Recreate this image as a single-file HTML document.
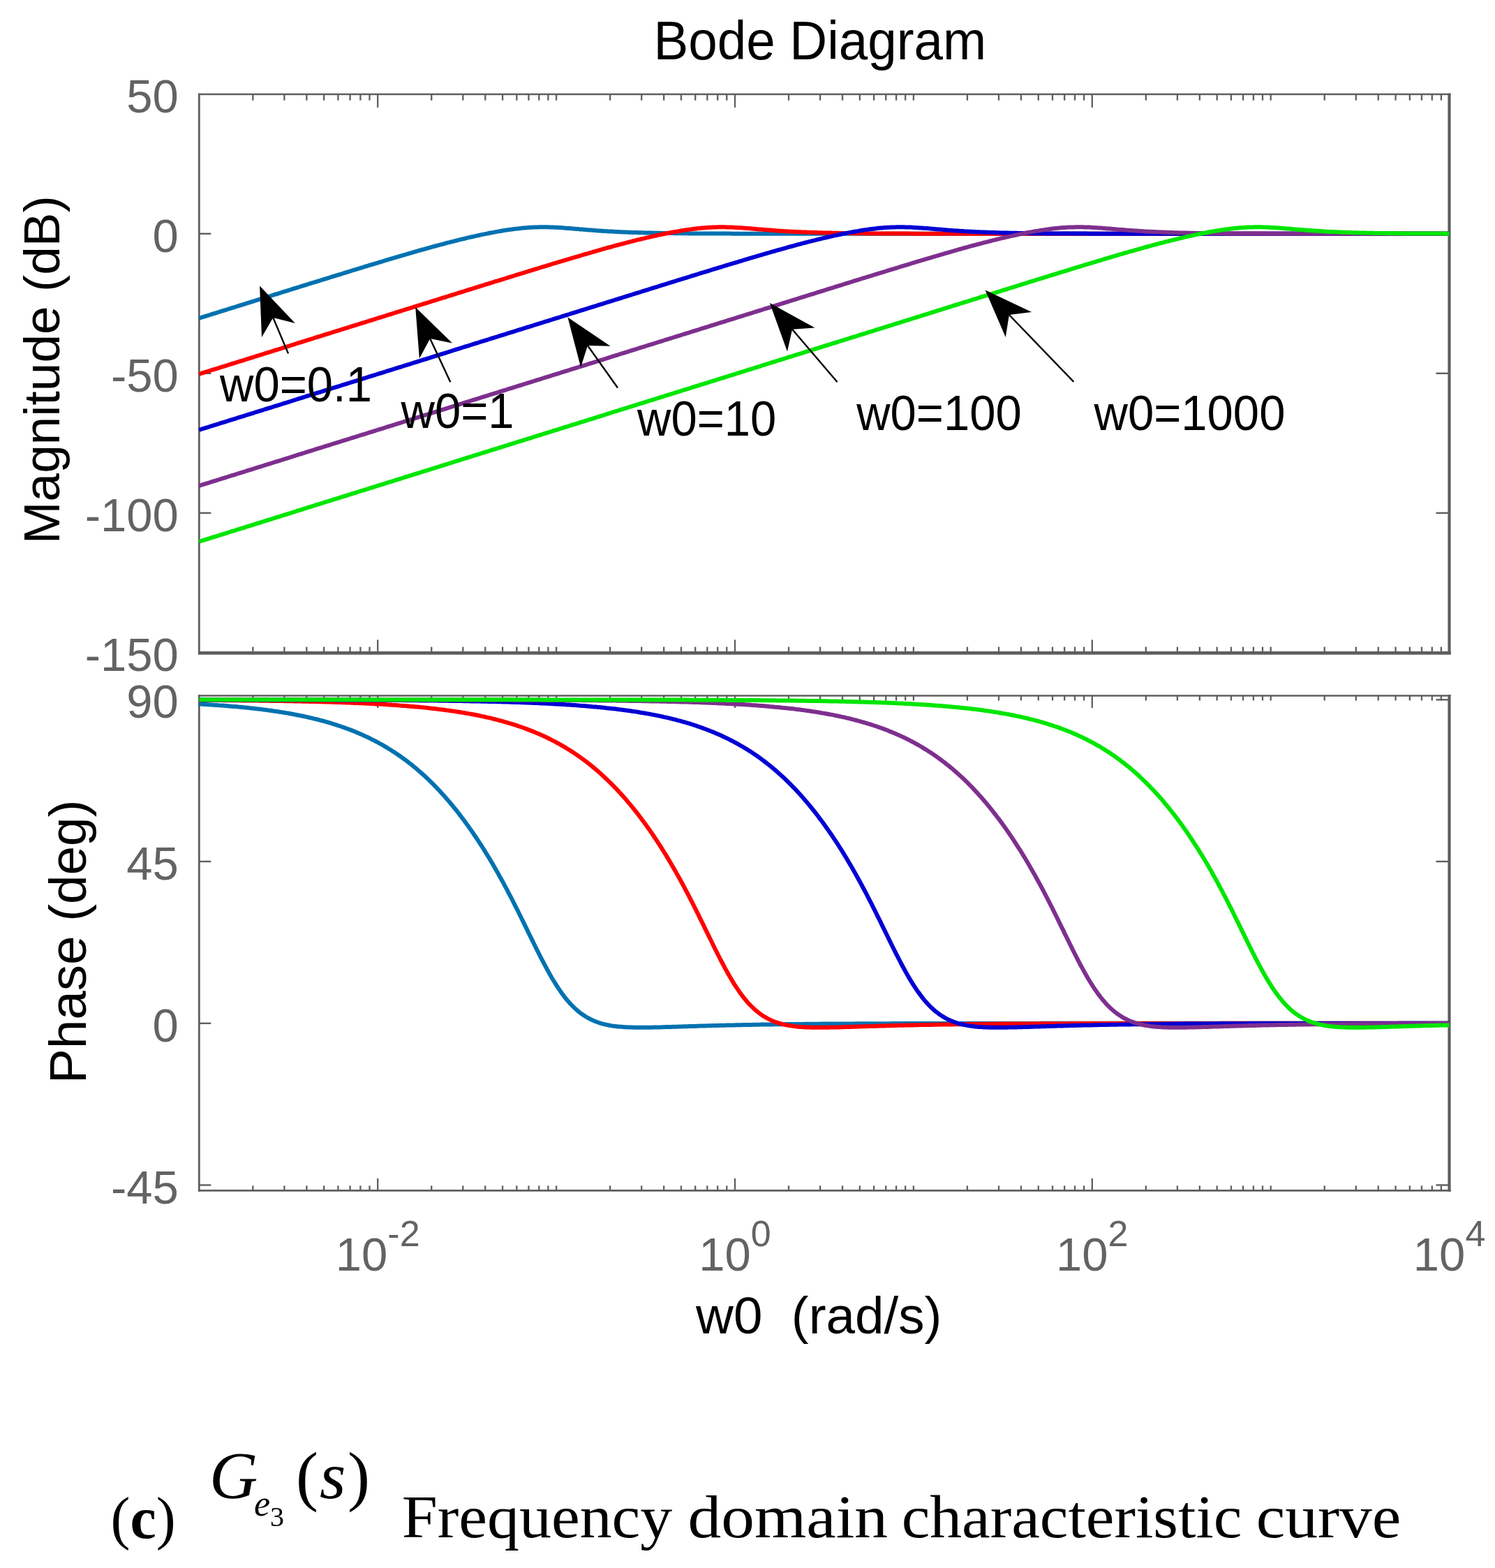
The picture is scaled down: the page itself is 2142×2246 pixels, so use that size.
<!DOCTYPE html>
<html><head><meta charset="utf-8"><title>Bode Diagram</title>
<style>html,body{margin:0;padding:0;background:#fff;} body{width:2142px;height:2246px;overflow:hidden;} svg{display:block;}</style>
</head><body>
<svg width="2142" height="2246" viewBox="0 0 2142 2246"><rect width="2142" height="2246" fill="#fff"/>
<line x1="283.9" y1="135.0" x2="2078.8" y2="135.0" stroke="#5e5e5e" stroke-width="2.4"/>
<line x1="283.9" y1="935.4" x2="2078.8" y2="935.4" stroke="#5e5e5e" stroke-width="4.6"/>
<line x1="285.3" y1="133.8" x2="285.3" y2="936.7" stroke="#5e5e5e" stroke-width="2.8"/>
<line x1="2076.5" y1="133.8" x2="2076.5" y2="936.7" stroke="#5e5e5e" stroke-width="4.2"/>
<line x1="362.33" y1="935.4" x2="362.33" y2="926.6" stroke="#5e5e5e" stroke-width="2.3"/>
<line x1="362.33" y1="135.0" x2="362.33" y2="143.8" stroke="#5e5e5e" stroke-width="2.3"/>
<line x1="407.40" y1="935.4" x2="407.40" y2="926.6" stroke="#5e5e5e" stroke-width="2.3"/>
<line x1="407.40" y1="135.0" x2="407.40" y2="143.8" stroke="#5e5e5e" stroke-width="2.3"/>
<line x1="439.37" y1="935.4" x2="439.37" y2="926.6" stroke="#5e5e5e" stroke-width="2.3"/>
<line x1="439.37" y1="135.0" x2="439.37" y2="143.8" stroke="#5e5e5e" stroke-width="2.3"/>
<line x1="464.17" y1="935.4" x2="464.17" y2="926.6" stroke="#5e5e5e" stroke-width="2.3"/>
<line x1="464.17" y1="135.0" x2="464.17" y2="143.8" stroke="#5e5e5e" stroke-width="2.3"/>
<line x1="484.43" y1="935.4" x2="484.43" y2="926.6" stroke="#5e5e5e" stroke-width="2.3"/>
<line x1="484.43" y1="135.0" x2="484.43" y2="143.8" stroke="#5e5e5e" stroke-width="2.3"/>
<line x1="501.56" y1="935.4" x2="501.56" y2="926.6" stroke="#5e5e5e" stroke-width="2.3"/>
<line x1="501.56" y1="135.0" x2="501.56" y2="143.8" stroke="#5e5e5e" stroke-width="2.3"/>
<line x1="516.40" y1="935.4" x2="516.40" y2="926.6" stroke="#5e5e5e" stroke-width="2.3"/>
<line x1="516.40" y1="135.0" x2="516.40" y2="143.8" stroke="#5e5e5e" stroke-width="2.3"/>
<line x1="529.49" y1="935.4" x2="529.49" y2="926.6" stroke="#5e5e5e" stroke-width="2.3"/>
<line x1="529.49" y1="135.0" x2="529.49" y2="143.8" stroke="#5e5e5e" stroke-width="2.3"/>
<line x1="541.20" y1="935.4" x2="541.20" y2="916.4" stroke="#5e5e5e" stroke-width="2.3"/>
<line x1="541.20" y1="135.0" x2="541.20" y2="154.0" stroke="#5e5e5e" stroke-width="2.3"/>
<line x1="618.23" y1="935.4" x2="618.23" y2="926.6" stroke="#5e5e5e" stroke-width="2.3"/>
<line x1="618.23" y1="135.0" x2="618.23" y2="143.8" stroke="#5e5e5e" stroke-width="2.3"/>
<line x1="663.30" y1="935.4" x2="663.30" y2="926.6" stroke="#5e5e5e" stroke-width="2.3"/>
<line x1="663.30" y1="135.0" x2="663.30" y2="143.8" stroke="#5e5e5e" stroke-width="2.3"/>
<line x1="695.27" y1="935.4" x2="695.27" y2="926.6" stroke="#5e5e5e" stroke-width="2.3"/>
<line x1="695.27" y1="135.0" x2="695.27" y2="143.8" stroke="#5e5e5e" stroke-width="2.3"/>
<line x1="720.07" y1="935.4" x2="720.07" y2="926.6" stroke="#5e5e5e" stroke-width="2.3"/>
<line x1="720.07" y1="135.0" x2="720.07" y2="143.8" stroke="#5e5e5e" stroke-width="2.3"/>
<line x1="740.33" y1="935.4" x2="740.33" y2="926.6" stroke="#5e5e5e" stroke-width="2.3"/>
<line x1="740.33" y1="135.0" x2="740.33" y2="143.8" stroke="#5e5e5e" stroke-width="2.3"/>
<line x1="757.46" y1="935.4" x2="757.46" y2="926.6" stroke="#5e5e5e" stroke-width="2.3"/>
<line x1="757.46" y1="135.0" x2="757.46" y2="143.8" stroke="#5e5e5e" stroke-width="2.3"/>
<line x1="772.30" y1="935.4" x2="772.30" y2="926.6" stroke="#5e5e5e" stroke-width="2.3"/>
<line x1="772.30" y1="135.0" x2="772.30" y2="143.8" stroke="#5e5e5e" stroke-width="2.3"/>
<line x1="785.39" y1="935.4" x2="785.39" y2="926.6" stroke="#5e5e5e" stroke-width="2.3"/>
<line x1="785.39" y1="135.0" x2="785.39" y2="143.8" stroke="#5e5e5e" stroke-width="2.3"/>
<line x1="797.10" y1="935.4" x2="797.10" y2="926.6" stroke="#5e5e5e" stroke-width="2.3"/>
<line x1="797.10" y1="135.0" x2="797.10" y2="143.8" stroke="#5e5e5e" stroke-width="2.3"/>
<line x1="874.13" y1="935.4" x2="874.13" y2="926.6" stroke="#5e5e5e" stroke-width="2.3"/>
<line x1="874.13" y1="135.0" x2="874.13" y2="143.8" stroke="#5e5e5e" stroke-width="2.3"/>
<line x1="919.20" y1="935.4" x2="919.20" y2="926.6" stroke="#5e5e5e" stroke-width="2.3"/>
<line x1="919.20" y1="135.0" x2="919.20" y2="143.8" stroke="#5e5e5e" stroke-width="2.3"/>
<line x1="951.17" y1="935.4" x2="951.17" y2="926.6" stroke="#5e5e5e" stroke-width="2.3"/>
<line x1="951.17" y1="135.0" x2="951.17" y2="143.8" stroke="#5e5e5e" stroke-width="2.3"/>
<line x1="975.97" y1="935.4" x2="975.97" y2="926.6" stroke="#5e5e5e" stroke-width="2.3"/>
<line x1="975.97" y1="135.0" x2="975.97" y2="143.8" stroke="#5e5e5e" stroke-width="2.3"/>
<line x1="996.23" y1="935.4" x2="996.23" y2="926.6" stroke="#5e5e5e" stroke-width="2.3"/>
<line x1="996.23" y1="135.0" x2="996.23" y2="143.8" stroke="#5e5e5e" stroke-width="2.3"/>
<line x1="1013.36" y1="935.4" x2="1013.36" y2="926.6" stroke="#5e5e5e" stroke-width="2.3"/>
<line x1="1013.36" y1="135.0" x2="1013.36" y2="143.8" stroke="#5e5e5e" stroke-width="2.3"/>
<line x1="1028.20" y1="935.4" x2="1028.20" y2="926.6" stroke="#5e5e5e" stroke-width="2.3"/>
<line x1="1028.20" y1="135.0" x2="1028.20" y2="143.8" stroke="#5e5e5e" stroke-width="2.3"/>
<line x1="1041.29" y1="935.4" x2="1041.29" y2="926.6" stroke="#5e5e5e" stroke-width="2.3"/>
<line x1="1041.29" y1="135.0" x2="1041.29" y2="143.8" stroke="#5e5e5e" stroke-width="2.3"/>
<line x1="1053.00" y1="935.4" x2="1053.00" y2="916.4" stroke="#5e5e5e" stroke-width="2.3"/>
<line x1="1053.00" y1="135.0" x2="1053.00" y2="154.0" stroke="#5e5e5e" stroke-width="2.3"/>
<line x1="1130.03" y1="935.4" x2="1130.03" y2="926.6" stroke="#5e5e5e" stroke-width="2.3"/>
<line x1="1130.03" y1="135.0" x2="1130.03" y2="143.8" stroke="#5e5e5e" stroke-width="2.3"/>
<line x1="1175.10" y1="935.4" x2="1175.10" y2="926.6" stroke="#5e5e5e" stroke-width="2.3"/>
<line x1="1175.10" y1="135.0" x2="1175.10" y2="143.8" stroke="#5e5e5e" stroke-width="2.3"/>
<line x1="1207.07" y1="935.4" x2="1207.07" y2="926.6" stroke="#5e5e5e" stroke-width="2.3"/>
<line x1="1207.07" y1="135.0" x2="1207.07" y2="143.8" stroke="#5e5e5e" stroke-width="2.3"/>
<line x1="1231.87" y1="935.4" x2="1231.87" y2="926.6" stroke="#5e5e5e" stroke-width="2.3"/>
<line x1="1231.87" y1="135.0" x2="1231.87" y2="143.8" stroke="#5e5e5e" stroke-width="2.3"/>
<line x1="1252.13" y1="935.4" x2="1252.13" y2="926.6" stroke="#5e5e5e" stroke-width="2.3"/>
<line x1="1252.13" y1="135.0" x2="1252.13" y2="143.8" stroke="#5e5e5e" stroke-width="2.3"/>
<line x1="1269.26" y1="935.4" x2="1269.26" y2="926.6" stroke="#5e5e5e" stroke-width="2.3"/>
<line x1="1269.26" y1="135.0" x2="1269.26" y2="143.8" stroke="#5e5e5e" stroke-width="2.3"/>
<line x1="1284.10" y1="935.4" x2="1284.10" y2="926.6" stroke="#5e5e5e" stroke-width="2.3"/>
<line x1="1284.10" y1="135.0" x2="1284.10" y2="143.8" stroke="#5e5e5e" stroke-width="2.3"/>
<line x1="1297.19" y1="935.4" x2="1297.19" y2="926.6" stroke="#5e5e5e" stroke-width="2.3"/>
<line x1="1297.19" y1="135.0" x2="1297.19" y2="143.8" stroke="#5e5e5e" stroke-width="2.3"/>
<line x1="1308.90" y1="935.4" x2="1308.90" y2="926.6" stroke="#5e5e5e" stroke-width="2.3"/>
<line x1="1308.90" y1="135.0" x2="1308.90" y2="143.8" stroke="#5e5e5e" stroke-width="2.3"/>
<line x1="1385.93" y1="935.4" x2="1385.93" y2="926.6" stroke="#5e5e5e" stroke-width="2.3"/>
<line x1="1385.93" y1="135.0" x2="1385.93" y2="143.8" stroke="#5e5e5e" stroke-width="2.3"/>
<line x1="1431.00" y1="935.4" x2="1431.00" y2="926.6" stroke="#5e5e5e" stroke-width="2.3"/>
<line x1="1431.00" y1="135.0" x2="1431.00" y2="143.8" stroke="#5e5e5e" stroke-width="2.3"/>
<line x1="1462.97" y1="935.4" x2="1462.97" y2="926.6" stroke="#5e5e5e" stroke-width="2.3"/>
<line x1="1462.97" y1="135.0" x2="1462.97" y2="143.8" stroke="#5e5e5e" stroke-width="2.3"/>
<line x1="1487.77" y1="935.4" x2="1487.77" y2="926.6" stroke="#5e5e5e" stroke-width="2.3"/>
<line x1="1487.77" y1="135.0" x2="1487.77" y2="143.8" stroke="#5e5e5e" stroke-width="2.3"/>
<line x1="1508.03" y1="935.4" x2="1508.03" y2="926.6" stroke="#5e5e5e" stroke-width="2.3"/>
<line x1="1508.03" y1="135.0" x2="1508.03" y2="143.8" stroke="#5e5e5e" stroke-width="2.3"/>
<line x1="1525.16" y1="935.4" x2="1525.16" y2="926.6" stroke="#5e5e5e" stroke-width="2.3"/>
<line x1="1525.16" y1="135.0" x2="1525.16" y2="143.8" stroke="#5e5e5e" stroke-width="2.3"/>
<line x1="1540.00" y1="935.4" x2="1540.00" y2="926.6" stroke="#5e5e5e" stroke-width="2.3"/>
<line x1="1540.00" y1="135.0" x2="1540.00" y2="143.8" stroke="#5e5e5e" stroke-width="2.3"/>
<line x1="1553.09" y1="935.4" x2="1553.09" y2="926.6" stroke="#5e5e5e" stroke-width="2.3"/>
<line x1="1553.09" y1="135.0" x2="1553.09" y2="143.8" stroke="#5e5e5e" stroke-width="2.3"/>
<line x1="1564.80" y1="935.4" x2="1564.80" y2="916.4" stroke="#5e5e5e" stroke-width="2.3"/>
<line x1="1564.80" y1="135.0" x2="1564.80" y2="154.0" stroke="#5e5e5e" stroke-width="2.3"/>
<line x1="1641.83" y1="935.4" x2="1641.83" y2="926.6" stroke="#5e5e5e" stroke-width="2.3"/>
<line x1="1641.83" y1="135.0" x2="1641.83" y2="143.8" stroke="#5e5e5e" stroke-width="2.3"/>
<line x1="1686.90" y1="935.4" x2="1686.90" y2="926.6" stroke="#5e5e5e" stroke-width="2.3"/>
<line x1="1686.90" y1="135.0" x2="1686.90" y2="143.8" stroke="#5e5e5e" stroke-width="2.3"/>
<line x1="1718.87" y1="935.4" x2="1718.87" y2="926.6" stroke="#5e5e5e" stroke-width="2.3"/>
<line x1="1718.87" y1="135.0" x2="1718.87" y2="143.8" stroke="#5e5e5e" stroke-width="2.3"/>
<line x1="1743.67" y1="935.4" x2="1743.67" y2="926.6" stroke="#5e5e5e" stroke-width="2.3"/>
<line x1="1743.67" y1="135.0" x2="1743.67" y2="143.8" stroke="#5e5e5e" stroke-width="2.3"/>
<line x1="1763.93" y1="935.4" x2="1763.93" y2="926.6" stroke="#5e5e5e" stroke-width="2.3"/>
<line x1="1763.93" y1="135.0" x2="1763.93" y2="143.8" stroke="#5e5e5e" stroke-width="2.3"/>
<line x1="1781.06" y1="935.4" x2="1781.06" y2="926.6" stroke="#5e5e5e" stroke-width="2.3"/>
<line x1="1781.06" y1="135.0" x2="1781.06" y2="143.8" stroke="#5e5e5e" stroke-width="2.3"/>
<line x1="1795.90" y1="935.4" x2="1795.90" y2="926.6" stroke="#5e5e5e" stroke-width="2.3"/>
<line x1="1795.90" y1="135.0" x2="1795.90" y2="143.8" stroke="#5e5e5e" stroke-width="2.3"/>
<line x1="1808.99" y1="935.4" x2="1808.99" y2="926.6" stroke="#5e5e5e" stroke-width="2.3"/>
<line x1="1808.99" y1="135.0" x2="1808.99" y2="143.8" stroke="#5e5e5e" stroke-width="2.3"/>
<line x1="1820.70" y1="935.4" x2="1820.70" y2="926.6" stroke="#5e5e5e" stroke-width="2.3"/>
<line x1="1820.70" y1="135.0" x2="1820.70" y2="143.8" stroke="#5e5e5e" stroke-width="2.3"/>
<line x1="1897.73" y1="935.4" x2="1897.73" y2="926.6" stroke="#5e5e5e" stroke-width="2.3"/>
<line x1="1897.73" y1="135.0" x2="1897.73" y2="143.8" stroke="#5e5e5e" stroke-width="2.3"/>
<line x1="1942.80" y1="935.4" x2="1942.80" y2="926.6" stroke="#5e5e5e" stroke-width="2.3"/>
<line x1="1942.80" y1="135.0" x2="1942.80" y2="143.8" stroke="#5e5e5e" stroke-width="2.3"/>
<line x1="1974.77" y1="935.4" x2="1974.77" y2="926.6" stroke="#5e5e5e" stroke-width="2.3"/>
<line x1="1974.77" y1="135.0" x2="1974.77" y2="143.8" stroke="#5e5e5e" stroke-width="2.3"/>
<line x1="1999.57" y1="935.4" x2="1999.57" y2="926.6" stroke="#5e5e5e" stroke-width="2.3"/>
<line x1="1999.57" y1="135.0" x2="1999.57" y2="143.8" stroke="#5e5e5e" stroke-width="2.3"/>
<line x1="2019.83" y1="935.4" x2="2019.83" y2="926.6" stroke="#5e5e5e" stroke-width="2.3"/>
<line x1="2019.83" y1="135.0" x2="2019.83" y2="143.8" stroke="#5e5e5e" stroke-width="2.3"/>
<line x1="2036.96" y1="935.4" x2="2036.96" y2="926.6" stroke="#5e5e5e" stroke-width="2.3"/>
<line x1="2036.96" y1="135.0" x2="2036.96" y2="143.8" stroke="#5e5e5e" stroke-width="2.3"/>
<line x1="2051.80" y1="935.4" x2="2051.80" y2="926.6" stroke="#5e5e5e" stroke-width="2.3"/>
<line x1="2051.80" y1="135.0" x2="2051.80" y2="143.8" stroke="#5e5e5e" stroke-width="2.3"/>
<line x1="2064.89" y1="935.4" x2="2064.89" y2="926.6" stroke="#5e5e5e" stroke-width="2.3"/>
<line x1="2064.89" y1="135.0" x2="2064.89" y2="143.8" stroke="#5e5e5e" stroke-width="2.3"/>
<line x1="285.3" y1="334.8" x2="302.3" y2="334.8" stroke="#5e5e5e" stroke-width="2.4"/>
<line x1="2076.5" y1="334.8" x2="2057.5" y2="334.8" stroke="#5e5e5e" stroke-width="2.4"/>
<line x1="285.3" y1="534.8" x2="302.3" y2="534.8" stroke="#5e5e5e" stroke-width="2.4"/>
<line x1="2076.5" y1="534.8" x2="2057.5" y2="534.8" stroke="#5e5e5e" stroke-width="2.4"/>
<line x1="285.3" y1="734.8" x2="302.3" y2="734.8" stroke="#5e5e5e" stroke-width="2.4"/>
<line x1="2076.5" y1="734.8" x2="2057.5" y2="734.8" stroke="#5e5e5e" stroke-width="2.4"/>
<line x1="283.9" y1="996.5" x2="2078.8" y2="996.5" stroke="#5e5e5e" stroke-width="2.4"/>
<line x1="283.9" y1="1705.4" x2="2078.8" y2="1705.4" stroke="#5e5e5e" stroke-width="2.6"/>
<line x1="285.3" y1="995.3" x2="285.3" y2="1706.7" stroke="#5e5e5e" stroke-width="2.8"/>
<line x1="2076.5" y1="995.3" x2="2076.5" y2="1706.7" stroke="#5e5e5e" stroke-width="4.2"/>
<line x1="362.33" y1="1705.4" x2="362.33" y2="1698.4" stroke="#5e5e5e" stroke-width="2.3"/>
<line x1="362.33" y1="996.5" x2="362.33" y2="1003.5" stroke="#5e5e5e" stroke-width="2.3"/>
<line x1="407.40" y1="1705.4" x2="407.40" y2="1698.4" stroke="#5e5e5e" stroke-width="2.3"/>
<line x1="407.40" y1="996.5" x2="407.40" y2="1003.5" stroke="#5e5e5e" stroke-width="2.3"/>
<line x1="439.37" y1="1705.4" x2="439.37" y2="1698.4" stroke="#5e5e5e" stroke-width="2.3"/>
<line x1="439.37" y1="996.5" x2="439.37" y2="1003.5" stroke="#5e5e5e" stroke-width="2.3"/>
<line x1="464.17" y1="1705.4" x2="464.17" y2="1698.4" stroke="#5e5e5e" stroke-width="2.3"/>
<line x1="464.17" y1="996.5" x2="464.17" y2="1003.5" stroke="#5e5e5e" stroke-width="2.3"/>
<line x1="484.43" y1="1705.4" x2="484.43" y2="1698.4" stroke="#5e5e5e" stroke-width="2.3"/>
<line x1="484.43" y1="996.5" x2="484.43" y2="1003.5" stroke="#5e5e5e" stroke-width="2.3"/>
<line x1="501.56" y1="1705.4" x2="501.56" y2="1698.4" stroke="#5e5e5e" stroke-width="2.3"/>
<line x1="501.56" y1="996.5" x2="501.56" y2="1003.5" stroke="#5e5e5e" stroke-width="2.3"/>
<line x1="516.40" y1="1705.4" x2="516.40" y2="1698.4" stroke="#5e5e5e" stroke-width="2.3"/>
<line x1="516.40" y1="996.5" x2="516.40" y2="1003.5" stroke="#5e5e5e" stroke-width="2.3"/>
<line x1="529.49" y1="1705.4" x2="529.49" y2="1698.4" stroke="#5e5e5e" stroke-width="2.3"/>
<line x1="529.49" y1="996.5" x2="529.49" y2="1003.5" stroke="#5e5e5e" stroke-width="2.3"/>
<line x1="541.20" y1="1705.4" x2="541.20" y2="1687.9" stroke="#5e5e5e" stroke-width="2.3"/>
<line x1="541.20" y1="996.5" x2="541.20" y2="1014.0" stroke="#5e5e5e" stroke-width="2.3"/>
<line x1="618.23" y1="1705.4" x2="618.23" y2="1698.4" stroke="#5e5e5e" stroke-width="2.3"/>
<line x1="618.23" y1="996.5" x2="618.23" y2="1003.5" stroke="#5e5e5e" stroke-width="2.3"/>
<line x1="663.30" y1="1705.4" x2="663.30" y2="1698.4" stroke="#5e5e5e" stroke-width="2.3"/>
<line x1="663.30" y1="996.5" x2="663.30" y2="1003.5" stroke="#5e5e5e" stroke-width="2.3"/>
<line x1="695.27" y1="1705.4" x2="695.27" y2="1698.4" stroke="#5e5e5e" stroke-width="2.3"/>
<line x1="695.27" y1="996.5" x2="695.27" y2="1003.5" stroke="#5e5e5e" stroke-width="2.3"/>
<line x1="720.07" y1="1705.4" x2="720.07" y2="1698.4" stroke="#5e5e5e" stroke-width="2.3"/>
<line x1="720.07" y1="996.5" x2="720.07" y2="1003.5" stroke="#5e5e5e" stroke-width="2.3"/>
<line x1="740.33" y1="1705.4" x2="740.33" y2="1698.4" stroke="#5e5e5e" stroke-width="2.3"/>
<line x1="740.33" y1="996.5" x2="740.33" y2="1003.5" stroke="#5e5e5e" stroke-width="2.3"/>
<line x1="757.46" y1="1705.4" x2="757.46" y2="1698.4" stroke="#5e5e5e" stroke-width="2.3"/>
<line x1="757.46" y1="996.5" x2="757.46" y2="1003.5" stroke="#5e5e5e" stroke-width="2.3"/>
<line x1="772.30" y1="1705.4" x2="772.30" y2="1698.4" stroke="#5e5e5e" stroke-width="2.3"/>
<line x1="772.30" y1="996.5" x2="772.30" y2="1003.5" stroke="#5e5e5e" stroke-width="2.3"/>
<line x1="785.39" y1="1705.4" x2="785.39" y2="1698.4" stroke="#5e5e5e" stroke-width="2.3"/>
<line x1="785.39" y1="996.5" x2="785.39" y2="1003.5" stroke="#5e5e5e" stroke-width="2.3"/>
<line x1="797.10" y1="1705.4" x2="797.10" y2="1698.4" stroke="#5e5e5e" stroke-width="2.3"/>
<line x1="797.10" y1="996.5" x2="797.10" y2="1003.5" stroke="#5e5e5e" stroke-width="2.3"/>
<line x1="874.13" y1="1705.4" x2="874.13" y2="1698.4" stroke="#5e5e5e" stroke-width="2.3"/>
<line x1="874.13" y1="996.5" x2="874.13" y2="1003.5" stroke="#5e5e5e" stroke-width="2.3"/>
<line x1="919.20" y1="1705.4" x2="919.20" y2="1698.4" stroke="#5e5e5e" stroke-width="2.3"/>
<line x1="919.20" y1="996.5" x2="919.20" y2="1003.5" stroke="#5e5e5e" stroke-width="2.3"/>
<line x1="951.17" y1="1705.4" x2="951.17" y2="1698.4" stroke="#5e5e5e" stroke-width="2.3"/>
<line x1="951.17" y1="996.5" x2="951.17" y2="1003.5" stroke="#5e5e5e" stroke-width="2.3"/>
<line x1="975.97" y1="1705.4" x2="975.97" y2="1698.4" stroke="#5e5e5e" stroke-width="2.3"/>
<line x1="975.97" y1="996.5" x2="975.97" y2="1003.5" stroke="#5e5e5e" stroke-width="2.3"/>
<line x1="996.23" y1="1705.4" x2="996.23" y2="1698.4" stroke="#5e5e5e" stroke-width="2.3"/>
<line x1="996.23" y1="996.5" x2="996.23" y2="1003.5" stroke="#5e5e5e" stroke-width="2.3"/>
<line x1="1013.36" y1="1705.4" x2="1013.36" y2="1698.4" stroke="#5e5e5e" stroke-width="2.3"/>
<line x1="1013.36" y1="996.5" x2="1013.36" y2="1003.5" stroke="#5e5e5e" stroke-width="2.3"/>
<line x1="1028.20" y1="1705.4" x2="1028.20" y2="1698.4" stroke="#5e5e5e" stroke-width="2.3"/>
<line x1="1028.20" y1="996.5" x2="1028.20" y2="1003.5" stroke="#5e5e5e" stroke-width="2.3"/>
<line x1="1041.29" y1="1705.4" x2="1041.29" y2="1698.4" stroke="#5e5e5e" stroke-width="2.3"/>
<line x1="1041.29" y1="996.5" x2="1041.29" y2="1003.5" stroke="#5e5e5e" stroke-width="2.3"/>
<line x1="1053.00" y1="1705.4" x2="1053.00" y2="1687.9" stroke="#5e5e5e" stroke-width="2.3"/>
<line x1="1053.00" y1="996.5" x2="1053.00" y2="1014.0" stroke="#5e5e5e" stroke-width="2.3"/>
<line x1="1130.03" y1="1705.4" x2="1130.03" y2="1698.4" stroke="#5e5e5e" stroke-width="2.3"/>
<line x1="1130.03" y1="996.5" x2="1130.03" y2="1003.5" stroke="#5e5e5e" stroke-width="2.3"/>
<line x1="1175.10" y1="1705.4" x2="1175.10" y2="1698.4" stroke="#5e5e5e" stroke-width="2.3"/>
<line x1="1175.10" y1="996.5" x2="1175.10" y2="1003.5" stroke="#5e5e5e" stroke-width="2.3"/>
<line x1="1207.07" y1="1705.4" x2="1207.07" y2="1698.4" stroke="#5e5e5e" stroke-width="2.3"/>
<line x1="1207.07" y1="996.5" x2="1207.07" y2="1003.5" stroke="#5e5e5e" stroke-width="2.3"/>
<line x1="1231.87" y1="1705.4" x2="1231.87" y2="1698.4" stroke="#5e5e5e" stroke-width="2.3"/>
<line x1="1231.87" y1="996.5" x2="1231.87" y2="1003.5" stroke="#5e5e5e" stroke-width="2.3"/>
<line x1="1252.13" y1="1705.4" x2="1252.13" y2="1698.4" stroke="#5e5e5e" stroke-width="2.3"/>
<line x1="1252.13" y1="996.5" x2="1252.13" y2="1003.5" stroke="#5e5e5e" stroke-width="2.3"/>
<line x1="1269.26" y1="1705.4" x2="1269.26" y2="1698.4" stroke="#5e5e5e" stroke-width="2.3"/>
<line x1="1269.26" y1="996.5" x2="1269.26" y2="1003.5" stroke="#5e5e5e" stroke-width="2.3"/>
<line x1="1284.10" y1="1705.4" x2="1284.10" y2="1698.4" stroke="#5e5e5e" stroke-width="2.3"/>
<line x1="1284.10" y1="996.5" x2="1284.10" y2="1003.5" stroke="#5e5e5e" stroke-width="2.3"/>
<line x1="1297.19" y1="1705.4" x2="1297.19" y2="1698.4" stroke="#5e5e5e" stroke-width="2.3"/>
<line x1="1297.19" y1="996.5" x2="1297.19" y2="1003.5" stroke="#5e5e5e" stroke-width="2.3"/>
<line x1="1308.90" y1="1705.4" x2="1308.90" y2="1698.4" stroke="#5e5e5e" stroke-width="2.3"/>
<line x1="1308.90" y1="996.5" x2="1308.90" y2="1003.5" stroke="#5e5e5e" stroke-width="2.3"/>
<line x1="1385.93" y1="1705.4" x2="1385.93" y2="1698.4" stroke="#5e5e5e" stroke-width="2.3"/>
<line x1="1385.93" y1="996.5" x2="1385.93" y2="1003.5" stroke="#5e5e5e" stroke-width="2.3"/>
<line x1="1431.00" y1="1705.4" x2="1431.00" y2="1698.4" stroke="#5e5e5e" stroke-width="2.3"/>
<line x1="1431.00" y1="996.5" x2="1431.00" y2="1003.5" stroke="#5e5e5e" stroke-width="2.3"/>
<line x1="1462.97" y1="1705.4" x2="1462.97" y2="1698.4" stroke="#5e5e5e" stroke-width="2.3"/>
<line x1="1462.97" y1="996.5" x2="1462.97" y2="1003.5" stroke="#5e5e5e" stroke-width="2.3"/>
<line x1="1487.77" y1="1705.4" x2="1487.77" y2="1698.4" stroke="#5e5e5e" stroke-width="2.3"/>
<line x1="1487.77" y1="996.5" x2="1487.77" y2="1003.5" stroke="#5e5e5e" stroke-width="2.3"/>
<line x1="1508.03" y1="1705.4" x2="1508.03" y2="1698.4" stroke="#5e5e5e" stroke-width="2.3"/>
<line x1="1508.03" y1="996.5" x2="1508.03" y2="1003.5" stroke="#5e5e5e" stroke-width="2.3"/>
<line x1="1525.16" y1="1705.4" x2="1525.16" y2="1698.4" stroke="#5e5e5e" stroke-width="2.3"/>
<line x1="1525.16" y1="996.5" x2="1525.16" y2="1003.5" stroke="#5e5e5e" stroke-width="2.3"/>
<line x1="1540.00" y1="1705.4" x2="1540.00" y2="1698.4" stroke="#5e5e5e" stroke-width="2.3"/>
<line x1="1540.00" y1="996.5" x2="1540.00" y2="1003.5" stroke="#5e5e5e" stroke-width="2.3"/>
<line x1="1553.09" y1="1705.4" x2="1553.09" y2="1698.4" stroke="#5e5e5e" stroke-width="2.3"/>
<line x1="1553.09" y1="996.5" x2="1553.09" y2="1003.5" stroke="#5e5e5e" stroke-width="2.3"/>
<line x1="1564.80" y1="1705.4" x2="1564.80" y2="1687.9" stroke="#5e5e5e" stroke-width="2.3"/>
<line x1="1564.80" y1="996.5" x2="1564.80" y2="1014.0" stroke="#5e5e5e" stroke-width="2.3"/>
<line x1="1641.83" y1="1705.4" x2="1641.83" y2="1698.4" stroke="#5e5e5e" stroke-width="2.3"/>
<line x1="1641.83" y1="996.5" x2="1641.83" y2="1003.5" stroke="#5e5e5e" stroke-width="2.3"/>
<line x1="1686.90" y1="1705.4" x2="1686.90" y2="1698.4" stroke="#5e5e5e" stroke-width="2.3"/>
<line x1="1686.90" y1="996.5" x2="1686.90" y2="1003.5" stroke="#5e5e5e" stroke-width="2.3"/>
<line x1="1718.87" y1="1705.4" x2="1718.87" y2="1698.4" stroke="#5e5e5e" stroke-width="2.3"/>
<line x1="1718.87" y1="996.5" x2="1718.87" y2="1003.5" stroke="#5e5e5e" stroke-width="2.3"/>
<line x1="1743.67" y1="1705.4" x2="1743.67" y2="1698.4" stroke="#5e5e5e" stroke-width="2.3"/>
<line x1="1743.67" y1="996.5" x2="1743.67" y2="1003.5" stroke="#5e5e5e" stroke-width="2.3"/>
<line x1="1763.93" y1="1705.4" x2="1763.93" y2="1698.4" stroke="#5e5e5e" stroke-width="2.3"/>
<line x1="1763.93" y1="996.5" x2="1763.93" y2="1003.5" stroke="#5e5e5e" stroke-width="2.3"/>
<line x1="1781.06" y1="1705.4" x2="1781.06" y2="1698.4" stroke="#5e5e5e" stroke-width="2.3"/>
<line x1="1781.06" y1="996.5" x2="1781.06" y2="1003.5" stroke="#5e5e5e" stroke-width="2.3"/>
<line x1="1795.90" y1="1705.4" x2="1795.90" y2="1698.4" stroke="#5e5e5e" stroke-width="2.3"/>
<line x1="1795.90" y1="996.5" x2="1795.90" y2="1003.5" stroke="#5e5e5e" stroke-width="2.3"/>
<line x1="1808.99" y1="1705.4" x2="1808.99" y2="1698.4" stroke="#5e5e5e" stroke-width="2.3"/>
<line x1="1808.99" y1="996.5" x2="1808.99" y2="1003.5" stroke="#5e5e5e" stroke-width="2.3"/>
<line x1="1820.70" y1="1705.4" x2="1820.70" y2="1698.4" stroke="#5e5e5e" stroke-width="2.3"/>
<line x1="1820.70" y1="996.5" x2="1820.70" y2="1003.5" stroke="#5e5e5e" stroke-width="2.3"/>
<line x1="1897.73" y1="1705.4" x2="1897.73" y2="1698.4" stroke="#5e5e5e" stroke-width="2.3"/>
<line x1="1897.73" y1="996.5" x2="1897.73" y2="1003.5" stroke="#5e5e5e" stroke-width="2.3"/>
<line x1="1942.80" y1="1705.4" x2="1942.80" y2="1698.4" stroke="#5e5e5e" stroke-width="2.3"/>
<line x1="1942.80" y1="996.5" x2="1942.80" y2="1003.5" stroke="#5e5e5e" stroke-width="2.3"/>
<line x1="1974.77" y1="1705.4" x2="1974.77" y2="1698.4" stroke="#5e5e5e" stroke-width="2.3"/>
<line x1="1974.77" y1="996.5" x2="1974.77" y2="1003.5" stroke="#5e5e5e" stroke-width="2.3"/>
<line x1="1999.57" y1="1705.4" x2="1999.57" y2="1698.4" stroke="#5e5e5e" stroke-width="2.3"/>
<line x1="1999.57" y1="996.5" x2="1999.57" y2="1003.5" stroke="#5e5e5e" stroke-width="2.3"/>
<line x1="2019.83" y1="1705.4" x2="2019.83" y2="1698.4" stroke="#5e5e5e" stroke-width="2.3"/>
<line x1="2019.83" y1="996.5" x2="2019.83" y2="1003.5" stroke="#5e5e5e" stroke-width="2.3"/>
<line x1="2036.96" y1="1705.4" x2="2036.96" y2="1698.4" stroke="#5e5e5e" stroke-width="2.3"/>
<line x1="2036.96" y1="996.5" x2="2036.96" y2="1003.5" stroke="#5e5e5e" stroke-width="2.3"/>
<line x1="2051.80" y1="1705.4" x2="2051.80" y2="1698.4" stroke="#5e5e5e" stroke-width="2.3"/>
<line x1="2051.80" y1="996.5" x2="2051.80" y2="1003.5" stroke="#5e5e5e" stroke-width="2.3"/>
<line x1="2064.89" y1="1705.4" x2="2064.89" y2="1698.4" stroke="#5e5e5e" stroke-width="2.3"/>
<line x1="2064.89" y1="996.5" x2="2064.89" y2="1003.5" stroke="#5e5e5e" stroke-width="2.3"/>
<line x1="285.3" y1="1002.3" x2="302.3" y2="1002.3" stroke="#5e5e5e" stroke-width="2.4"/>
<line x1="2076.5" y1="1002.3" x2="2057.5" y2="1002.3" stroke="#5e5e5e" stroke-width="2.4"/>
<line x1="285.3" y1="1234.0" x2="302.3" y2="1234.0" stroke="#5e5e5e" stroke-width="2.4"/>
<line x1="2076.5" y1="1234.0" x2="2057.5" y2="1234.0" stroke="#5e5e5e" stroke-width="2.4"/>
<line x1="285.3" y1="1465.8" x2="302.3" y2="1465.8" stroke="#5e5e5e" stroke-width="2.4"/>
<line x1="2076.5" y1="1465.8" x2="2057.5" y2="1465.8" stroke="#5e5e5e" stroke-width="2.4"/>
<line x1="285.3" y1="1697.5" x2="302.3" y2="1697.5" stroke="#5e5e5e" stroke-width="2.4"/>
<line x1="2076.5" y1="1697.5" x2="2057.5" y2="1697.5" stroke="#5e5e5e" stroke-width="2.4"/>
<g fill="none" stroke-width="6.0" stroke-linejoin="round" stroke-linecap="butt">
<polyline stroke="#0072b0" points="285.3,455.8 287.9,455.0 290.4,454.2 293.0,453.4 295.6,452.6 298.1,451.8 300.7,451.0 303.2,450.2 305.8,449.4 308.4,448.6 310.9,447.8 313.5,447.0 316.1,446.2 318.6,445.4 321.2,444.6 323.7,443.8 326.3,443.0 328.9,442.2 331.4,441.4 334.0,440.6 336.6,439.8 339.1,439.0 341.7,438.2 344.2,437.4 346.8,436.6 349.4,435.8 351.9,435.0 354.5,434.2 357.1,433.4 359.6,432.6 362.2,431.8 364.7,431.0 367.3,430.2 369.9,429.4 372.4,428.6 375.0,427.8 377.6,427.0 380.1,426.2 382.7,425.4 385.2,424.6 387.8,423.8 390.4,423.0 392.9,422.2 395.5,421.4 398.1,420.6 400.6,419.8 403.2,419.0 405.7,418.2 408.3,417.4 410.9,416.6 413.4,415.8 416.0,415.0 418.6,414.2 421.1,413.4 423.7,412.6 426.2,411.8 428.8,411.0 431.4,410.2 433.9,409.4 436.5,408.6 439.1,407.8 441.6,407.0 444.2,406.2 446.7,405.4 449.3,404.7 451.9,403.9 454.4,403.1 457.0,402.3 459.6,401.5 462.1,400.7 464.7,399.9 467.2,399.1 469.8,398.3 472.4,397.5 474.9,396.7 477.5,395.9 480.1,395.1 482.6,394.3 485.2,393.5 487.8,392.8 490.3,392.0 492.9,391.2 495.4,390.4 498.0,389.6 500.6,388.8 503.1,388.0 505.7,387.2 508.3,386.4 510.8,385.7 513.4,384.9 515.9,384.1 518.5,383.3 521.1,382.5 523.6,381.7 526.2,381.0 528.8,380.2 531.3,379.4 533.9,378.6 536.4,377.8 539.0,377.1 541.6,376.3 544.1,375.5 546.7,374.8 549.3,374.0 551.8,373.2 554.4,372.4 556.9,371.7 559.5,370.9 562.1,370.1 564.6,369.4 567.2,368.6 569.8,367.9 572.3,367.1 574.9,366.4 577.4,365.6 580.0,364.9 582.6,364.1 585.1,363.4 587.7,362.6 590.3,361.9 592.8,361.1 595.4,360.4 597.9,359.7 600.5,358.9 603.1,358.2 605.6,357.5 608.2,356.8 610.8,356.0 613.3,355.3 615.9,354.6 618.4,353.9 621.0,353.2 623.6,352.5 626.1,351.8 628.7,351.1 631.3,350.4 633.8,349.8 636.4,349.1 638.9,348.4 641.5,347.7 644.1,347.1 646.6,346.4 649.2,345.8 651.8,345.1 654.3,344.5 656.9,343.8 659.4,343.2 662.0,342.6 664.6,342.0 667.1,341.3 669.7,340.7 672.3,340.1 674.8,339.5 677.4,339.0 679.9,338.4 682.5,337.8 685.1,337.2 687.6,336.7 690.2,336.1 692.8,335.6 695.3,335.1 697.9,334.6 700.5,334.0 703.0,333.5 705.6,333.1 708.1,332.6 710.7,332.1 713.3,331.6 715.8,331.2 718.4,330.8 721.0,330.3 723.5,329.9 726.1,329.5 728.6,329.1 731.2,328.8 733.8,328.4 736.3,328.1 738.9,327.8 741.5,327.4 744.0,327.2 746.6,326.9 749.1,326.6 751.7,326.4 754.3,326.2 756.8,326.0 759.4,325.8 762.0,325.7 764.5,325.6 767.1,325.5 769.6,325.4 772.2,325.3 774.8,325.3 777.3,325.3 779.9,325.3 782.5,325.3 785.0,325.3 787.6,325.4 790.1,325.5 792.7,325.6 795.3,325.7 797.8,325.8 800.4,326.0 803.0,326.1 805.5,326.3 808.1,326.5 810.6,326.7 813.2,326.9 815.8,327.1 818.3,327.3 820.9,327.5 823.5,327.7 826.0,327.9 828.6,328.1 831.1,328.4 833.7,328.6 836.3,328.8 838.8,329.0 841.4,329.2 844.0,329.4 846.5,329.6 849.1,329.8 851.6,330.0 854.2,330.2 856.8,330.4 859.3,330.5 861.9,330.7 864.5,330.9 867.0,331.1 869.6,331.2 872.1,331.4 874.7,331.5 877.3,331.6 879.8,331.8 882.4,331.9 885.0,332.0 887.5,332.2 890.1,332.3 892.7,332.4 895.2,332.5 897.8,332.6 900.3,332.7 902.9,332.8 905.5,332.9 908.0,333.0 910.6,333.0 913.2,333.1 915.7,333.2 918.3,333.3 920.8,333.3 923.4,333.4 926.0,333.5 928.5,333.5 931.1,333.6 933.7,333.6 936.2,333.7 938.8,333.7 941.3,333.8 943.9,333.8 946.5,333.9 949.0,333.9 951.6,334.0 954.2,334.0 956.7,334.0 959.3,334.1 961.8,334.1 964.4,334.1 967.0,334.2 969.5,334.2 972.1,334.2 974.7,334.2 977.2,334.3 979.8,334.3 982.3,334.3 984.9,334.3 987.5,334.4 990.0,334.4 992.6,334.4 995.2,334.4 997.7,334.4 1000.3,334.5 1002.8,334.5 1005.4,334.5 1008.0,334.5 1010.5,334.5 1013.1,334.5 1015.7,334.5 1018.2,334.5 1020.8,334.6 1023.3,334.6 1025.9,334.6 1028.5,334.6 1031.0,334.6 1033.6,334.6 1036.2,334.6 1038.7,334.6 1041.3,334.6 1043.8,334.6 1046.4,334.6 1049.0,334.7 1051.5,334.7 1054.1,334.7 1056.7,334.7 1059.2,334.7 1061.8,334.7 1064.3,334.7 1066.9,334.7 1069.5,334.7 1072.0,334.7 1074.6,334.7 1077.2,334.7 1079.7,334.7 1082.3,334.7 1084.9,334.7 1087.4,334.7 1090.0,334.7 1092.5,334.7 1095.1,334.7 1097.7,334.7 1100.2,334.7 1102.8,334.7 1105.4,334.7 1107.9,334.8 1110.5,334.8 1113.0,334.8 1115.6,334.8 1118.2,334.8 1120.7,334.8 1123.3,334.8 1125.9,334.8 1128.4,334.8 1131.0,334.8 1133.5,334.8 1136.1,334.8 1138.7,334.8 1141.2,334.8 1143.8,334.8 1146.4,334.8 1148.9,334.8 1151.5,334.8 1154.0,334.8 1156.6,334.8 1159.2,334.8 1161.7,334.8 1164.3,334.8 1166.9,334.8 1169.4,334.8 1172.0,334.8 1174.5,334.8 1177.1,334.8 1179.7,334.8 1182.2,334.8 1184.8,334.8 1187.4,334.8 1189.9,334.8 1192.5,334.8 1195.0,334.8 1197.6,334.8 1200.2,334.8 1202.7,334.8 1205.3,334.8 1207.9,334.8 1210.4,334.8 1213.0,334.8 1215.5,334.8 1218.1,334.8 1220.7,334.8 1223.2,334.8 1225.8,334.8 1228.4,334.8 1230.9,334.8 1233.5,334.8 1236.0,334.8 1238.6,334.8 1241.2,334.8 1243.7,334.8 1246.3,334.8 1248.9,334.8 1251.4,334.8 1254.0,334.8 1256.5,334.8 1259.1,334.8 1261.7,334.8 1264.2,334.8 1266.8,334.8 1269.4,334.8 1271.9,334.8 1274.5,334.8 1277.0,334.8 1279.6,334.8 1282.2,334.8 1284.7,334.8 1287.3,334.8 1289.9,334.8 1292.4,334.8 1295.0,334.8 1297.6,334.8 1300.1,334.8 1302.7,334.8 1305.2,334.8 1307.8,334.8 1310.4,334.8 1312.9,334.8 1315.5,334.8 1318.1,334.8 1320.6,334.8 1323.2,334.8 1325.7,334.8 1328.3,334.8 1330.9,334.8 1333.4,334.8 1336.0,334.8 1338.6,334.8 1341.1,334.8 1343.7,334.8 1346.2,334.8 1348.8,334.8 1351.4,334.8 1353.9,334.8 1356.5,334.8 1359.1,334.8 1361.6,334.8 1364.2,334.8 1366.7,334.8 1369.3,334.8 1371.9,334.8 1374.4,334.8 1377.0,334.8 1379.6,334.8 1382.1,334.8 1384.7,334.8 1387.2,334.8 1389.8,334.8 1392.4,334.8 1394.9,334.8 1397.5,334.8 1400.1,334.8 1402.6,334.8 1405.2,334.8 1407.7,334.8 1410.3,334.8 1412.9,334.8 1415.4,334.8 1418.0,334.8 1420.6,334.8 1423.1,334.8 1425.7,334.8 1428.2,334.8 1430.8,334.8 1433.4,334.8 1435.9,334.8 1438.5,334.8 1441.1,334.8 1443.6,334.8 1446.2,334.8 1448.7,334.8 1451.3,334.8 1453.9,334.8 1456.4,334.8 1459.0,334.8 1461.6,334.8 1464.1,334.8 1466.7,334.8 1469.2,334.8 1471.8,334.8 1474.4,334.8 1476.9,334.8 1479.5,334.8 1482.1,334.8 1484.6,334.8 1487.2,334.8 1489.8,334.8 1492.3,334.8 1494.9,334.8 1497.4,334.8 1500.0,334.8 1502.6,334.8 1505.1,334.8 1507.7,334.8 1510.3,334.8 1512.8,334.8 1515.4,334.8 1517.9,334.8 1520.5,334.8 1523.1,334.8 1525.6,334.8 1528.2,334.8 1530.8,334.8 1533.3,334.8 1535.9,334.8 1538.4,334.8 1541.0,334.8 1543.6,334.8 1546.1,334.8 1548.7,334.8 1551.3,334.8 1553.8,334.8 1556.4,334.8 1558.9,334.8 1561.5,334.8 1564.1,334.8 1566.6,334.8 1569.2,334.8 1571.8,334.8 1574.3,334.8 1576.9,334.8 1579.4,334.8 1582.0,334.8 1584.6,334.8 1587.1,334.8 1589.7,334.8 1592.3,334.8 1594.8,334.8 1597.4,334.8 1599.9,334.8 1602.5,334.8 1605.1,334.8 1607.6,334.8 1610.2,334.8 1612.8,334.8 1615.3,334.8 1617.9,334.8 1620.4,334.8 1623.0,334.8 1625.6,334.8 1628.1,334.8 1630.7,334.8 1633.3,334.8 1635.8,334.8 1638.4,334.8 1640.9,334.8 1643.5,334.8 1646.1,334.8 1648.6,334.8 1651.2,334.8 1653.8,334.8 1656.3,334.8 1658.9,334.8 1661.4,334.8 1664.0,334.8 1666.6,334.8 1669.1,334.8 1671.7,334.8 1674.3,334.8 1676.8,334.8 1679.4,334.8 1682.0,334.8 1684.5,334.8 1687.1,334.8 1689.6,334.8 1692.2,334.8 1694.8,334.8 1697.3,334.8 1699.9,334.8 1702.5,334.8 1705.0,334.8 1707.6,334.8 1710.1,334.8 1712.7,334.8 1715.3,334.8 1717.8,334.8 1720.4,334.8 1723.0,334.8 1725.5,334.8 1728.1,334.8 1730.6,334.8 1733.2,334.8 1735.8,334.8 1738.3,334.8 1740.9,334.8 1743.5,334.8 1746.0,334.8 1748.6,334.8 1751.1,334.8 1753.7,334.8 1756.3,334.8 1758.8,334.8 1761.4,334.8 1764.0,334.8 1766.5,334.8 1769.1,334.8 1771.6,334.8 1774.2,334.8 1776.8,334.8 1779.3,334.8 1781.9,334.8 1784.5,334.8 1787.0,334.8 1789.6,334.8 1792.1,334.8 1794.7,334.8 1797.3,334.8 1799.8,334.8 1802.4,334.8 1805.0,334.8 1807.5,334.8 1810.1,334.8 1812.6,334.8 1815.2,334.8 1817.8,334.8 1820.3,334.8 1822.9,334.8 1825.5,334.8 1828.0,334.8 1830.6,334.8 1833.1,334.8 1835.7,334.8 1838.3,334.8 1840.8,334.8 1843.4,334.8 1846.0,334.8 1848.5,334.8 1851.1,334.8 1853.6,334.8 1856.2,334.8 1858.8,334.8 1861.3,334.8 1863.9,334.8 1866.5,334.8 1869.0,334.8 1871.6,334.8 1874.1,334.8 1876.7,334.8 1879.3,334.8 1881.8,334.8 1884.4,334.8 1887.0,334.8 1889.5,334.8 1892.1,334.8 1894.7,334.8 1897.2,334.8 1899.8,334.8 1902.3,334.8 1904.9,334.8 1907.5,334.8 1910.0,334.8 1912.6,334.8 1915.2,334.8 1917.7,334.8 1920.3,334.8 1922.8,334.8 1925.4,334.8 1928.0,334.8 1930.5,334.8 1933.1,334.8 1935.7,334.8 1938.2,334.8 1940.8,334.8 1943.3,334.8 1945.9,334.8 1948.5,334.8 1951.0,334.8 1953.6,334.8 1956.2,334.8 1958.7,334.8 1961.3,334.8 1963.8,334.8 1966.4,334.8 1969.0,334.8 1971.5,334.8 1974.1,334.8 1976.7,334.8 1979.2,334.8 1981.8,334.8 1984.3,334.8 1986.9,334.8 1989.5,334.8 1992.0,334.8 1994.6,334.8 1997.2,334.8 1999.7,334.8 2002.3,334.8 2004.8,334.8 2007.4,334.8 2010.0,334.8 2012.5,334.8 2015.1,334.8 2017.7,334.8 2020.2,334.8 2022.8,334.8 2025.3,334.8 2027.9,334.8 2030.5,334.8 2033.0,334.8 2035.6,334.8 2038.2,334.8 2040.7,334.8 2043.3,334.8 2045.8,334.8 2048.4,334.8 2051.0,334.8 2053.5,334.8 2056.1,334.8 2058.7,334.8 2061.2,334.8 2063.8,334.8 2066.3,334.8 2068.9,334.8 2071.5,334.8 2074.0,334.8 2076.6,334.8"/>
<polyline stroke="#ff0000" points="285.3,535.8 287.9,535.0 290.4,534.2 293.0,533.4 295.6,532.6 298.1,531.8 300.7,531.0 303.2,530.2 305.8,529.4 308.4,528.6 310.9,527.8 313.5,527.0 316.1,526.2 318.6,525.4 321.2,524.6 323.7,523.8 326.3,523.0 328.9,522.2 331.4,521.4 334.0,520.6 336.6,519.8 339.1,519.0 341.7,518.2 344.2,517.4 346.8,516.6 349.4,515.8 351.9,515.0 354.5,514.2 357.1,513.4 359.6,512.6 362.2,511.8 364.7,511.0 367.3,510.2 369.9,509.4 372.4,508.6 375.0,507.8 377.6,507.0 380.1,506.2 382.7,505.4 385.2,504.6 387.8,503.8 390.4,503.0 392.9,502.2 395.5,501.4 398.1,500.6 400.6,499.8 403.2,499.0 405.7,498.2 408.3,497.4 410.9,496.6 413.4,495.8 416.0,495.0 418.6,494.2 421.1,493.4 423.7,492.5 426.2,491.7 428.8,490.9 431.4,490.1 433.9,489.3 436.5,488.5 439.1,487.7 441.6,486.9 444.2,486.1 446.7,485.3 449.3,484.5 451.9,483.7 454.4,482.9 457.0,482.1 459.6,481.3 462.1,480.5 464.7,479.7 467.2,478.9 469.8,478.1 472.4,477.3 474.9,476.5 477.5,475.7 480.1,474.9 482.6,474.1 485.2,473.3 487.8,472.5 490.3,471.7 492.9,470.9 495.4,470.1 498.0,469.3 500.6,468.5 503.1,467.7 505.7,466.9 508.3,466.1 510.8,465.3 513.4,464.5 515.9,463.7 518.5,462.9 521.1,462.1 523.6,461.3 526.2,460.5 528.8,459.7 531.3,458.9 533.9,458.1 536.4,457.3 539.0,456.5 541.6,455.7 544.1,454.9 546.7,454.1 549.3,453.3 551.8,452.5 554.4,451.7 556.9,450.9 559.5,450.1 562.1,449.3 564.6,448.5 567.2,447.7 569.8,446.9 572.3,446.1 574.9,445.3 577.4,444.5 580.0,443.7 582.6,442.9 585.1,442.1 587.7,441.3 590.3,440.5 592.8,439.7 595.4,438.9 597.9,438.1 600.5,437.3 603.1,436.5 605.6,435.7 608.2,434.9 610.8,434.1 613.3,433.3 615.9,432.5 618.4,431.7 621.0,430.9 623.6,430.1 626.1,429.3 628.7,428.5 631.3,427.7 633.8,426.9 636.4,426.1 638.9,425.3 641.5,424.5 644.1,423.7 646.6,422.9 649.2,422.1 651.8,421.3 654.3,420.5 656.9,419.7 659.4,418.9 662.0,418.1 664.6,417.3 667.1,416.5 669.7,415.7 672.3,414.9 674.8,414.1 677.4,413.3 679.9,412.5 682.5,411.7 685.1,410.9 687.6,410.1 690.2,409.3 692.8,408.5 695.3,407.7 697.9,406.9 700.5,406.1 703.0,405.3 705.6,404.5 708.1,403.7 710.7,402.9 713.3,402.2 715.8,401.4 718.4,400.6 721.0,399.8 723.5,399.0 726.1,398.2 728.6,397.4 731.2,396.6 733.8,395.8 736.3,395.0 738.9,394.2 741.5,393.4 744.0,392.6 746.6,391.8 749.1,391.1 751.7,390.3 754.3,389.5 756.8,388.7 759.4,387.9 762.0,387.1 764.5,386.3 767.1,385.5 769.6,384.8 772.2,384.0 774.8,383.2 777.3,382.4 779.9,381.6 782.5,380.9 785.0,380.1 787.6,379.3 790.1,378.5 792.7,377.7 795.3,377.0 797.8,376.2 800.4,375.4 803.0,374.6 805.5,373.9 808.1,373.1 810.6,372.3 813.2,371.6 815.8,370.8 818.3,370.0 820.9,369.3 823.5,368.5 826.0,367.8 828.6,367.0 831.1,366.3 833.7,365.5 836.3,364.7 838.8,364.0 841.4,363.3 844.0,362.5 846.5,361.8 849.1,361.0 851.6,360.3 854.2,359.6 856.8,358.8 859.3,358.1 861.9,357.4 864.5,356.7 867.0,355.9 869.6,355.2 872.1,354.5 874.7,353.8 877.3,353.1 879.8,352.4 882.4,351.7 885.0,351.0 887.5,350.3 890.1,349.7 892.7,349.0 895.2,348.3 897.8,347.6 900.3,347.0 902.9,346.3 905.5,345.7 908.0,345.0 910.6,344.4 913.2,343.7 915.7,343.1 918.3,342.5 920.8,341.9 923.4,341.3 926.0,340.7 928.5,340.1 931.1,339.5 933.7,338.9 936.2,338.3 938.8,337.7 941.3,337.2 943.9,336.6 946.5,336.1 949.0,335.5 951.6,335.0 954.2,334.5 956.7,334.0 959.3,333.5 961.8,333.0 964.4,332.5 967.0,332.0 969.5,331.6 972.1,331.1 974.7,330.7 977.2,330.3 979.8,329.9 982.3,329.5 984.9,329.1 987.5,328.7 990.0,328.4 992.6,328.0 995.2,327.7 997.7,327.4 1000.3,327.1 1002.8,326.9 1005.4,326.6 1008.0,326.4 1010.5,326.2 1013.1,326.0 1015.7,325.8 1018.2,325.7 1020.8,325.6 1023.3,325.5 1025.9,325.4 1028.5,325.3 1031.0,325.3 1033.6,325.3 1036.2,325.3 1038.7,325.3 1041.3,325.4 1043.8,325.4 1046.4,325.5 1049.0,325.6 1051.5,325.7 1054.1,325.9 1056.7,326.0 1059.2,326.2 1061.8,326.3 1064.3,326.5 1066.9,326.7 1069.5,326.9 1072.0,327.1 1074.6,327.3 1077.2,327.5 1079.7,327.7 1082.3,327.9 1084.9,328.2 1087.4,328.4 1090.0,328.6 1092.5,328.8 1095.1,329.0 1097.7,329.2 1100.2,329.4 1102.8,329.6 1105.4,329.8 1107.9,330.0 1110.5,330.2 1113.0,330.4 1115.6,330.6 1118.2,330.7 1120.7,330.9 1123.3,331.1 1125.9,331.2 1128.4,331.4 1131.0,331.5 1133.5,331.7 1136.1,331.8 1138.7,331.9 1141.2,332.1 1143.8,332.2 1146.4,332.3 1148.9,332.4 1151.5,332.5 1154.0,332.6 1156.6,332.7 1159.2,332.8 1161.7,332.9 1164.3,333.0 1166.9,333.1 1169.4,333.1 1172.0,333.2 1174.5,333.3 1177.1,333.3 1179.7,333.4 1182.2,333.5 1184.8,333.5 1187.4,333.6 1189.9,333.6 1192.5,333.7 1195.0,333.7 1197.6,333.8 1200.2,333.8 1202.7,333.9 1205.3,333.9 1207.9,334.0 1210.4,334.0 1213.0,334.0 1215.5,334.1 1218.1,334.1 1220.7,334.1 1223.2,334.2 1225.8,334.2 1228.4,334.2 1230.9,334.3 1233.5,334.3 1236.0,334.3 1238.6,334.3 1241.2,334.3 1243.7,334.4 1246.3,334.4 1248.9,334.4 1251.4,334.4 1254.0,334.4 1256.5,334.5 1259.1,334.5 1261.7,334.5 1264.2,334.5 1266.8,334.5 1269.4,334.5 1271.9,334.5 1274.5,334.6 1277.0,334.6 1279.6,334.6 1282.2,334.6 1284.7,334.6 1287.3,334.6 1289.9,334.6 1292.4,334.6 1295.0,334.6 1297.6,334.6 1300.1,334.6 1302.7,334.6 1305.2,334.7 1307.8,334.7 1310.4,334.7 1312.9,334.7 1315.5,334.7 1318.1,334.7 1320.6,334.7 1323.2,334.7 1325.7,334.7 1328.3,334.7 1330.9,334.7 1333.4,334.7 1336.0,334.7 1338.6,334.7 1341.1,334.7 1343.7,334.7 1346.2,334.7 1348.8,334.7 1351.4,334.7 1353.9,334.7 1356.5,334.7 1359.1,334.7 1361.6,334.7 1364.2,334.8 1366.7,334.8 1369.3,334.8 1371.9,334.8 1374.4,334.8 1377.0,334.8 1379.6,334.8 1382.1,334.8 1384.7,334.8 1387.2,334.8 1389.8,334.8 1392.4,334.8 1394.9,334.8 1397.5,334.8 1400.1,334.8 1402.6,334.8 1405.2,334.8 1407.7,334.8 1410.3,334.8 1412.9,334.8 1415.4,334.8 1418.0,334.8 1420.6,334.8 1423.1,334.8 1425.7,334.8 1428.2,334.8 1430.8,334.8 1433.4,334.8 1435.9,334.8 1438.5,334.8 1441.1,334.8 1443.6,334.8 1446.2,334.8 1448.7,334.8 1451.3,334.8 1453.9,334.8 1456.4,334.8 1459.0,334.8 1461.6,334.8 1464.1,334.8 1466.7,334.8 1469.2,334.8 1471.8,334.8 1474.4,334.8 1476.9,334.8 1479.5,334.8 1482.1,334.8 1484.6,334.8 1487.2,334.8 1489.8,334.8 1492.3,334.8 1494.9,334.8 1497.4,334.8 1500.0,334.8 1502.6,334.8 1505.1,334.8 1507.7,334.8 1510.3,334.8 1512.8,334.8 1515.4,334.8 1517.9,334.8 1520.5,334.8 1523.1,334.8 1525.6,334.8 1528.2,334.8 1530.8,334.8 1533.3,334.8 1535.9,334.8 1538.4,334.8 1541.0,334.8 1543.6,334.8 1546.1,334.8 1548.7,334.8 1551.3,334.8 1553.8,334.8 1556.4,334.8 1558.9,334.8 1561.5,334.8 1564.1,334.8 1566.6,334.8 1569.2,334.8 1571.8,334.8 1574.3,334.8 1576.9,334.8 1579.4,334.8 1582.0,334.8 1584.6,334.8 1587.1,334.8 1589.7,334.8 1592.3,334.8 1594.8,334.8 1597.4,334.8 1599.9,334.8 1602.5,334.8 1605.1,334.8 1607.6,334.8 1610.2,334.8 1612.8,334.8 1615.3,334.8 1617.9,334.8 1620.4,334.8 1623.0,334.8 1625.6,334.8 1628.1,334.8 1630.7,334.8 1633.3,334.8 1635.8,334.8 1638.4,334.8 1640.9,334.8 1643.5,334.8 1646.1,334.8 1648.6,334.8 1651.2,334.8 1653.8,334.8 1656.3,334.8 1658.9,334.8 1661.4,334.8 1664.0,334.8 1666.6,334.8 1669.1,334.8 1671.7,334.8 1674.3,334.8 1676.8,334.8 1679.4,334.8 1682.0,334.8 1684.5,334.8 1687.1,334.8 1689.6,334.8 1692.2,334.8 1694.8,334.8 1697.3,334.8 1699.9,334.8 1702.5,334.8 1705.0,334.8 1707.6,334.8 1710.1,334.8 1712.7,334.8 1715.3,334.8 1717.8,334.8 1720.4,334.8 1723.0,334.8 1725.5,334.8 1728.1,334.8 1730.6,334.8 1733.2,334.8 1735.8,334.8 1738.3,334.8 1740.9,334.8 1743.5,334.8 1746.0,334.8 1748.6,334.8 1751.1,334.8 1753.7,334.8 1756.3,334.8 1758.8,334.8 1761.4,334.8 1764.0,334.8 1766.5,334.8 1769.1,334.8 1771.6,334.8 1774.2,334.8 1776.8,334.8 1779.3,334.8 1781.9,334.8 1784.5,334.8 1787.0,334.8 1789.6,334.8 1792.1,334.8 1794.7,334.8 1797.3,334.8 1799.8,334.8 1802.4,334.8 1805.0,334.8 1807.5,334.8 1810.1,334.8 1812.6,334.8 1815.2,334.8 1817.8,334.8 1820.3,334.8 1822.9,334.8 1825.5,334.8 1828.0,334.8 1830.6,334.8 1833.1,334.8 1835.7,334.8 1838.3,334.8 1840.8,334.8 1843.4,334.8 1846.0,334.8 1848.5,334.8 1851.1,334.8 1853.6,334.8 1856.2,334.8 1858.8,334.8 1861.3,334.8 1863.9,334.8 1866.5,334.8 1869.0,334.8 1871.6,334.8 1874.1,334.8 1876.7,334.8 1879.3,334.8 1881.8,334.8 1884.4,334.8 1887.0,334.8 1889.5,334.8 1892.1,334.8 1894.7,334.8 1897.2,334.8 1899.8,334.8 1902.3,334.8 1904.9,334.8 1907.5,334.8 1910.0,334.8 1912.6,334.8 1915.2,334.8 1917.7,334.8 1920.3,334.8 1922.8,334.8 1925.4,334.8 1928.0,334.8 1930.5,334.8 1933.1,334.8 1935.7,334.8 1938.2,334.8 1940.8,334.8 1943.3,334.8 1945.9,334.8 1948.5,334.8 1951.0,334.8 1953.6,334.8 1956.2,334.8 1958.7,334.8 1961.3,334.8 1963.8,334.8 1966.4,334.8 1969.0,334.8 1971.5,334.8 1974.1,334.8 1976.7,334.8 1979.2,334.8 1981.8,334.8 1984.3,334.8 1986.9,334.8 1989.5,334.8 1992.0,334.8 1994.6,334.8 1997.2,334.8 1999.7,334.8 2002.3,334.8 2004.8,334.8 2007.4,334.8 2010.0,334.8 2012.5,334.8 2015.1,334.8 2017.7,334.8 2020.2,334.8 2022.8,334.8 2025.3,334.8 2027.9,334.8 2030.5,334.8 2033.0,334.8 2035.6,334.8 2038.2,334.8 2040.7,334.8 2043.3,334.8 2045.8,334.8 2048.4,334.8 2051.0,334.8 2053.5,334.8 2056.1,334.8 2058.7,334.8 2061.2,334.8 2063.8,334.8 2066.3,334.8 2068.9,334.8 2071.5,334.8 2074.0,334.8 2076.6,334.8"/>
<polyline stroke="#0000d4" points="285.3,615.8 287.9,615.0 290.4,614.2 293.0,613.4 295.6,612.6 298.1,611.8 300.7,611.0 303.2,610.2 305.8,609.4 308.4,608.6 310.9,607.8 313.5,607.0 316.1,606.2 318.6,605.4 321.2,604.6 323.7,603.8 326.3,603.0 328.9,602.2 331.4,601.4 334.0,600.6 336.6,599.8 339.1,599.0 341.7,598.2 344.2,597.4 346.8,596.6 349.4,595.8 351.9,595.0 354.5,594.2 357.1,593.4 359.6,592.6 362.2,591.8 364.7,591.0 367.3,590.2 369.9,589.4 372.4,588.6 375.0,587.8 377.6,587.0 380.1,586.2 382.7,585.4 385.2,584.6 387.8,583.8 390.4,583.0 392.9,582.2 395.5,581.4 398.1,580.6 400.6,579.8 403.2,579.0 405.7,578.2 408.3,577.4 410.9,576.6 413.4,575.8 416.0,575.0 418.6,574.2 421.1,573.3 423.7,572.5 426.2,571.7 428.8,570.9 431.4,570.1 433.9,569.3 436.5,568.5 439.1,567.7 441.6,566.9 444.2,566.1 446.7,565.3 449.3,564.5 451.9,563.7 454.4,562.9 457.0,562.1 459.6,561.3 462.1,560.5 464.7,559.7 467.2,558.9 469.8,558.1 472.4,557.3 474.9,556.5 477.5,555.7 480.1,554.9 482.6,554.1 485.2,553.3 487.8,552.5 490.3,551.7 492.9,550.9 495.4,550.1 498.0,549.3 500.6,548.5 503.1,547.7 505.7,546.9 508.3,546.1 510.8,545.3 513.4,544.5 515.9,543.7 518.5,542.9 521.1,542.1 523.6,541.3 526.2,540.5 528.8,539.7 531.3,538.9 533.9,538.1 536.4,537.3 539.0,536.5 541.6,535.7 544.1,534.9 546.7,534.1 549.3,533.3 551.8,532.5 554.4,531.7 556.9,530.9 559.5,530.1 562.1,529.3 564.6,528.5 567.2,527.7 569.8,526.9 572.3,526.1 574.9,525.3 577.4,524.5 580.0,523.7 582.6,522.9 585.1,522.1 587.7,521.3 590.3,520.5 592.8,519.7 595.4,518.9 597.9,518.1 600.5,517.3 603.1,516.5 605.6,515.7 608.2,514.9 610.8,514.1 613.3,513.3 615.9,512.5 618.4,511.7 621.0,510.9 623.6,510.1 626.1,509.3 628.7,508.5 631.3,507.7 633.8,506.9 636.4,506.1 638.9,505.3 641.5,504.5 644.1,503.7 646.6,502.8 649.2,502.0 651.8,501.2 654.3,500.4 656.9,499.6 659.4,498.8 662.0,498.0 664.6,497.2 667.1,496.4 669.7,495.6 672.3,494.8 674.8,494.0 677.4,493.2 679.9,492.4 682.5,491.6 685.1,490.8 687.6,490.0 690.2,489.2 692.8,488.4 695.3,487.6 697.9,486.8 700.5,486.0 703.0,485.2 705.6,484.4 708.1,483.6 710.7,482.8 713.3,482.0 715.8,481.2 718.4,480.4 721.0,479.6 723.5,478.8 726.1,478.0 728.6,477.2 731.2,476.4 733.8,475.6 736.3,474.8 738.9,474.0 741.5,473.2 744.0,472.4 746.6,471.6 749.1,470.8 751.7,470.0 754.3,469.2 756.8,468.4 759.4,467.6 762.0,466.8 764.5,466.0 767.1,465.2 769.6,464.4 772.2,463.6 774.8,462.8 777.3,462.0 779.9,461.2 782.5,460.4 785.0,459.6 787.6,458.8 790.1,458.0 792.7,457.2 795.3,456.4 797.8,455.6 800.4,454.8 803.0,454.0 805.5,453.2 808.1,452.4 810.6,451.6 813.2,450.8 815.8,450.0 818.3,449.2 820.9,448.4 823.5,447.6 826.0,446.8 828.6,446.0 831.1,445.2 833.7,444.4 836.3,443.6 838.8,442.8 841.4,442.0 844.0,441.2 846.5,440.4 849.1,439.6 851.6,438.8 854.2,438.0 856.8,437.2 859.3,436.4 861.9,435.6 864.5,434.8 867.0,434.0 869.6,433.2 872.1,432.4 874.7,431.6 877.3,430.8 879.8,430.0 882.4,429.2 885.0,428.4 887.5,427.6 890.1,426.8 892.7,426.0 895.2,425.2 897.8,424.4 900.3,423.6 902.9,422.8 905.5,422.0 908.0,421.2 910.6,420.4 913.2,419.6 915.7,418.8 918.3,418.0 920.8,417.2 923.4,416.4 926.0,415.6 928.5,414.8 931.1,414.0 933.7,413.2 936.2,412.4 938.8,411.6 941.3,410.8 943.9,410.0 946.5,409.2 949.0,408.4 951.6,407.6 954.2,406.8 956.7,406.0 959.3,405.2 961.8,404.4 964.4,403.6 967.0,402.8 969.5,402.0 972.1,401.2 974.7,400.5 977.2,399.7 979.8,398.9 982.3,398.1 984.9,397.3 987.5,396.5 990.0,395.7 992.6,394.9 995.2,394.1 997.7,393.3 1000.3,392.5 1002.8,391.7 1005.4,390.9 1008.0,390.2 1010.5,389.4 1013.1,388.6 1015.7,387.8 1018.2,387.0 1020.8,386.2 1023.3,385.4 1025.9,384.7 1028.5,383.9 1031.0,383.1 1033.6,382.3 1036.2,381.5 1038.7,380.7 1041.3,380.0 1043.8,379.2 1046.4,378.4 1049.0,377.6 1051.5,376.9 1054.1,376.1 1056.7,375.3 1059.2,374.5 1061.8,373.8 1064.3,373.0 1066.9,372.2 1069.5,371.5 1072.0,370.7 1074.6,369.9 1077.2,369.2 1079.7,368.4 1082.3,367.7 1084.9,366.9 1087.4,366.1 1090.0,365.4 1092.5,364.6 1095.1,363.9 1097.7,363.1 1100.2,362.4 1102.8,361.7 1105.4,360.9 1107.9,360.2 1110.5,359.5 1113.0,358.7 1115.6,358.0 1118.2,357.3 1120.7,356.6 1123.3,355.8 1125.9,355.1 1128.4,354.4 1131.0,353.7 1133.5,353.0 1136.1,352.3 1138.7,351.6 1141.2,350.9 1143.8,350.2 1146.4,349.6 1148.9,348.9 1151.5,348.2 1154.0,347.5 1156.6,346.9 1159.2,346.2 1161.7,345.6 1164.3,344.9 1166.9,344.3 1169.4,343.6 1172.0,343.0 1174.5,342.4 1177.1,341.8 1179.7,341.2 1182.2,340.6 1184.8,340.0 1187.4,339.4 1189.9,338.8 1192.5,338.2 1195.0,337.6 1197.6,337.1 1200.2,336.5 1202.7,336.0 1205.3,335.5 1207.9,334.9 1210.4,334.4 1213.0,333.9 1215.5,333.4 1218.1,332.9 1220.7,332.4 1223.2,332.0 1225.8,331.5 1228.4,331.1 1230.9,330.6 1233.5,330.2 1236.0,329.8 1238.6,329.4 1241.2,329.0 1243.7,328.7 1246.3,328.3 1248.9,328.0 1251.4,327.7 1254.0,327.4 1256.5,327.1 1259.1,326.8 1261.7,326.6 1264.2,326.4 1266.8,326.1 1269.4,326.0 1271.9,325.8 1274.5,325.7 1277.0,325.5 1279.6,325.4 1282.2,325.4 1284.7,325.3 1287.3,325.3 1289.9,325.3 1292.4,325.3 1295.0,325.3 1297.6,325.4 1300.1,325.4 1302.7,325.5 1305.2,325.6 1307.8,325.7 1310.4,325.9 1312.9,326.0 1315.5,326.2 1318.1,326.4 1320.6,326.5 1323.2,326.7 1325.7,326.9 1328.3,327.1 1330.9,327.3 1333.4,327.6 1336.0,327.8 1338.6,328.0 1341.1,328.2 1343.7,328.4 1346.2,328.6 1348.8,328.8 1351.4,329.1 1353.9,329.3 1356.5,329.5 1359.1,329.7 1361.6,329.9 1364.2,330.1 1366.7,330.2 1369.3,330.4 1371.9,330.6 1374.4,330.8 1377.0,330.9 1379.6,331.1 1382.1,331.3 1384.7,331.4 1387.2,331.5 1389.8,331.7 1392.4,331.8 1394.9,331.9 1397.5,332.1 1400.1,332.2 1402.6,332.3 1405.2,332.4 1407.7,332.5 1410.3,332.6 1412.9,332.7 1415.4,332.8 1418.0,332.9 1420.6,333.0 1423.1,333.1 1425.7,333.1 1428.2,333.2 1430.8,333.3 1433.4,333.4 1435.9,333.4 1438.5,333.5 1441.1,333.5 1443.6,333.6 1446.2,333.7 1448.7,333.7 1451.3,333.8 1453.9,333.8 1456.4,333.8 1459.0,333.9 1461.6,333.9 1464.1,334.0 1466.7,334.0 1469.2,334.0 1471.8,334.1 1474.4,334.1 1476.9,334.1 1479.5,334.2 1482.1,334.2 1484.6,334.2 1487.2,334.3 1489.8,334.3 1492.3,334.3 1494.9,334.3 1497.4,334.3 1500.0,334.4 1502.6,334.4 1505.1,334.4 1507.7,334.4 1510.3,334.4 1512.8,334.5 1515.4,334.5 1517.9,334.5 1520.5,334.5 1523.1,334.5 1525.6,334.5 1528.2,334.5 1530.8,334.6 1533.3,334.6 1535.9,334.6 1538.4,334.6 1541.0,334.6 1543.6,334.6 1546.1,334.6 1548.7,334.6 1551.3,334.6 1553.8,334.6 1556.4,334.6 1558.9,334.7 1561.5,334.7 1564.1,334.7 1566.6,334.7 1569.2,334.7 1571.8,334.7 1574.3,334.7 1576.9,334.7 1579.4,334.7 1582.0,334.7 1584.6,334.7 1587.1,334.7 1589.7,334.7 1592.3,334.7 1594.8,334.7 1597.4,334.7 1599.9,334.7 1602.5,334.7 1605.1,334.7 1607.6,334.7 1610.2,334.7 1612.8,334.7 1615.3,334.7 1617.9,334.7 1620.4,334.8 1623.0,334.8 1625.6,334.8 1628.1,334.8 1630.7,334.8 1633.3,334.8 1635.8,334.8 1638.4,334.8 1640.9,334.8 1643.5,334.8 1646.1,334.8 1648.6,334.8 1651.2,334.8 1653.8,334.8 1656.3,334.8 1658.9,334.8 1661.4,334.8 1664.0,334.8 1666.6,334.8 1669.1,334.8 1671.7,334.8 1674.3,334.8 1676.8,334.8 1679.4,334.8 1682.0,334.8 1684.5,334.8 1687.1,334.8 1689.6,334.8 1692.2,334.8 1694.8,334.8 1697.3,334.8 1699.9,334.8 1702.5,334.8 1705.0,334.8 1707.6,334.8 1710.1,334.8 1712.7,334.8 1715.3,334.8 1717.8,334.8 1720.4,334.8 1723.0,334.8 1725.5,334.8 1728.1,334.8 1730.6,334.8 1733.2,334.8 1735.8,334.8 1738.3,334.8 1740.9,334.8 1743.5,334.8 1746.0,334.8 1748.6,334.8 1751.1,334.8 1753.7,334.8 1756.3,334.8 1758.8,334.8 1761.4,334.8 1764.0,334.8 1766.5,334.8 1769.1,334.8 1771.6,334.8 1774.2,334.8 1776.8,334.8 1779.3,334.8 1781.9,334.8 1784.5,334.8 1787.0,334.8 1789.6,334.8 1792.1,334.8 1794.7,334.8 1797.3,334.8 1799.8,334.8 1802.4,334.8 1805.0,334.8 1807.5,334.8 1810.1,334.8 1812.6,334.8 1815.2,334.8 1817.8,334.8 1820.3,334.8 1822.9,334.8 1825.5,334.8 1828.0,334.8 1830.6,334.8 1833.1,334.8 1835.7,334.8 1838.3,334.8 1840.8,334.8 1843.4,334.8 1846.0,334.8 1848.5,334.8 1851.1,334.8 1853.6,334.8 1856.2,334.8 1858.8,334.8 1861.3,334.8 1863.9,334.8 1866.5,334.8 1869.0,334.8 1871.6,334.8 1874.1,334.8 1876.7,334.8 1879.3,334.8 1881.8,334.8 1884.4,334.8 1887.0,334.8 1889.5,334.8 1892.1,334.8 1894.7,334.8 1897.2,334.8 1899.8,334.8 1902.3,334.8 1904.9,334.8 1907.5,334.8 1910.0,334.8 1912.6,334.8 1915.2,334.8 1917.7,334.8 1920.3,334.8 1922.8,334.8 1925.4,334.8 1928.0,334.8 1930.5,334.8 1933.1,334.8 1935.7,334.8 1938.2,334.8 1940.8,334.8 1943.3,334.8 1945.9,334.8 1948.5,334.8 1951.0,334.8 1953.6,334.8 1956.2,334.8 1958.7,334.8 1961.3,334.8 1963.8,334.8 1966.4,334.8 1969.0,334.8 1971.5,334.8 1974.1,334.8 1976.7,334.8 1979.2,334.8 1981.8,334.8 1984.3,334.8 1986.9,334.8 1989.5,334.8 1992.0,334.8 1994.6,334.8 1997.2,334.8 1999.7,334.8 2002.3,334.8 2004.8,334.8 2007.4,334.8 2010.0,334.8 2012.5,334.8 2015.1,334.8 2017.7,334.8 2020.2,334.8 2022.8,334.8 2025.3,334.8 2027.9,334.8 2030.5,334.8 2033.0,334.8 2035.6,334.8 2038.2,334.8 2040.7,334.8 2043.3,334.8 2045.8,334.8 2048.4,334.8 2051.0,334.8 2053.5,334.8 2056.1,334.8 2058.7,334.8 2061.2,334.8 2063.8,334.8 2066.3,334.8 2068.9,334.8 2071.5,334.8 2074.0,334.8 2076.6,334.8"/>
<polyline stroke="#7e2f8e" points="285.3,695.8 287.9,695.0 290.4,694.2 293.0,693.4 295.6,692.6 298.1,691.8 300.7,691.0 303.2,690.2 305.8,689.4 308.4,688.6 310.9,687.8 313.5,687.0 316.1,686.2 318.6,685.4 321.2,684.6 323.7,683.8 326.3,683.0 328.9,682.2 331.4,681.4 334.0,680.6 336.6,679.8 339.1,679.0 341.7,678.2 344.2,677.4 346.8,676.6 349.4,675.8 351.9,675.0 354.5,674.2 357.1,673.4 359.6,672.6 362.2,671.8 364.7,671.0 367.3,670.2 369.9,669.4 372.4,668.6 375.0,667.8 377.6,667.0 380.1,666.2 382.7,665.4 385.2,664.6 387.8,663.8 390.4,663.0 392.9,662.2 395.5,661.4 398.1,660.6 400.6,659.8 403.2,659.0 405.7,658.2 408.3,657.4 410.9,656.6 413.4,655.8 416.0,655.0 418.6,654.2 421.1,653.3 423.7,652.5 426.2,651.7 428.8,650.9 431.4,650.1 433.9,649.3 436.5,648.5 439.1,647.7 441.6,646.9 444.2,646.1 446.7,645.3 449.3,644.5 451.9,643.7 454.4,642.9 457.0,642.1 459.6,641.3 462.1,640.5 464.7,639.7 467.2,638.9 469.8,638.1 472.4,637.3 474.9,636.5 477.5,635.7 480.1,634.9 482.6,634.1 485.2,633.3 487.8,632.5 490.3,631.7 492.9,630.9 495.4,630.1 498.0,629.3 500.6,628.5 503.1,627.7 505.7,626.9 508.3,626.1 510.8,625.3 513.4,624.5 515.9,623.7 518.5,622.9 521.1,622.1 523.6,621.3 526.2,620.5 528.8,619.7 531.3,618.9 533.9,618.1 536.4,617.3 539.0,616.5 541.6,615.7 544.1,614.9 546.7,614.1 549.3,613.3 551.8,612.5 554.4,611.7 556.9,610.9 559.5,610.1 562.1,609.3 564.6,608.5 567.2,607.7 569.8,606.9 572.3,606.1 574.9,605.3 577.4,604.5 580.0,603.7 582.6,602.9 585.1,602.1 587.7,601.3 590.3,600.5 592.8,599.7 595.4,598.9 597.9,598.1 600.5,597.3 603.1,596.5 605.6,595.7 608.2,594.9 610.8,594.1 613.3,593.3 615.9,592.5 618.4,591.7 621.0,590.9 623.6,590.1 626.1,589.3 628.7,588.5 631.3,587.7 633.8,586.9 636.4,586.1 638.9,585.3 641.5,584.5 644.1,583.7 646.6,582.8 649.2,582.0 651.8,581.2 654.3,580.4 656.9,579.6 659.4,578.8 662.0,578.0 664.6,577.2 667.1,576.4 669.7,575.6 672.3,574.8 674.8,574.0 677.4,573.2 679.9,572.4 682.5,571.6 685.1,570.8 687.6,570.0 690.2,569.2 692.8,568.4 695.3,567.6 697.9,566.8 700.5,566.0 703.0,565.2 705.6,564.4 708.1,563.6 710.7,562.8 713.3,562.0 715.8,561.2 718.4,560.4 721.0,559.6 723.5,558.8 726.1,558.0 728.6,557.2 731.2,556.4 733.8,555.6 736.3,554.8 738.9,554.0 741.5,553.2 744.0,552.4 746.6,551.6 749.1,550.8 751.7,550.0 754.3,549.2 756.8,548.4 759.4,547.6 762.0,546.8 764.5,546.0 767.1,545.2 769.6,544.4 772.2,543.6 774.8,542.8 777.3,542.0 779.9,541.2 782.5,540.4 785.0,539.6 787.6,538.8 790.1,538.0 792.7,537.2 795.3,536.4 797.8,535.6 800.4,534.8 803.0,534.0 805.5,533.2 808.1,532.4 810.6,531.6 813.2,530.8 815.8,530.0 818.3,529.2 820.9,528.4 823.5,527.6 826.0,526.8 828.6,526.0 831.1,525.2 833.7,524.4 836.3,523.6 838.8,522.8 841.4,522.0 844.0,521.2 846.5,520.4 849.1,519.6 851.6,518.8 854.2,518.0 856.8,517.2 859.3,516.4 861.9,515.6 864.5,514.8 867.0,514.0 869.6,513.1 872.1,512.3 874.7,511.5 877.3,510.7 879.8,509.9 882.4,509.1 885.0,508.3 887.5,507.5 890.1,506.7 892.7,505.9 895.2,505.1 897.8,504.3 900.3,503.5 902.9,502.7 905.5,501.9 908.0,501.1 910.6,500.3 913.2,499.5 915.7,498.7 918.3,497.9 920.8,497.1 923.4,496.3 926.0,495.5 928.5,494.7 931.1,493.9 933.7,493.1 936.2,492.3 938.8,491.5 941.3,490.7 943.9,489.9 946.5,489.1 949.0,488.3 951.6,487.5 954.2,486.7 956.7,485.9 959.3,485.1 961.8,484.3 964.4,483.5 967.0,482.7 969.5,481.9 972.1,481.1 974.7,480.3 977.2,479.5 979.8,478.7 982.3,477.9 984.9,477.1 987.5,476.3 990.0,475.5 992.6,474.7 995.2,473.9 997.7,473.1 1000.3,472.3 1002.8,471.5 1005.4,470.7 1008.0,469.9 1010.5,469.1 1013.1,468.3 1015.7,467.5 1018.2,466.7 1020.8,465.9 1023.3,465.1 1025.9,464.3 1028.5,463.5 1031.0,462.7 1033.6,461.9 1036.2,461.1 1038.7,460.3 1041.3,459.5 1043.8,458.7 1046.4,457.9 1049.0,457.1 1051.5,456.3 1054.1,455.5 1056.7,454.7 1059.2,453.9 1061.8,453.1 1064.3,452.3 1066.9,451.5 1069.5,450.7 1072.0,449.9 1074.6,449.1 1077.2,448.3 1079.7,447.5 1082.3,446.7 1084.9,445.9 1087.4,445.1 1090.0,444.3 1092.5,443.5 1095.1,442.7 1097.7,441.9 1100.2,441.1 1102.8,440.3 1105.4,439.5 1107.9,438.7 1110.5,437.9 1113.0,437.1 1115.6,436.3 1118.2,435.5 1120.7,434.7 1123.3,433.9 1125.9,433.1 1128.4,432.3 1131.0,431.5 1133.5,430.7 1136.1,429.9 1138.7,429.1 1141.2,428.3 1143.8,427.5 1146.4,426.7 1148.9,425.9 1151.5,425.1 1154.0,424.3 1156.6,423.5 1159.2,422.7 1161.7,421.9 1164.3,421.1 1166.9,420.3 1169.4,419.5 1172.0,418.7 1174.5,417.9 1177.1,417.1 1179.7,416.3 1182.2,415.5 1184.8,414.7 1187.4,413.9 1189.9,413.1 1192.5,412.3 1195.0,411.5 1197.6,410.7 1200.2,409.9 1202.7,409.1 1205.3,408.3 1207.9,407.5 1210.4,406.7 1213.0,405.9 1215.5,405.1 1218.1,404.3 1220.7,403.5 1223.2,402.7 1225.8,401.9 1228.4,401.1 1230.9,400.3 1233.5,399.5 1236.0,398.7 1238.6,398.0 1241.2,397.2 1243.7,396.4 1246.3,395.6 1248.9,394.8 1251.4,394.0 1254.0,393.2 1256.5,392.4 1259.1,391.6 1261.7,390.8 1264.2,390.0 1266.8,389.3 1269.4,388.5 1271.9,387.7 1274.5,386.9 1277.0,386.1 1279.6,385.3 1282.2,384.5 1284.7,383.8 1287.3,383.0 1289.9,382.2 1292.4,381.4 1295.0,380.6 1297.6,379.8 1300.1,379.1 1302.7,378.3 1305.2,377.5 1307.8,376.7 1310.4,376.0 1312.9,375.2 1315.5,374.4 1318.1,373.7 1320.6,372.9 1323.2,372.1 1325.7,371.4 1328.3,370.6 1330.9,369.8 1333.4,369.1 1336.0,368.3 1338.6,367.5 1341.1,366.8 1343.7,366.0 1346.2,365.3 1348.8,364.5 1351.4,363.8 1353.9,363.0 1356.5,362.3 1359.1,361.6 1361.6,360.8 1364.2,360.1 1366.7,359.4 1369.3,358.6 1371.9,357.9 1374.4,357.2 1377.0,356.5 1379.6,355.7 1382.1,355.0 1384.7,354.3 1387.2,353.6 1389.8,352.9 1392.4,352.2 1394.9,351.5 1397.5,350.8 1400.1,350.1 1402.6,349.5 1405.2,348.8 1407.7,348.1 1410.3,347.4 1412.9,346.8 1415.4,346.1 1418.0,345.5 1420.6,344.8 1423.1,344.2 1425.7,343.6 1428.2,342.9 1430.8,342.3 1433.4,341.7 1435.9,341.1 1438.5,340.5 1441.1,339.9 1443.6,339.3 1446.2,338.7 1448.7,338.1 1451.3,337.6 1453.9,337.0 1456.4,336.5 1459.0,335.9 1461.6,335.4 1464.1,334.9 1466.7,334.3 1469.2,333.8 1471.8,333.3 1474.4,332.8 1476.9,332.4 1479.5,331.9 1482.1,331.4 1484.6,331.0 1487.2,330.6 1489.8,330.1 1492.3,329.7 1494.9,329.4 1497.4,329.0 1500.0,328.6 1502.6,328.3 1505.1,327.9 1507.7,327.6 1510.3,327.3 1512.8,327.0 1515.4,326.8 1517.9,326.5 1520.5,326.3 1523.1,326.1 1525.6,325.9 1528.2,325.8 1530.8,325.6 1533.3,325.5 1535.9,325.4 1538.4,325.4 1541.0,325.3 1543.6,325.3 1546.1,325.3 1548.7,325.3 1551.3,325.3 1553.8,325.4 1556.4,325.4 1558.9,325.5 1561.5,325.6 1564.1,325.8 1566.6,325.9 1569.2,326.1 1571.8,326.2 1574.3,326.4 1576.9,326.6 1579.4,326.8 1582.0,327.0 1584.6,327.2 1587.1,327.4 1589.7,327.6 1592.3,327.8 1594.8,328.0 1597.4,328.2 1599.9,328.4 1602.5,328.7 1605.1,328.9 1607.6,329.1 1610.2,329.3 1612.8,329.5 1615.3,329.7 1617.9,329.9 1620.4,330.1 1623.0,330.3 1625.6,330.4 1628.1,330.6 1630.7,330.8 1633.3,331.0 1635.8,331.1 1638.4,331.3 1640.9,331.4 1643.5,331.6 1646.1,331.7 1648.6,331.8 1651.2,332.0 1653.8,332.1 1656.3,332.2 1658.9,332.3 1661.4,332.4 1664.0,332.5 1666.6,332.6 1669.1,332.7 1671.7,332.8 1674.3,332.9 1676.8,333.0 1679.4,333.1 1682.0,333.2 1684.5,333.2 1687.1,333.3 1689.6,333.4 1692.2,333.4 1694.8,333.5 1697.3,333.6 1699.9,333.6 1702.5,333.7 1705.0,333.7 1707.6,333.8 1710.1,333.8 1712.7,333.9 1715.3,333.9 1717.8,333.9 1720.4,334.0 1723.0,334.0 1725.5,334.1 1728.1,334.1 1730.6,334.1 1733.2,334.1 1735.8,334.2 1738.3,334.2 1740.9,334.2 1743.5,334.3 1746.0,334.3 1748.6,334.3 1751.1,334.3 1753.7,334.3 1756.3,334.4 1758.8,334.4 1761.4,334.4 1764.0,334.4 1766.5,334.4 1769.1,334.5 1771.6,334.5 1774.2,334.5 1776.8,334.5 1779.3,334.5 1781.9,334.5 1784.5,334.5 1787.0,334.6 1789.6,334.6 1792.1,334.6 1794.7,334.6 1797.3,334.6 1799.8,334.6 1802.4,334.6 1805.0,334.6 1807.5,334.6 1810.1,334.6 1812.6,334.6 1815.2,334.7 1817.8,334.7 1820.3,334.7 1822.9,334.7 1825.5,334.7 1828.0,334.7 1830.6,334.7 1833.1,334.7 1835.7,334.7 1838.3,334.7 1840.8,334.7 1843.4,334.7 1846.0,334.7 1848.5,334.7 1851.1,334.7 1853.6,334.7 1856.2,334.7 1858.8,334.7 1861.3,334.7 1863.9,334.7 1866.5,334.7 1869.0,334.7 1871.6,334.7 1874.1,334.7 1876.7,334.8 1879.3,334.8 1881.8,334.8 1884.4,334.8 1887.0,334.8 1889.5,334.8 1892.1,334.8 1894.7,334.8 1897.2,334.8 1899.8,334.8 1902.3,334.8 1904.9,334.8 1907.5,334.8 1910.0,334.8 1912.6,334.8 1915.2,334.8 1917.7,334.8 1920.3,334.8 1922.8,334.8 1925.4,334.8 1928.0,334.8 1930.5,334.8 1933.1,334.8 1935.7,334.8 1938.2,334.8 1940.8,334.8 1943.3,334.8 1945.9,334.8 1948.5,334.8 1951.0,334.8 1953.6,334.8 1956.2,334.8 1958.7,334.8 1961.3,334.8 1963.8,334.8 1966.4,334.8 1969.0,334.8 1971.5,334.8 1974.1,334.8 1976.7,334.8 1979.2,334.8 1981.8,334.8 1984.3,334.8 1986.9,334.8 1989.5,334.8 1992.0,334.8 1994.6,334.8 1997.2,334.8 1999.7,334.8 2002.3,334.8 2004.8,334.8 2007.4,334.8 2010.0,334.8 2012.5,334.8 2015.1,334.8 2017.7,334.8 2020.2,334.8 2022.8,334.8 2025.3,334.8 2027.9,334.8 2030.5,334.8 2033.0,334.8 2035.6,334.8 2038.2,334.8 2040.7,334.8 2043.3,334.8 2045.8,334.8 2048.4,334.8 2051.0,334.8 2053.5,334.8 2056.1,334.8 2058.7,334.8 2061.2,334.8 2063.8,334.8 2066.3,334.8 2068.9,334.8 2071.5,334.8 2074.0,334.8 2076.6,334.8"/>
<polyline stroke="#00e600" points="285.3,775.8 287.9,775.0 290.4,774.2 293.0,773.4 295.6,772.6 298.1,771.8 300.7,771.0 303.2,770.2 305.8,769.4 308.4,768.6 310.9,767.8 313.5,767.0 316.1,766.2 318.6,765.4 321.2,764.6 323.7,763.8 326.3,763.0 328.9,762.2 331.4,761.4 334.0,760.6 336.6,759.8 339.1,759.0 341.7,758.2 344.2,757.4 346.8,756.6 349.4,755.8 351.9,755.0 354.5,754.2 357.1,753.4 359.6,752.6 362.2,751.8 364.7,751.0 367.3,750.2 369.9,749.4 372.4,748.6 375.0,747.8 377.6,747.0 380.1,746.2 382.7,745.4 385.2,744.6 387.8,743.8 390.4,743.0 392.9,742.2 395.5,741.4 398.1,740.6 400.6,739.8 403.2,739.0 405.7,738.2 408.3,737.4 410.9,736.6 413.4,735.8 416.0,735.0 418.6,734.2 421.1,733.3 423.7,732.5 426.2,731.7 428.8,730.9 431.4,730.1 433.9,729.3 436.5,728.5 439.1,727.7 441.6,726.9 444.2,726.1 446.7,725.3 449.3,724.5 451.9,723.7 454.4,722.9 457.0,722.1 459.6,721.3 462.1,720.5 464.7,719.7 467.2,718.9 469.8,718.1 472.4,717.3 474.9,716.5 477.5,715.7 480.1,714.9 482.6,714.1 485.2,713.3 487.8,712.5 490.3,711.7 492.9,710.9 495.4,710.1 498.0,709.3 500.6,708.5 503.1,707.7 505.7,706.9 508.3,706.1 510.8,705.3 513.4,704.5 515.9,703.7 518.5,702.9 521.1,702.1 523.6,701.3 526.2,700.5 528.8,699.7 531.3,698.9 533.9,698.1 536.4,697.3 539.0,696.5 541.6,695.7 544.1,694.9 546.7,694.1 549.3,693.3 551.8,692.5 554.4,691.7 556.9,690.9 559.5,690.1 562.1,689.3 564.6,688.5 567.2,687.7 569.8,686.9 572.3,686.1 574.9,685.3 577.4,684.5 580.0,683.7 582.6,682.9 585.1,682.1 587.7,681.3 590.3,680.5 592.8,679.7 595.4,678.9 597.9,678.1 600.5,677.3 603.1,676.5 605.6,675.7 608.2,674.9 610.8,674.1 613.3,673.3 615.9,672.5 618.4,671.7 621.0,670.9 623.6,670.1 626.1,669.3 628.7,668.5 631.3,667.7 633.8,666.9 636.4,666.1 638.9,665.3 641.5,664.5 644.1,663.7 646.6,662.8 649.2,662.0 651.8,661.2 654.3,660.4 656.9,659.6 659.4,658.8 662.0,658.0 664.6,657.2 667.1,656.4 669.7,655.6 672.3,654.8 674.8,654.0 677.4,653.2 679.9,652.4 682.5,651.6 685.1,650.8 687.6,650.0 690.2,649.2 692.8,648.4 695.3,647.6 697.9,646.8 700.5,646.0 703.0,645.2 705.6,644.4 708.1,643.6 710.7,642.8 713.3,642.0 715.8,641.2 718.4,640.4 721.0,639.6 723.5,638.8 726.1,638.0 728.6,637.2 731.2,636.4 733.8,635.6 736.3,634.8 738.9,634.0 741.5,633.2 744.0,632.4 746.6,631.6 749.1,630.8 751.7,630.0 754.3,629.2 756.8,628.4 759.4,627.6 762.0,626.8 764.5,626.0 767.1,625.2 769.6,624.4 772.2,623.6 774.8,622.8 777.3,622.0 779.9,621.2 782.5,620.4 785.0,619.6 787.6,618.8 790.1,618.0 792.7,617.2 795.3,616.4 797.8,615.6 800.4,614.8 803.0,614.0 805.5,613.2 808.1,612.4 810.6,611.6 813.2,610.8 815.8,610.0 818.3,609.2 820.9,608.4 823.5,607.6 826.0,606.8 828.6,606.0 831.1,605.2 833.7,604.4 836.3,603.6 838.8,602.8 841.4,602.0 844.0,601.2 846.5,600.4 849.1,599.6 851.6,598.8 854.2,598.0 856.8,597.2 859.3,596.4 861.9,595.6 864.5,594.8 867.0,594.0 869.6,593.1 872.1,592.3 874.7,591.5 877.3,590.7 879.8,589.9 882.4,589.1 885.0,588.3 887.5,587.5 890.1,586.7 892.7,585.9 895.2,585.1 897.8,584.3 900.3,583.5 902.9,582.7 905.5,581.9 908.0,581.1 910.6,580.3 913.2,579.5 915.7,578.7 918.3,577.9 920.8,577.1 923.4,576.3 926.0,575.5 928.5,574.7 931.1,573.9 933.7,573.1 936.2,572.3 938.8,571.5 941.3,570.7 943.9,569.9 946.5,569.1 949.0,568.3 951.6,567.5 954.2,566.7 956.7,565.9 959.3,565.1 961.8,564.3 964.4,563.5 967.0,562.7 969.5,561.9 972.1,561.1 974.7,560.3 977.2,559.5 979.8,558.7 982.3,557.9 984.9,557.1 987.5,556.3 990.0,555.5 992.6,554.7 995.2,553.9 997.7,553.1 1000.3,552.3 1002.8,551.5 1005.4,550.7 1008.0,549.9 1010.5,549.1 1013.1,548.3 1015.7,547.5 1018.2,546.7 1020.8,545.9 1023.3,545.1 1025.9,544.3 1028.5,543.5 1031.0,542.7 1033.6,541.9 1036.2,541.1 1038.7,540.3 1041.3,539.5 1043.8,538.7 1046.4,537.9 1049.0,537.1 1051.5,536.3 1054.1,535.5 1056.7,534.7 1059.2,533.9 1061.8,533.1 1064.3,532.3 1066.9,531.5 1069.5,530.7 1072.0,529.9 1074.6,529.1 1077.2,528.3 1079.7,527.5 1082.3,526.7 1084.9,525.9 1087.4,525.1 1090.0,524.3 1092.5,523.4 1095.1,522.6 1097.7,521.8 1100.2,521.0 1102.8,520.2 1105.4,519.4 1107.9,518.6 1110.5,517.8 1113.0,517.0 1115.6,516.2 1118.2,515.4 1120.7,514.6 1123.3,513.8 1125.9,513.0 1128.4,512.2 1131.0,511.4 1133.5,510.6 1136.1,509.8 1138.7,509.0 1141.2,508.2 1143.8,507.4 1146.4,506.6 1148.9,505.8 1151.5,505.0 1154.0,504.2 1156.6,503.4 1159.2,502.6 1161.7,501.8 1164.3,501.0 1166.9,500.2 1169.4,499.4 1172.0,498.6 1174.5,497.8 1177.1,497.0 1179.7,496.2 1182.2,495.4 1184.8,494.6 1187.4,493.8 1189.9,493.0 1192.5,492.2 1195.0,491.4 1197.6,490.6 1200.2,489.8 1202.7,489.0 1205.3,488.2 1207.9,487.4 1210.4,486.6 1213.0,485.8 1215.5,485.0 1218.1,484.2 1220.7,483.4 1223.2,482.6 1225.8,481.8 1228.4,481.0 1230.9,480.2 1233.5,479.4 1236.0,478.6 1238.6,477.8 1241.2,477.0 1243.7,476.2 1246.3,475.4 1248.9,474.6 1251.4,473.8 1254.0,473.0 1256.5,472.2 1259.1,471.4 1261.7,470.6 1264.2,469.8 1266.8,469.0 1269.4,468.2 1271.9,467.4 1274.5,466.6 1277.0,465.8 1279.6,465.0 1282.2,464.2 1284.7,463.4 1287.3,462.6 1289.9,461.8 1292.4,461.0 1295.0,460.2 1297.6,459.4 1300.1,458.6 1302.7,457.8 1305.2,457.0 1307.8,456.2 1310.4,455.4 1312.9,454.6 1315.5,453.8 1318.1,453.0 1320.6,452.2 1323.2,451.4 1325.7,450.6 1328.3,449.8 1330.9,449.0 1333.4,448.2 1336.0,447.4 1338.6,446.6 1341.1,445.7 1343.7,444.9 1346.2,444.1 1348.8,443.3 1351.4,442.5 1353.9,441.7 1356.5,440.9 1359.1,440.1 1361.6,439.3 1364.2,438.5 1366.7,437.7 1369.3,436.9 1371.9,436.1 1374.4,435.3 1377.0,434.5 1379.6,433.7 1382.1,432.9 1384.7,432.1 1387.2,431.3 1389.8,430.5 1392.4,429.7 1394.9,428.9 1397.5,428.1 1400.1,427.3 1402.6,426.5 1405.2,425.7 1407.7,424.9 1410.3,424.1 1412.9,423.3 1415.4,422.5 1418.0,421.7 1420.6,420.9 1423.1,420.1 1425.7,419.4 1428.2,418.6 1430.8,417.8 1433.4,417.0 1435.9,416.2 1438.5,415.4 1441.1,414.6 1443.6,413.8 1446.2,413.0 1448.7,412.2 1451.3,411.4 1453.9,410.6 1456.4,409.8 1459.0,409.0 1461.6,408.2 1464.1,407.4 1466.7,406.6 1469.2,405.8 1471.8,405.0 1474.4,404.2 1476.9,403.4 1479.5,402.6 1482.1,401.8 1484.6,401.0 1487.2,400.2 1489.8,399.4 1492.3,398.6 1494.9,397.8 1497.4,397.1 1500.0,396.3 1502.6,395.5 1505.1,394.7 1507.7,393.9 1510.3,393.1 1512.8,392.3 1515.4,391.5 1517.9,390.7 1520.5,389.9 1523.1,389.1 1525.6,388.4 1528.2,387.6 1530.8,386.8 1533.3,386.0 1535.9,385.2 1538.4,384.4 1541.0,383.6 1543.6,382.9 1546.1,382.1 1548.7,381.3 1551.3,380.5 1553.8,379.7 1556.4,379.0 1558.9,378.2 1561.5,377.4 1564.1,376.6 1566.6,375.9 1569.2,375.1 1571.8,374.3 1574.3,373.5 1576.9,372.8 1579.4,372.0 1582.0,371.2 1584.6,370.5 1587.1,369.7 1589.7,369.0 1592.3,368.2 1594.8,367.4 1597.4,366.7 1599.9,365.9 1602.5,365.2 1605.1,364.4 1607.6,363.7 1610.2,362.9 1612.8,362.2 1615.3,361.5 1617.9,360.7 1620.4,360.0 1623.0,359.3 1625.6,358.5 1628.1,357.8 1630.7,357.1 1633.3,356.4 1635.8,355.6 1638.4,354.9 1640.9,354.2 1643.5,353.5 1646.1,352.8 1648.6,352.1 1651.2,351.4 1653.8,350.7 1656.3,350.0 1658.9,349.4 1661.4,348.7 1664.0,348.0 1666.6,347.4 1669.1,346.7 1671.7,346.0 1674.3,345.4 1676.8,344.7 1679.4,344.1 1682.0,343.5 1684.5,342.8 1687.1,342.2 1689.6,341.6 1692.2,341.0 1694.8,340.4 1697.3,339.8 1699.9,339.2 1702.5,338.6 1705.0,338.1 1707.6,337.5 1710.1,336.9 1712.7,336.4 1715.3,335.8 1717.8,335.3 1720.4,334.8 1723.0,334.3 1725.5,333.8 1728.1,333.3 1730.6,332.8 1733.2,332.3 1735.8,331.8 1738.3,331.4 1740.9,330.9 1743.5,330.5 1746.0,330.1 1748.6,329.7 1751.1,329.3 1753.7,328.9 1756.3,328.6 1758.8,328.2 1761.4,327.9 1764.0,327.6 1766.5,327.3 1769.1,327.0 1771.6,326.7 1774.2,326.5 1776.8,326.3 1779.3,326.1 1781.9,325.9 1784.5,325.8 1787.0,325.6 1789.6,325.5 1792.1,325.4 1794.7,325.4 1797.3,325.3 1799.8,325.3 1802.4,325.3 1805.0,325.3 1807.5,325.3 1810.1,325.4 1812.6,325.5 1815.2,325.5 1817.8,325.7 1820.3,325.8 1822.9,325.9 1825.5,326.1 1828.0,326.2 1830.6,326.4 1833.1,326.6 1835.7,326.8 1838.3,327.0 1840.8,327.2 1843.4,327.4 1846.0,327.6 1848.5,327.8 1851.1,328.0 1853.6,328.3 1856.2,328.5 1858.8,328.7 1861.3,328.9 1863.9,329.1 1866.5,329.3 1869.0,329.5 1871.6,329.7 1874.1,329.9 1876.7,330.1 1879.3,330.3 1881.8,330.5 1884.4,330.6 1887.0,330.8 1889.5,331.0 1892.1,331.1 1894.7,331.3 1897.2,331.4 1899.8,331.6 1902.3,331.7 1904.9,331.9 1907.5,332.0 1910.0,332.1 1912.6,332.2 1915.2,332.3 1917.7,332.4 1920.3,332.6 1922.8,332.7 1925.4,332.7 1928.0,332.8 1930.5,332.9 1933.1,333.0 1935.7,333.1 1938.2,333.2 1940.8,333.2 1943.3,333.3 1945.9,333.4 1948.5,333.4 1951.0,333.5 1953.6,333.6 1956.2,333.6 1958.7,333.7 1961.3,333.7 1963.8,333.8 1966.4,333.8 1969.0,333.9 1971.5,333.9 1974.1,333.9 1976.7,334.0 1979.2,334.0 1981.8,334.1 1984.3,334.1 1986.9,334.1 1989.5,334.2 1992.0,334.2 1994.6,334.2 1997.2,334.2 1999.7,334.3 2002.3,334.3 2004.8,334.3 2007.4,334.3 2010.0,334.4 2012.5,334.4 2015.1,334.4 2017.7,334.4 2020.2,334.4 2022.8,334.4 2025.3,334.5 2027.9,334.5 2030.5,334.5 2033.0,334.5 2035.6,334.5 2038.2,334.5 2040.7,334.5 2043.3,334.6 2045.8,334.6 2048.4,334.6 2051.0,334.6 2053.5,334.6 2056.1,334.6 2058.7,334.6 2061.2,334.6 2063.8,334.6 2066.3,334.6 2068.9,334.6 2071.5,334.7 2074.0,334.7 2076.6,334.7"/>
<polyline stroke="#0072b0" points="285.3,1008.5 287.9,1008.6 290.4,1008.8 293.0,1008.9 295.6,1009.1 298.1,1009.2 300.7,1009.4 303.2,1009.6 305.8,1009.7 308.4,1009.9 310.9,1010.1 313.5,1010.3 316.1,1010.4 318.6,1010.6 321.2,1010.8 323.7,1011.0 326.3,1011.2 328.9,1011.4 331.4,1011.7 334.0,1011.9 336.6,1012.1 339.1,1012.3 341.7,1012.6 344.2,1012.8 346.8,1013.0 349.4,1013.3 351.9,1013.5 354.5,1013.8 357.1,1014.1 359.6,1014.4 362.2,1014.6 364.7,1014.9 367.3,1015.2 369.9,1015.5 372.4,1015.8 375.0,1016.1 377.6,1016.5 380.1,1016.8 382.7,1017.1 385.2,1017.5 387.8,1017.8 390.4,1018.2 392.9,1018.6 395.5,1018.9 398.1,1019.3 400.6,1019.7 403.2,1020.1 405.7,1020.5 408.3,1021.0 410.9,1021.4 413.4,1021.8 416.0,1022.3 418.6,1022.8 421.1,1023.2 423.7,1023.7 426.2,1024.2 428.8,1024.7 431.4,1025.3 433.9,1025.8 436.5,1026.3 439.1,1026.9 441.6,1027.5 444.2,1028.1 446.7,1028.7 449.3,1029.3 451.9,1029.9 454.4,1030.5 457.0,1031.2 459.6,1031.9 462.1,1032.5 464.7,1033.2 467.2,1034.0 469.8,1034.7 472.4,1035.4 474.9,1036.2 477.5,1037.0 480.1,1037.8 482.6,1038.6 485.2,1039.5 487.8,1040.3 490.3,1041.2 492.9,1042.1 495.4,1043.0 498.0,1044.0 500.6,1044.9 503.1,1045.9 505.7,1046.9 508.3,1047.9 510.8,1049.0 513.4,1050.1 515.9,1051.2 518.5,1052.3 521.1,1053.4 523.6,1054.6 526.2,1055.8 528.8,1057.0 531.3,1058.3 533.9,1059.6 536.4,1060.9 539.0,1062.2 541.6,1063.6 544.1,1065.0 546.7,1066.4 549.3,1067.9 551.8,1069.4 554.4,1070.9 556.9,1072.5 559.5,1074.0 562.1,1075.7 564.6,1077.3 567.2,1079.0 569.8,1080.7 572.3,1082.5 574.9,1084.3 577.4,1086.2 580.0,1088.0 582.6,1089.9 585.1,1091.9 587.7,1093.9 590.3,1095.9 592.8,1098.0 595.4,1100.1 597.9,1102.3 600.5,1104.5 603.1,1106.7 605.6,1109.0 608.2,1111.3 610.8,1113.7 613.3,1116.1 615.9,1118.6 618.4,1121.1 621.0,1123.7 623.6,1126.3 626.1,1129.0 628.7,1131.7 631.3,1134.4 633.8,1137.2 636.4,1140.1 638.9,1143.0 641.5,1145.9 644.1,1148.9 646.6,1152.0 649.2,1155.1 651.8,1158.2 654.3,1161.4 656.9,1164.7 659.4,1168.0 662.0,1171.4 664.6,1174.8 667.1,1178.3 669.7,1181.8 672.3,1185.4 674.8,1189.0 677.4,1192.7 679.9,1196.5 682.5,1200.3 685.1,1204.1 687.6,1208.1 690.2,1212.0 692.8,1216.1 695.3,1220.2 697.9,1224.3 700.5,1228.5 703.0,1232.8 705.6,1237.1 708.1,1241.5 710.7,1246.0 713.3,1250.5 715.8,1255.1 718.4,1259.7 721.0,1264.4 723.5,1269.1 726.1,1273.9 728.6,1278.8 731.2,1283.7 733.8,1288.7 736.3,1293.7 738.9,1298.8 741.5,1303.9 744.0,1309.0 746.6,1314.2 749.1,1319.4 751.7,1324.6 754.3,1329.9 756.8,1335.1 759.4,1340.4 762.0,1345.6 764.5,1350.8 767.1,1356.0 769.6,1361.1 772.2,1366.2 774.8,1371.3 777.3,1376.2 779.9,1381.1 782.5,1385.9 785.0,1390.6 787.6,1395.2 790.1,1399.7 792.7,1404.0 795.3,1408.2 797.8,1412.2 800.4,1416.1 803.0,1419.9 805.5,1423.5 808.1,1426.9 810.6,1430.2 813.2,1433.3 815.8,1436.2 818.3,1439.0 820.9,1441.6 823.5,1444.1 826.0,1446.4 828.6,1448.6 831.1,1450.7 833.7,1452.6 836.3,1454.3 838.8,1456.0 841.4,1457.5 844.0,1458.9 846.5,1460.2 849.1,1461.4 851.6,1462.5 854.2,1463.5 856.8,1464.5 859.3,1465.3 861.9,1466.1 864.5,1466.8 867.0,1467.4 869.6,1468.0 872.1,1468.5 874.7,1469.0 877.3,1469.4 879.8,1469.7 882.4,1470.1 885.0,1470.4 887.5,1470.6 890.1,1470.8 892.7,1471.0 895.2,1471.2 897.8,1471.3 900.3,1471.5 902.9,1471.6 905.5,1471.6 908.0,1471.7 910.6,1471.8 913.2,1471.8 915.7,1471.8 918.3,1471.8 920.8,1471.8 923.4,1471.8 926.0,1471.8 928.5,1471.7 931.1,1471.7 933.7,1471.7 936.2,1471.6 938.8,1471.6 941.3,1471.5 943.9,1471.4 946.5,1471.4 949.0,1471.3 951.6,1471.2 954.2,1471.1 956.7,1471.1 959.3,1471.0 961.8,1470.9 964.4,1470.8 967.0,1470.8 969.5,1470.7 972.1,1470.6 974.7,1470.5 977.2,1470.4 979.8,1470.3 982.3,1470.3 984.9,1470.2 987.5,1470.1 990.0,1470.0 992.6,1469.9 995.2,1469.9 997.7,1469.8 1000.3,1469.7 1002.8,1469.6 1005.4,1469.6 1008.0,1469.5 1010.5,1469.4 1013.1,1469.3 1015.7,1469.3 1018.2,1469.2 1020.8,1469.1 1023.3,1469.0 1025.9,1469.0 1028.5,1468.9 1031.0,1468.8 1033.6,1468.8 1036.2,1468.7 1038.7,1468.7 1041.3,1468.6 1043.8,1468.5 1046.4,1468.5 1049.0,1468.4 1051.5,1468.4 1054.1,1468.3 1056.7,1468.3 1059.2,1468.2 1061.8,1468.2 1064.3,1468.1 1066.9,1468.0 1069.5,1468.0 1072.0,1468.0 1074.6,1467.9 1077.2,1467.9 1079.7,1467.8 1082.3,1467.8 1084.9,1467.7 1087.4,1467.7 1090.0,1467.6 1092.5,1467.6 1095.1,1467.6 1097.7,1467.5 1100.2,1467.5 1102.8,1467.4 1105.4,1467.4 1107.9,1467.4 1110.5,1467.3 1113.0,1467.3 1115.6,1467.3 1118.2,1467.2 1120.7,1467.2 1123.3,1467.2 1125.9,1467.1 1128.4,1467.1 1131.0,1467.1 1133.5,1467.1 1136.1,1467.0 1138.7,1467.0 1141.2,1467.0 1143.8,1466.9 1146.4,1466.9 1148.9,1466.9 1151.5,1466.9 1154.0,1466.8 1156.6,1466.8 1159.2,1466.8 1161.7,1466.8 1164.3,1466.8 1166.9,1466.7 1169.4,1466.7 1172.0,1466.7 1174.5,1466.7 1177.1,1466.6 1179.7,1466.6 1182.2,1466.6 1184.8,1466.6 1187.4,1466.6 1189.9,1466.6 1192.5,1466.5 1195.0,1466.5 1197.6,1466.5 1200.2,1466.5 1202.7,1466.5 1205.3,1466.5 1207.9,1466.4 1210.4,1466.4 1213.0,1466.4 1215.5,1466.4 1218.1,1466.4 1220.7,1466.4 1223.2,1466.4 1225.8,1466.3 1228.4,1466.3 1230.9,1466.3 1233.5,1466.3 1236.0,1466.3 1238.6,1466.3 1241.2,1466.3 1243.7,1466.3 1246.3,1466.3 1248.9,1466.2 1251.4,1466.2 1254.0,1466.2 1256.5,1466.2 1259.1,1466.2 1261.7,1466.2 1264.2,1466.2 1266.8,1466.2 1269.4,1466.2 1271.9,1466.2 1274.5,1466.2 1277.0,1466.1 1279.6,1466.1 1282.2,1466.1 1284.7,1466.1 1287.3,1466.1 1289.9,1466.1 1292.4,1466.1 1295.0,1466.1 1297.6,1466.1 1300.1,1466.1 1302.7,1466.1 1305.2,1466.1 1307.8,1466.1 1310.4,1466.1 1312.9,1466.1 1315.5,1466.0 1318.1,1466.0 1320.6,1466.0 1323.2,1466.0 1325.7,1466.0 1328.3,1466.0 1330.9,1466.0 1333.4,1466.0 1336.0,1466.0 1338.6,1466.0 1341.1,1466.0 1343.7,1466.0 1346.2,1466.0 1348.8,1466.0 1351.4,1466.0 1353.9,1466.0 1356.5,1466.0 1359.1,1466.0 1361.6,1466.0 1364.2,1466.0 1366.7,1466.0 1369.3,1466.0 1371.9,1465.9 1374.4,1465.9 1377.0,1465.9 1379.6,1465.9 1382.1,1465.9 1384.7,1465.9 1387.2,1465.9 1389.8,1465.9 1392.4,1465.9 1394.9,1465.9 1397.5,1465.9 1400.1,1465.9 1402.6,1465.9 1405.2,1465.9 1407.7,1465.9 1410.3,1465.9 1412.9,1465.9 1415.4,1465.9 1418.0,1465.9 1420.6,1465.9 1423.1,1465.9 1425.7,1465.9 1428.2,1465.9 1430.8,1465.9 1433.4,1465.9 1435.9,1465.9 1438.5,1465.9 1441.1,1465.9 1443.6,1465.9 1446.2,1465.9 1448.7,1465.9 1451.3,1465.9 1453.9,1465.9 1456.4,1465.9 1459.0,1465.9 1461.6,1465.9 1464.1,1465.9 1466.7,1465.9 1469.2,1465.9 1471.8,1465.9 1474.4,1465.9 1476.9,1465.9 1479.5,1465.9 1482.1,1465.9 1484.6,1465.9 1487.2,1465.9 1489.8,1465.9 1492.3,1465.8 1494.9,1465.8 1497.4,1465.8 1500.0,1465.8 1502.6,1465.8 1505.1,1465.8 1507.7,1465.8 1510.3,1465.8 1512.8,1465.8 1515.4,1465.8 1517.9,1465.8 1520.5,1465.8 1523.1,1465.8 1525.6,1465.8 1528.2,1465.8 1530.8,1465.8 1533.3,1465.8 1535.9,1465.8 1538.4,1465.8 1541.0,1465.8 1543.6,1465.8 1546.1,1465.8 1548.7,1465.8 1551.3,1465.8 1553.8,1465.8 1556.4,1465.8 1558.9,1465.8 1561.5,1465.8 1564.1,1465.8 1566.6,1465.8 1569.2,1465.8 1571.8,1465.8 1574.3,1465.8 1576.9,1465.8 1579.4,1465.8 1582.0,1465.8 1584.6,1465.8 1587.1,1465.8 1589.7,1465.8 1592.3,1465.8 1594.8,1465.8 1597.4,1465.8 1599.9,1465.8 1602.5,1465.8 1605.1,1465.8 1607.6,1465.8 1610.2,1465.8 1612.8,1465.8 1615.3,1465.8 1617.9,1465.8 1620.4,1465.8 1623.0,1465.8 1625.6,1465.8 1628.1,1465.8 1630.7,1465.8 1633.3,1465.8 1635.8,1465.8 1638.4,1465.8 1640.9,1465.8 1643.5,1465.8 1646.1,1465.8 1648.6,1465.8 1651.2,1465.8 1653.8,1465.8 1656.3,1465.8 1658.9,1465.8 1661.4,1465.8 1664.0,1465.8 1666.6,1465.8 1669.1,1465.8 1671.7,1465.8 1674.3,1465.8 1676.8,1465.8 1679.4,1465.8 1682.0,1465.8 1684.5,1465.8 1687.1,1465.8 1689.6,1465.8 1692.2,1465.8 1694.8,1465.8 1697.3,1465.8 1699.9,1465.8 1702.5,1465.8 1705.0,1465.8 1707.6,1465.8 1710.1,1465.8 1712.7,1465.8 1715.3,1465.8 1717.8,1465.8 1720.4,1465.8 1723.0,1465.8 1725.5,1465.8 1728.1,1465.8 1730.6,1465.8 1733.2,1465.8 1735.8,1465.8 1738.3,1465.8 1740.9,1465.8 1743.5,1465.8 1746.0,1465.8 1748.6,1465.8 1751.1,1465.8 1753.7,1465.8 1756.3,1465.8 1758.8,1465.8 1761.4,1465.8 1764.0,1465.8 1766.5,1465.8 1769.1,1465.8 1771.6,1465.8 1774.2,1465.8 1776.8,1465.8 1779.3,1465.8 1781.9,1465.8 1784.5,1465.8 1787.0,1465.8 1789.6,1465.8 1792.1,1465.8 1794.7,1465.8 1797.3,1465.8 1799.8,1465.8 1802.4,1465.8 1805.0,1465.8 1807.5,1465.8 1810.1,1465.8 1812.6,1465.8 1815.2,1465.8 1817.8,1465.8 1820.3,1465.8 1822.9,1465.8 1825.5,1465.8 1828.0,1465.8 1830.6,1465.8 1833.1,1465.8 1835.7,1465.8 1838.3,1465.8 1840.8,1465.8 1843.4,1465.8 1846.0,1465.8 1848.5,1465.8 1851.1,1465.8 1853.6,1465.8 1856.2,1465.8 1858.8,1465.8 1861.3,1465.8 1863.9,1465.8 1866.5,1465.8 1869.0,1465.8 1871.6,1465.8 1874.1,1465.8 1876.7,1465.8 1879.3,1465.8 1881.8,1465.8 1884.4,1465.8 1887.0,1465.8 1889.5,1465.8 1892.1,1465.8 1894.7,1465.8 1897.2,1465.8 1899.8,1465.8 1902.3,1465.8 1904.9,1465.8 1907.5,1465.8 1910.0,1465.8 1912.6,1465.8 1915.2,1465.8 1917.7,1465.8 1920.3,1465.8 1922.8,1465.8 1925.4,1465.8 1928.0,1465.8 1930.5,1465.8 1933.1,1465.8 1935.7,1465.8 1938.2,1465.8 1940.8,1465.8 1943.3,1465.8 1945.9,1465.8 1948.5,1465.8 1951.0,1465.8 1953.6,1465.8 1956.2,1465.8 1958.7,1465.8 1961.3,1465.8 1963.8,1465.8 1966.4,1465.8 1969.0,1465.8 1971.5,1465.8 1974.1,1465.8 1976.7,1465.8 1979.2,1465.8 1981.8,1465.8 1984.3,1465.8 1986.9,1465.8 1989.5,1465.8 1992.0,1465.8 1994.6,1465.8 1997.2,1465.8 1999.7,1465.8 2002.3,1465.8 2004.8,1465.8 2007.4,1465.8 2010.0,1465.8 2012.5,1465.8 2015.1,1465.8 2017.7,1465.8 2020.2,1465.8 2022.8,1465.8 2025.3,1465.8 2027.9,1465.8 2030.5,1465.8 2033.0,1465.8 2035.6,1465.8 2038.2,1465.8 2040.7,1465.8 2043.3,1465.8 2045.8,1465.8 2048.4,1465.8 2051.0,1465.8 2053.5,1465.8 2056.1,1465.8 2058.7,1465.8 2061.2,1465.8 2063.8,1465.8 2066.3,1465.8 2068.9,1465.8 2071.5,1465.8 2074.0,1465.8 2076.6,1465.8"/>
<polyline stroke="#ff0000" points="285.3,1002.9 287.9,1002.9 290.4,1002.9 293.0,1003.0 295.6,1003.0 298.1,1003.0 300.7,1003.0 303.2,1003.0 305.8,1003.0 308.4,1003.1 310.9,1003.1 313.5,1003.1 316.1,1003.1 318.6,1003.1 321.2,1003.2 323.7,1003.2 326.3,1003.2 328.9,1003.2 331.4,1003.2 334.0,1003.3 336.6,1003.3 339.1,1003.3 341.7,1003.3 344.2,1003.3 346.8,1003.4 349.4,1003.4 351.9,1003.4 354.5,1003.5 357.1,1003.5 359.6,1003.5 362.2,1003.5 364.7,1003.6 367.3,1003.6 369.9,1003.6 372.4,1003.7 375.0,1003.7 377.6,1003.7 380.1,1003.8 382.7,1003.8 385.2,1003.8 387.8,1003.9 390.4,1003.9 392.9,1003.9 395.5,1004.0 398.1,1004.0 400.6,1004.0 403.2,1004.1 405.7,1004.1 408.3,1004.2 410.9,1004.2 413.4,1004.3 416.0,1004.3 418.6,1004.3 421.1,1004.4 423.7,1004.4 426.2,1004.5 428.8,1004.5 431.4,1004.6 433.9,1004.7 436.5,1004.7 439.1,1004.8 441.6,1004.8 444.2,1004.9 446.7,1004.9 449.3,1005.0 451.9,1005.1 454.4,1005.1 457.0,1005.2 459.6,1005.3 462.1,1005.3 464.7,1005.4 467.2,1005.5 469.8,1005.5 472.4,1005.6 474.9,1005.7 477.5,1005.8 480.1,1005.9 482.6,1005.9 485.2,1006.0 487.8,1006.1 490.3,1006.2 492.9,1006.3 495.4,1006.4 498.0,1006.5 500.6,1006.6 503.1,1006.7 505.7,1006.8 508.3,1006.9 510.8,1007.0 513.4,1007.1 515.9,1007.2 518.5,1007.3 521.1,1007.5 523.6,1007.6 526.2,1007.7 528.8,1007.8 531.3,1008.0 533.9,1008.1 536.4,1008.2 539.0,1008.4 541.6,1008.5 544.1,1008.6 546.7,1008.8 549.3,1008.9 551.8,1009.1 554.4,1009.3 556.9,1009.4 559.5,1009.6 562.1,1009.8 564.6,1009.9 567.2,1010.1 569.8,1010.3 572.3,1010.5 574.9,1010.7 577.4,1010.9 580.0,1011.1 582.6,1011.3 585.1,1011.5 587.7,1011.7 590.3,1011.9 592.8,1012.1 595.4,1012.4 597.9,1012.6 600.5,1012.8 603.1,1013.1 605.6,1013.3 608.2,1013.6 610.8,1013.8 613.3,1014.1 615.9,1014.4 618.4,1014.7 621.0,1015.0 623.6,1015.3 626.1,1015.6 628.7,1015.9 631.3,1016.2 633.8,1016.5 636.4,1016.8 638.9,1017.2 641.5,1017.5 644.1,1017.9 646.6,1018.2 649.2,1018.6 651.8,1019.0 654.3,1019.4 656.9,1019.8 659.4,1020.2 662.0,1020.6 664.6,1021.0 667.1,1021.5 669.7,1021.9 672.3,1022.4 674.8,1022.8 677.4,1023.3 679.9,1023.8 682.5,1024.3 685.1,1024.8 687.6,1025.3 690.2,1025.9 692.8,1026.4 695.3,1027.0 697.9,1027.6 700.5,1028.1 703.0,1028.7 705.6,1029.4 708.1,1030.0 710.7,1030.6 713.3,1031.3 715.8,1032.0 718.4,1032.6 721.0,1033.3 723.5,1034.1 726.1,1034.8 728.6,1035.6 731.2,1036.3 733.8,1037.1 736.3,1037.9 738.9,1038.7 741.5,1039.6 744.0,1040.5 746.6,1041.3 749.1,1042.2 751.7,1043.2 754.3,1044.1 756.8,1045.1 759.4,1046.1 762.0,1047.1 764.5,1048.1 767.1,1049.2 769.6,1050.2 772.2,1051.3 774.8,1052.5 777.3,1053.6 779.9,1054.8 782.5,1056.0 785.0,1057.2 787.6,1058.5 790.1,1059.8 792.7,1061.1 795.3,1062.4 797.8,1063.8 800.4,1065.2 803.0,1066.6 805.5,1068.1 808.1,1069.6 810.6,1071.1 813.2,1072.7 815.8,1074.3 818.3,1075.9 820.9,1077.6 823.5,1079.3 826.0,1081.0 828.6,1082.8 831.1,1084.6 833.7,1086.4 836.3,1088.3 838.8,1090.2 841.4,1092.2 844.0,1094.2 846.5,1096.2 849.1,1098.3 851.6,1100.4 854.2,1102.6 856.8,1104.8 859.3,1107.0 861.9,1109.3 864.5,1111.7 867.0,1114.1 869.6,1116.5 872.1,1119.0 874.7,1121.5 877.3,1124.1 879.8,1126.7 882.4,1129.3 885.0,1132.1 887.5,1134.8 890.1,1137.6 892.7,1140.5 895.2,1143.4 897.8,1146.3 900.3,1149.4 902.9,1152.4 905.5,1155.5 908.0,1158.7 910.6,1161.9 913.2,1165.2 915.7,1168.5 918.3,1171.9 920.8,1175.3 923.4,1178.8 926.0,1182.3 928.5,1185.9 931.1,1189.5 933.7,1193.2 936.2,1197.0 938.8,1200.8 941.3,1204.7 943.9,1208.6 946.5,1212.6 949.0,1216.6 951.6,1220.8 954.2,1224.9 956.7,1229.1 959.3,1233.4 961.8,1237.8 964.4,1242.2 967.0,1246.6 969.5,1251.1 972.1,1255.7 974.7,1260.4 977.2,1265.0 979.8,1269.8 982.3,1274.6 984.9,1279.5 987.5,1284.4 990.0,1289.4 992.6,1294.4 995.2,1299.5 997.7,1304.6 1000.3,1309.7 1002.8,1314.9 1005.4,1320.1 1008.0,1325.4 1010.5,1330.6 1013.1,1335.9 1015.7,1341.1 1018.2,1346.3 1020.8,1351.5 1023.3,1356.7 1025.9,1361.9 1028.5,1367.0 1031.0,1372.0 1033.6,1377.0 1036.2,1381.8 1038.7,1386.6 1041.3,1391.3 1043.8,1395.8 1046.4,1400.3 1049.0,1404.6 1051.5,1408.8 1054.1,1412.8 1056.7,1416.7 1059.2,1420.4 1061.8,1424.0 1064.3,1427.4 1066.9,1430.6 1069.5,1433.7 1072.0,1436.6 1074.6,1439.4 1077.2,1442.0 1079.7,1444.4 1082.3,1446.8 1084.9,1448.9 1087.4,1450.9 1090.0,1452.8 1092.5,1454.6 1095.1,1456.2 1097.7,1457.7 1100.2,1459.1 1102.8,1460.4 1105.4,1461.6 1107.9,1462.7 1110.5,1463.7 1113.0,1464.6 1115.6,1465.4 1118.2,1466.2 1120.7,1466.9 1123.3,1467.5 1125.9,1468.1 1128.4,1468.6 1131.0,1469.0 1133.5,1469.4 1136.1,1469.8 1138.7,1470.1 1141.2,1470.4 1143.8,1470.7 1146.4,1470.9 1148.9,1471.1 1151.5,1471.2 1154.0,1471.4 1156.6,1471.5 1159.2,1471.6 1161.7,1471.7 1164.3,1471.7 1166.9,1471.8 1169.4,1471.8 1172.0,1471.8 1174.5,1471.8 1177.1,1471.8 1179.7,1471.8 1182.2,1471.8 1184.8,1471.7 1187.4,1471.7 1189.9,1471.6 1192.5,1471.6 1195.0,1471.5 1197.6,1471.5 1200.2,1471.4 1202.7,1471.4 1205.3,1471.3 1207.9,1471.2 1210.4,1471.1 1213.0,1471.1 1215.5,1471.0 1218.1,1470.9 1220.7,1470.8 1223.2,1470.7 1225.8,1470.7 1228.4,1470.6 1230.9,1470.5 1233.5,1470.4 1236.0,1470.3 1238.6,1470.3 1241.2,1470.2 1243.7,1470.1 1246.3,1470.0 1248.9,1469.9 1251.4,1469.9 1254.0,1469.8 1256.5,1469.7 1259.1,1469.6 1261.7,1469.5 1264.2,1469.5 1266.8,1469.4 1269.4,1469.3 1271.9,1469.2 1274.5,1469.2 1277.0,1469.1 1279.6,1469.0 1282.2,1469.0 1284.7,1468.9 1287.3,1468.8 1289.9,1468.8 1292.4,1468.7 1295.0,1468.7 1297.6,1468.6 1300.1,1468.5 1302.7,1468.5 1305.2,1468.4 1307.8,1468.4 1310.4,1468.3 1312.9,1468.2 1315.5,1468.2 1318.1,1468.1 1320.6,1468.1 1323.2,1468.0 1325.7,1468.0 1328.3,1467.9 1330.9,1467.9 1333.4,1467.9 1336.0,1467.8 1338.6,1467.8 1341.1,1467.7 1343.7,1467.7 1346.2,1467.6 1348.8,1467.6 1351.4,1467.6 1353.9,1467.5 1356.5,1467.5 1359.1,1467.4 1361.6,1467.4 1364.2,1467.4 1366.7,1467.3 1369.3,1467.3 1371.9,1467.3 1374.4,1467.2 1377.0,1467.2 1379.6,1467.2 1382.1,1467.1 1384.7,1467.1 1387.2,1467.1 1389.8,1467.0 1392.4,1467.0 1394.9,1467.0 1397.5,1467.0 1400.1,1466.9 1402.6,1466.9 1405.2,1466.9 1407.7,1466.9 1410.3,1466.8 1412.9,1466.8 1415.4,1466.8 1418.0,1466.8 1420.6,1466.7 1423.1,1466.7 1425.7,1466.7 1428.2,1466.7 1430.8,1466.7 1433.4,1466.6 1435.9,1466.6 1438.5,1466.6 1441.1,1466.6 1443.6,1466.6 1446.2,1466.6 1448.7,1466.5 1451.3,1466.5 1453.9,1466.5 1456.4,1466.5 1459.0,1466.5 1461.6,1466.5 1464.1,1466.4 1466.7,1466.4 1469.2,1466.4 1471.8,1466.4 1474.4,1466.4 1476.9,1466.4 1479.5,1466.4 1482.1,1466.3 1484.6,1466.3 1487.2,1466.3 1489.8,1466.3 1492.3,1466.3 1494.9,1466.3 1497.4,1466.3 1500.0,1466.3 1502.6,1466.3 1505.1,1466.2 1507.7,1466.2 1510.3,1466.2 1512.8,1466.2 1515.4,1466.2 1517.9,1466.2 1520.5,1466.2 1523.1,1466.2 1525.6,1466.2 1528.2,1466.2 1530.8,1466.2 1533.3,1466.1 1535.9,1466.1 1538.4,1466.1 1541.0,1466.1 1543.6,1466.1 1546.1,1466.1 1548.7,1466.1 1551.3,1466.1 1553.8,1466.1 1556.4,1466.1 1558.9,1466.1 1561.5,1466.1 1564.1,1466.1 1566.6,1466.1 1569.2,1466.0 1571.8,1466.0 1574.3,1466.0 1576.9,1466.0 1579.4,1466.0 1582.0,1466.0 1584.6,1466.0 1587.1,1466.0 1589.7,1466.0 1592.3,1466.0 1594.8,1466.0 1597.4,1466.0 1599.9,1466.0 1602.5,1466.0 1605.1,1466.0 1607.6,1466.0 1610.2,1466.0 1612.8,1466.0 1615.3,1466.0 1617.9,1466.0 1620.4,1466.0 1623.0,1466.0 1625.6,1466.0 1628.1,1465.9 1630.7,1465.9 1633.3,1465.9 1635.8,1465.9 1638.4,1465.9 1640.9,1465.9 1643.5,1465.9 1646.1,1465.9 1648.6,1465.9 1651.2,1465.9 1653.8,1465.9 1656.3,1465.9 1658.9,1465.9 1661.4,1465.9 1664.0,1465.9 1666.6,1465.9 1669.1,1465.9 1671.7,1465.9 1674.3,1465.9 1676.8,1465.9 1679.4,1465.9 1682.0,1465.9 1684.5,1465.9 1687.1,1465.9 1689.6,1465.9 1692.2,1465.9 1694.8,1465.9 1697.3,1465.9 1699.9,1465.9 1702.5,1465.9 1705.0,1465.9 1707.6,1465.9 1710.1,1465.9 1712.7,1465.9 1715.3,1465.9 1717.8,1465.9 1720.4,1465.9 1723.0,1465.9 1725.5,1465.9 1728.1,1465.9 1730.6,1465.9 1733.2,1465.9 1735.8,1465.9 1738.3,1465.9 1740.9,1465.9 1743.5,1465.9 1746.0,1465.9 1748.6,1465.8 1751.1,1465.8 1753.7,1465.8 1756.3,1465.8 1758.8,1465.8 1761.4,1465.8 1764.0,1465.8 1766.5,1465.8 1769.1,1465.8 1771.6,1465.8 1774.2,1465.8 1776.8,1465.8 1779.3,1465.8 1781.9,1465.8 1784.5,1465.8 1787.0,1465.8 1789.6,1465.8 1792.1,1465.8 1794.7,1465.8 1797.3,1465.8 1799.8,1465.8 1802.4,1465.8 1805.0,1465.8 1807.5,1465.8 1810.1,1465.8 1812.6,1465.8 1815.2,1465.8 1817.8,1465.8 1820.3,1465.8 1822.9,1465.8 1825.5,1465.8 1828.0,1465.8 1830.6,1465.8 1833.1,1465.8 1835.7,1465.8 1838.3,1465.8 1840.8,1465.8 1843.4,1465.8 1846.0,1465.8 1848.5,1465.8 1851.1,1465.8 1853.6,1465.8 1856.2,1465.8 1858.8,1465.8 1861.3,1465.8 1863.9,1465.8 1866.5,1465.8 1869.0,1465.8 1871.6,1465.8 1874.1,1465.8 1876.7,1465.8 1879.3,1465.8 1881.8,1465.8 1884.4,1465.8 1887.0,1465.8 1889.5,1465.8 1892.1,1465.8 1894.7,1465.8 1897.2,1465.8 1899.8,1465.8 1902.3,1465.8 1904.9,1465.8 1907.5,1465.8 1910.0,1465.8 1912.6,1465.8 1915.2,1465.8 1917.7,1465.8 1920.3,1465.8 1922.8,1465.8 1925.4,1465.8 1928.0,1465.8 1930.5,1465.8 1933.1,1465.8 1935.7,1465.8 1938.2,1465.8 1940.8,1465.8 1943.3,1465.8 1945.9,1465.8 1948.5,1465.8 1951.0,1465.8 1953.6,1465.8 1956.2,1465.8 1958.7,1465.8 1961.3,1465.8 1963.8,1465.8 1966.4,1465.8 1969.0,1465.8 1971.5,1465.8 1974.1,1465.8 1976.7,1465.8 1979.2,1465.8 1981.8,1465.8 1984.3,1465.8 1986.9,1465.8 1989.5,1465.8 1992.0,1465.8 1994.6,1465.8 1997.2,1465.8 1999.7,1465.8 2002.3,1465.8 2004.8,1465.8 2007.4,1465.8 2010.0,1465.8 2012.5,1465.8 2015.1,1465.8 2017.7,1465.8 2020.2,1465.8 2022.8,1465.8 2025.3,1465.8 2027.9,1465.8 2030.5,1465.8 2033.0,1465.8 2035.6,1465.8 2038.2,1465.8 2040.7,1465.8 2043.3,1465.8 2045.8,1465.8 2048.4,1465.8 2051.0,1465.8 2053.5,1465.8 2056.1,1465.8 2058.7,1465.8 2061.2,1465.8 2063.8,1465.8 2066.3,1465.8 2068.9,1465.8 2071.5,1465.8 2074.0,1465.8 2076.6,1465.8"/>
<polyline stroke="#0000d4" points="285.3,1002.4 287.9,1002.4 290.4,1002.4 293.0,1002.4 295.6,1002.4 298.1,1002.4 300.7,1002.4 303.2,1002.4 305.8,1002.4 308.4,1002.4 310.9,1002.4 313.5,1002.4 316.1,1002.4 318.6,1002.4 321.2,1002.4 323.7,1002.4 326.3,1002.4 328.9,1002.4 331.4,1002.4 334.0,1002.4 336.6,1002.4 339.1,1002.4 341.7,1002.4 344.2,1002.4 346.8,1002.4 349.4,1002.4 351.9,1002.4 354.5,1002.4 357.1,1002.4 359.6,1002.4 362.2,1002.4 364.7,1002.4 367.3,1002.4 369.9,1002.4 372.4,1002.4 375.0,1002.4 377.6,1002.4 380.1,1002.4 382.7,1002.4 385.2,1002.5 387.8,1002.5 390.4,1002.5 392.9,1002.5 395.5,1002.5 398.1,1002.5 400.6,1002.5 403.2,1002.5 405.7,1002.5 408.3,1002.5 410.9,1002.5 413.4,1002.5 416.0,1002.5 418.6,1002.5 421.1,1002.5 423.7,1002.5 426.2,1002.5 428.8,1002.5 431.4,1002.5 433.9,1002.5 436.5,1002.5 439.1,1002.5 441.6,1002.6 444.2,1002.6 446.7,1002.6 449.3,1002.6 451.9,1002.6 454.4,1002.6 457.0,1002.6 459.6,1002.6 462.1,1002.6 464.7,1002.6 467.2,1002.6 469.8,1002.6 472.4,1002.6 474.9,1002.6 477.5,1002.6 480.1,1002.7 482.6,1002.7 485.2,1002.7 487.8,1002.7 490.3,1002.7 492.9,1002.7 495.4,1002.7 498.0,1002.7 500.6,1002.7 503.1,1002.7 505.7,1002.7 508.3,1002.8 510.8,1002.8 513.4,1002.8 515.9,1002.8 518.5,1002.8 521.1,1002.8 523.6,1002.8 526.2,1002.8 528.8,1002.9 531.3,1002.9 533.9,1002.9 536.4,1002.9 539.0,1002.9 541.6,1002.9 544.1,1002.9 546.7,1002.9 549.3,1003.0 551.8,1003.0 554.4,1003.0 556.9,1003.0 559.5,1003.0 562.1,1003.0 564.6,1003.1 567.2,1003.1 569.8,1003.1 572.3,1003.1 574.9,1003.1 577.4,1003.2 580.0,1003.2 582.6,1003.2 585.1,1003.2 587.7,1003.2 590.3,1003.3 592.8,1003.3 595.4,1003.3 597.9,1003.3 600.5,1003.4 603.1,1003.4 605.6,1003.4 608.2,1003.4 610.8,1003.5 613.3,1003.5 615.9,1003.5 618.4,1003.5 621.0,1003.6 623.6,1003.6 626.1,1003.6 628.7,1003.7 631.3,1003.7 633.8,1003.7 636.4,1003.8 638.9,1003.8 641.5,1003.8 644.1,1003.9 646.6,1003.9 649.2,1003.9 651.8,1004.0 654.3,1004.0 656.9,1004.0 659.4,1004.1 662.0,1004.1 664.6,1004.2 667.1,1004.2 669.7,1004.3 672.3,1004.3 674.8,1004.4 677.4,1004.4 679.9,1004.5 682.5,1004.5 685.1,1004.6 687.6,1004.6 690.2,1004.7 692.8,1004.7 695.3,1004.8 697.9,1004.8 700.5,1004.9 703.0,1004.9 705.6,1005.0 708.1,1005.1 710.7,1005.1 713.3,1005.2 715.8,1005.3 718.4,1005.3 721.0,1005.4 723.5,1005.5 726.1,1005.6 728.6,1005.6 731.2,1005.7 733.8,1005.8 736.3,1005.9 738.9,1006.0 741.5,1006.0 744.0,1006.1 746.6,1006.2 749.1,1006.3 751.7,1006.4 754.3,1006.5 756.8,1006.6 759.4,1006.7 762.0,1006.8 764.5,1006.9 767.1,1007.0 769.6,1007.1 772.2,1007.2 774.8,1007.4 777.3,1007.5 779.9,1007.6 782.5,1007.7 785.0,1007.8 787.6,1008.0 790.1,1008.1 792.7,1008.2 795.3,1008.4 797.8,1008.5 800.4,1008.7 803.0,1008.8 805.5,1009.0 808.1,1009.1 810.6,1009.3 813.2,1009.4 815.8,1009.6 818.3,1009.8 820.9,1010.0 823.5,1010.1 826.0,1010.3 828.6,1010.5 831.1,1010.7 833.7,1010.9 836.3,1011.1 838.8,1011.3 841.4,1011.5 844.0,1011.7 846.5,1011.9 849.1,1012.2 851.6,1012.4 854.2,1012.6 856.8,1012.9 859.3,1013.1 861.9,1013.4 864.5,1013.6 867.0,1013.9 869.6,1014.2 872.1,1014.4 874.7,1014.7 877.3,1015.0 879.8,1015.3 882.4,1015.6 885.0,1015.9 887.5,1016.2 890.1,1016.6 892.7,1016.9 895.2,1017.2 897.8,1017.6 900.3,1017.9 902.9,1018.3 905.5,1018.7 908.0,1019.0 910.6,1019.4 913.2,1019.8 915.7,1020.2 918.3,1020.7 920.8,1021.1 923.4,1021.5 926.0,1022.0 928.5,1022.4 931.1,1022.9 933.7,1023.4 936.2,1023.9 938.8,1024.4 941.3,1024.9 943.9,1025.4 946.5,1025.9 949.0,1026.5 951.6,1027.1 954.2,1027.6 956.7,1028.2 959.3,1028.8 961.8,1029.4 964.4,1030.1 967.0,1030.7 969.5,1031.4 972.1,1032.1 974.7,1032.7 977.2,1033.5 979.8,1034.2 982.3,1034.9 984.9,1035.7 987.5,1036.4 990.0,1037.2 992.6,1038.0 995.2,1038.9 997.7,1039.7 1000.3,1040.6 1002.8,1041.5 1005.4,1042.4 1008.0,1043.3 1010.5,1044.2 1013.1,1045.2 1015.7,1046.2 1018.2,1047.2 1020.8,1048.2 1023.3,1049.3 1025.9,1050.4 1028.5,1051.5 1031.0,1052.6 1033.6,1053.8 1036.2,1055.0 1038.7,1056.2 1041.3,1057.4 1043.8,1058.7 1046.4,1060.0 1049.0,1061.3 1051.5,1062.6 1054.1,1064.0 1056.7,1065.4 1059.2,1066.8 1061.8,1068.3 1064.3,1069.8 1066.9,1071.3 1069.5,1072.9 1072.0,1074.5 1074.6,1076.1 1077.2,1077.8 1079.7,1079.5 1082.3,1081.2 1084.9,1083.0 1087.4,1084.8 1090.0,1086.7 1092.5,1088.6 1095.1,1090.5 1097.7,1092.5 1100.2,1094.5 1102.8,1096.5 1105.4,1098.6 1107.9,1100.7 1110.5,1102.9 1113.0,1105.1 1115.6,1107.4 1118.2,1109.7 1120.7,1112.0 1123.3,1114.4 1125.9,1116.8 1128.4,1119.3 1131.0,1121.9 1133.5,1124.4 1136.1,1127.1 1138.7,1129.7 1141.2,1132.4 1143.8,1135.2 1146.4,1138.0 1148.9,1140.9 1151.5,1143.8 1154.0,1146.8 1156.6,1149.8 1159.2,1152.9 1161.7,1156.0 1164.3,1159.1 1166.9,1162.4 1169.4,1165.6 1172.0,1169.0 1174.5,1172.4 1177.1,1175.8 1179.7,1179.3 1182.2,1182.8 1184.8,1186.4 1187.4,1190.1 1189.9,1193.8 1192.5,1197.5 1195.0,1201.4 1197.6,1205.2 1200.2,1209.2 1202.7,1213.2 1205.3,1217.2 1207.9,1221.3 1210.4,1225.5 1213.0,1229.7 1215.5,1234.0 1218.1,1238.4 1220.7,1242.8 1223.2,1247.3 1225.8,1251.8 1228.4,1256.4 1230.9,1261.0 1233.5,1265.7 1236.0,1270.5 1238.6,1275.3 1241.2,1280.2 1243.7,1285.1 1246.3,1290.1 1248.9,1295.1 1251.4,1300.2 1254.0,1305.3 1256.5,1310.5 1259.1,1315.7 1261.7,1320.9 1264.2,1326.1 1266.8,1331.4 1269.4,1336.6 1271.9,1341.8 1274.5,1347.1 1277.0,1352.3 1279.6,1357.5 1282.2,1362.6 1284.7,1367.7 1287.3,1372.7 1289.9,1377.7 1292.4,1382.5 1295.0,1387.3 1297.6,1391.9 1300.1,1396.5 1302.7,1400.9 1305.2,1405.2 1307.8,1409.3 1310.4,1413.3 1312.9,1417.2 1315.5,1420.9 1318.1,1424.4 1320.6,1427.8 1323.2,1431.1 1325.7,1434.1 1328.3,1437.0 1330.9,1439.8 1333.4,1442.4 1336.0,1444.8 1338.6,1447.1 1341.1,1449.2 1343.7,1451.2 1346.2,1453.1 1348.8,1454.8 1351.4,1456.4 1353.9,1457.9 1356.5,1459.3 1359.1,1460.6 1361.6,1461.7 1364.2,1462.8 1366.7,1463.8 1369.3,1464.7 1371.9,1465.5 1374.4,1466.3 1377.0,1467.0 1379.6,1467.6 1382.1,1468.1 1384.7,1468.6 1387.2,1469.1 1389.8,1469.5 1392.4,1469.8 1394.9,1470.2 1397.5,1470.4 1400.1,1470.7 1402.6,1470.9 1405.2,1471.1 1407.7,1471.2 1410.3,1471.4 1412.9,1471.5 1415.4,1471.6 1418.0,1471.7 1420.6,1471.7 1423.1,1471.8 1425.7,1471.8 1428.2,1471.8 1430.8,1471.8 1433.4,1471.8 1435.9,1471.8 1438.5,1471.8 1441.1,1471.7 1443.6,1471.7 1446.2,1471.6 1448.7,1471.6 1451.3,1471.5 1453.9,1471.5 1456.4,1471.4 1459.0,1471.3 1461.6,1471.3 1464.1,1471.2 1466.7,1471.1 1469.2,1471.0 1471.8,1471.0 1474.4,1470.9 1476.9,1470.8 1479.5,1470.7 1482.1,1470.6 1484.6,1470.6 1487.2,1470.5 1489.8,1470.4 1492.3,1470.3 1494.9,1470.2 1497.4,1470.2 1500.0,1470.1 1502.6,1470.0 1505.1,1469.9 1507.7,1469.8 1510.3,1469.8 1512.8,1469.7 1515.4,1469.6 1517.9,1469.5 1520.5,1469.5 1523.1,1469.4 1525.6,1469.3 1528.2,1469.2 1530.8,1469.2 1533.3,1469.1 1535.9,1469.0 1538.4,1469.0 1541.0,1468.9 1543.6,1468.8 1546.1,1468.8 1548.7,1468.7 1551.3,1468.6 1553.8,1468.6 1556.4,1468.5 1558.9,1468.5 1561.5,1468.4 1564.1,1468.4 1566.6,1468.3 1569.2,1468.2 1571.8,1468.2 1574.3,1468.1 1576.9,1468.1 1579.4,1468.0 1582.0,1468.0 1584.6,1467.9 1587.1,1467.9 1589.7,1467.8 1592.3,1467.8 1594.8,1467.8 1597.4,1467.7 1599.9,1467.7 1602.5,1467.6 1605.1,1467.6 1607.6,1467.5 1610.2,1467.5 1612.8,1467.5 1615.3,1467.4 1617.9,1467.4 1620.4,1467.4 1623.0,1467.3 1625.6,1467.3 1628.1,1467.3 1630.7,1467.2 1633.3,1467.2 1635.8,1467.2 1638.4,1467.1 1640.9,1467.1 1643.5,1467.1 1646.1,1467.0 1648.6,1467.0 1651.2,1467.0 1653.8,1467.0 1656.3,1466.9 1658.9,1466.9 1661.4,1466.9 1664.0,1466.9 1666.6,1466.8 1669.1,1466.8 1671.7,1466.8 1674.3,1466.8 1676.8,1466.7 1679.4,1466.7 1682.0,1466.7 1684.5,1466.7 1687.1,1466.7 1689.6,1466.6 1692.2,1466.6 1694.8,1466.6 1697.3,1466.6 1699.9,1466.6 1702.5,1466.6 1705.0,1466.5 1707.6,1466.5 1710.1,1466.5 1712.7,1466.5 1715.3,1466.5 1717.8,1466.5 1720.4,1466.4 1723.0,1466.4 1725.5,1466.4 1728.1,1466.4 1730.6,1466.4 1733.2,1466.4 1735.8,1466.4 1738.3,1466.3 1740.9,1466.3 1743.5,1466.3 1746.0,1466.3 1748.6,1466.3 1751.1,1466.3 1753.7,1466.3 1756.3,1466.3 1758.8,1466.3 1761.4,1466.2 1764.0,1466.2 1766.5,1466.2 1769.1,1466.2 1771.6,1466.2 1774.2,1466.2 1776.8,1466.2 1779.3,1466.2 1781.9,1466.2 1784.5,1466.2 1787.0,1466.2 1789.6,1466.1 1792.1,1466.1 1794.7,1466.1 1797.3,1466.1 1799.8,1466.1 1802.4,1466.1 1805.0,1466.1 1807.5,1466.1 1810.1,1466.1 1812.6,1466.1 1815.2,1466.1 1817.8,1466.1 1820.3,1466.1 1822.9,1466.1 1825.5,1466.0 1828.0,1466.0 1830.6,1466.0 1833.1,1466.0 1835.7,1466.0 1838.3,1466.0 1840.8,1466.0 1843.4,1466.0 1846.0,1466.0 1848.5,1466.0 1851.1,1466.0 1853.6,1466.0 1856.2,1466.0 1858.8,1466.0 1861.3,1466.0 1863.9,1466.0 1866.5,1466.0 1869.0,1466.0 1871.6,1466.0 1874.1,1466.0 1876.7,1466.0 1879.3,1466.0 1881.8,1465.9 1884.4,1465.9 1887.0,1465.9 1889.5,1465.9 1892.1,1465.9 1894.7,1465.9 1897.2,1465.9 1899.8,1465.9 1902.3,1465.9 1904.9,1465.9 1907.5,1465.9 1910.0,1465.9 1912.6,1465.9 1915.2,1465.9 1917.7,1465.9 1920.3,1465.9 1922.8,1465.9 1925.4,1465.9 1928.0,1465.9 1930.5,1465.9 1933.1,1465.9 1935.7,1465.9 1938.2,1465.9 1940.8,1465.9 1943.3,1465.9 1945.9,1465.9 1948.5,1465.9 1951.0,1465.9 1953.6,1465.9 1956.2,1465.9 1958.7,1465.9 1961.3,1465.9 1963.8,1465.9 1966.4,1465.9 1969.0,1465.9 1971.5,1465.9 1974.1,1465.9 1976.7,1465.9 1979.2,1465.9 1981.8,1465.9 1984.3,1465.9 1986.9,1465.9 1989.5,1465.9 1992.0,1465.9 1994.6,1465.9 1997.2,1465.9 1999.7,1465.9 2002.3,1465.9 2004.8,1465.8 2007.4,1465.8 2010.0,1465.8 2012.5,1465.8 2015.1,1465.8 2017.7,1465.8 2020.2,1465.8 2022.8,1465.8 2025.3,1465.8 2027.9,1465.8 2030.5,1465.8 2033.0,1465.8 2035.6,1465.8 2038.2,1465.8 2040.7,1465.8 2043.3,1465.8 2045.8,1465.8 2048.4,1465.8 2051.0,1465.8 2053.5,1465.8 2056.1,1465.8 2058.7,1465.8 2061.2,1465.8 2063.8,1465.8 2066.3,1465.8 2068.9,1465.8 2071.5,1465.8 2074.0,1465.8 2076.6,1465.8"/>
<polyline stroke="#7e2f8e" points="285.3,1002.3 287.9,1002.3 290.4,1002.3 293.0,1002.3 295.6,1002.3 298.1,1002.3 300.7,1002.3 303.2,1002.3 305.8,1002.3 308.4,1002.3 310.9,1002.3 313.5,1002.3 316.1,1002.3 318.6,1002.3 321.2,1002.3 323.7,1002.3 326.3,1002.3 328.9,1002.3 331.4,1002.3 334.0,1002.3 336.6,1002.3 339.1,1002.3 341.7,1002.3 344.2,1002.3 346.8,1002.3 349.4,1002.3 351.9,1002.3 354.5,1002.3 357.1,1002.3 359.6,1002.3 362.2,1002.3 364.7,1002.3 367.3,1002.3 369.9,1002.3 372.4,1002.3 375.0,1002.3 377.6,1002.3 380.1,1002.3 382.7,1002.3 385.2,1002.3 387.8,1002.3 390.4,1002.3 392.9,1002.3 395.5,1002.3 398.1,1002.3 400.6,1002.3 403.2,1002.3 405.7,1002.3 408.3,1002.3 410.9,1002.3 413.4,1002.3 416.0,1002.3 418.6,1002.3 421.1,1002.3 423.7,1002.3 426.2,1002.3 428.8,1002.3 431.4,1002.3 433.9,1002.3 436.5,1002.3 439.1,1002.3 441.6,1002.3 444.2,1002.3 446.7,1002.3 449.3,1002.3 451.9,1002.3 454.4,1002.3 457.0,1002.3 459.6,1002.3 462.1,1002.3 464.7,1002.3 467.2,1002.3 469.8,1002.3 472.4,1002.3 474.9,1002.3 477.5,1002.3 480.1,1002.3 482.6,1002.3 485.2,1002.3 487.8,1002.3 490.3,1002.3 492.9,1002.3 495.4,1002.3 498.0,1002.3 500.6,1002.3 503.1,1002.3 505.7,1002.3 508.3,1002.3 510.8,1002.3 513.4,1002.3 515.9,1002.3 518.5,1002.4 521.1,1002.4 523.6,1002.4 526.2,1002.4 528.8,1002.4 531.3,1002.4 533.9,1002.4 536.4,1002.4 539.0,1002.4 541.6,1002.4 544.1,1002.4 546.7,1002.4 549.3,1002.4 551.8,1002.4 554.4,1002.4 556.9,1002.4 559.5,1002.4 562.1,1002.4 564.6,1002.4 567.2,1002.4 569.8,1002.4 572.3,1002.4 574.9,1002.4 577.4,1002.4 580.0,1002.4 582.6,1002.4 585.1,1002.4 587.7,1002.4 590.3,1002.4 592.8,1002.4 595.4,1002.4 597.9,1002.4 600.5,1002.4 603.1,1002.4 605.6,1002.4 608.2,1002.4 610.8,1002.4 613.3,1002.4 615.9,1002.4 618.4,1002.4 621.0,1002.4 623.6,1002.4 626.1,1002.4 628.7,1002.4 631.3,1002.4 633.8,1002.4 636.4,1002.4 638.9,1002.4 641.5,1002.5 644.1,1002.5 646.6,1002.5 649.2,1002.5 651.8,1002.5 654.3,1002.5 656.9,1002.5 659.4,1002.5 662.0,1002.5 664.6,1002.5 667.1,1002.5 669.7,1002.5 672.3,1002.5 674.8,1002.5 677.4,1002.5 679.9,1002.5 682.5,1002.5 685.1,1002.5 687.6,1002.5 690.2,1002.5 692.8,1002.5 695.3,1002.5 697.9,1002.6 700.5,1002.6 703.0,1002.6 705.6,1002.6 708.1,1002.6 710.7,1002.6 713.3,1002.6 715.8,1002.6 718.4,1002.6 721.0,1002.6 723.5,1002.6 726.1,1002.6 728.6,1002.6 731.2,1002.6 733.8,1002.6 736.3,1002.7 738.9,1002.7 741.5,1002.7 744.0,1002.7 746.6,1002.7 749.1,1002.7 751.7,1002.7 754.3,1002.7 756.8,1002.7 759.4,1002.7 762.0,1002.8 764.5,1002.8 767.1,1002.8 769.6,1002.8 772.2,1002.8 774.8,1002.8 777.3,1002.8 779.9,1002.8 782.5,1002.8 785.0,1002.9 787.6,1002.9 790.1,1002.9 792.7,1002.9 795.3,1002.9 797.8,1002.9 800.4,1002.9 803.0,1003.0 805.5,1003.0 808.1,1003.0 810.6,1003.0 813.2,1003.0 815.8,1003.0 818.3,1003.0 820.9,1003.1 823.5,1003.1 826.0,1003.1 828.6,1003.1 831.1,1003.1 833.7,1003.2 836.3,1003.2 838.8,1003.2 841.4,1003.2 844.0,1003.2 846.5,1003.3 849.1,1003.3 851.6,1003.3 854.2,1003.3 856.8,1003.4 859.3,1003.4 861.9,1003.4 864.5,1003.4 867.0,1003.5 869.6,1003.5 872.1,1003.5 874.7,1003.5 877.3,1003.6 879.8,1003.6 882.4,1003.6 885.0,1003.7 887.5,1003.7 890.1,1003.7 892.7,1003.8 895.2,1003.8 897.8,1003.8 900.3,1003.9 902.9,1003.9 905.5,1003.9 908.0,1004.0 910.6,1004.0 913.2,1004.1 915.7,1004.1 918.3,1004.1 920.8,1004.2 923.4,1004.2 926.0,1004.3 928.5,1004.3 931.1,1004.4 933.7,1004.4 936.2,1004.5 938.8,1004.5 941.3,1004.6 943.9,1004.6 946.5,1004.7 949.0,1004.7 951.6,1004.8 954.2,1004.8 956.7,1004.9 959.3,1005.0 961.8,1005.0 964.4,1005.1 967.0,1005.1 969.5,1005.2 972.1,1005.3 974.7,1005.4 977.2,1005.4 979.8,1005.5 982.3,1005.6 984.9,1005.6 987.5,1005.7 990.0,1005.8 992.6,1005.9 995.2,1006.0 997.7,1006.1 1000.3,1006.1 1002.8,1006.2 1005.4,1006.3 1008.0,1006.4 1010.5,1006.5 1013.1,1006.6 1015.7,1006.7 1018.2,1006.8 1020.8,1006.9 1023.3,1007.0 1025.9,1007.1 1028.5,1007.3 1031.0,1007.4 1033.6,1007.5 1036.2,1007.6 1038.7,1007.7 1041.3,1007.9 1043.8,1008.0 1046.4,1008.1 1049.0,1008.3 1051.5,1008.4 1054.1,1008.5 1056.7,1008.7 1059.2,1008.8 1061.8,1009.0 1064.3,1009.1 1066.9,1009.3 1069.5,1009.5 1072.0,1009.6 1074.6,1009.8 1077.2,1010.0 1079.7,1010.2 1082.3,1010.3 1084.9,1010.5 1087.4,1010.7 1090.0,1010.9 1092.5,1011.1 1095.1,1011.3 1097.7,1011.5 1100.2,1011.7 1102.8,1012.0 1105.4,1012.2 1107.9,1012.4 1110.5,1012.7 1113.0,1012.9 1115.6,1013.1 1118.2,1013.4 1120.7,1013.7 1123.3,1013.9 1125.9,1014.2 1128.4,1014.5 1131.0,1014.8 1133.5,1015.0 1136.1,1015.3 1138.7,1015.6 1141.2,1016.0 1143.8,1016.3 1146.4,1016.6 1148.9,1016.9 1151.5,1017.3 1154.0,1017.6 1156.6,1018.0 1159.2,1018.3 1161.7,1018.7 1164.3,1019.1 1166.9,1019.5 1169.4,1019.9 1172.0,1020.3 1174.5,1020.7 1177.1,1021.2 1179.7,1021.6 1182.2,1022.0 1184.8,1022.5 1187.4,1023.0 1189.9,1023.5 1192.5,1023.9 1195.0,1024.4 1197.6,1025.0 1200.2,1025.5 1202.7,1026.0 1205.3,1026.6 1207.9,1027.1 1210.4,1027.7 1213.0,1028.3 1215.5,1028.9 1218.1,1029.5 1220.7,1030.2 1223.2,1030.8 1225.8,1031.5 1228.4,1032.2 1230.9,1032.8 1233.5,1033.6 1236.0,1034.3 1238.6,1035.0 1241.2,1035.8 1243.7,1036.6 1246.3,1037.3 1248.9,1038.2 1251.4,1039.0 1254.0,1039.8 1256.5,1040.7 1259.1,1041.6 1261.7,1042.5 1264.2,1043.4 1266.8,1044.4 1269.4,1045.3 1271.9,1046.3 1274.5,1047.4 1277.0,1048.4 1279.6,1049.5 1282.2,1050.5 1284.7,1051.7 1287.3,1052.8 1289.9,1053.9 1292.4,1055.1 1295.0,1056.3 1297.6,1057.6 1300.1,1058.8 1302.7,1060.1 1305.2,1061.5 1307.8,1062.8 1310.4,1064.2 1312.9,1065.6 1315.5,1067.0 1318.1,1068.5 1320.6,1070.0 1323.2,1071.6 1325.7,1073.1 1328.3,1074.7 1330.9,1076.4 1333.4,1078.0 1336.0,1079.8 1338.6,1081.5 1341.1,1083.3 1343.7,1085.1 1346.2,1087.0 1348.8,1088.8 1351.4,1090.8 1353.9,1092.7 1356.5,1094.8 1359.1,1096.8 1361.6,1098.9 1364.2,1101.0 1366.7,1103.2 1369.3,1105.4 1371.9,1107.7 1374.4,1110.0 1377.0,1112.4 1379.6,1114.8 1382.1,1117.2 1384.7,1119.7 1387.2,1122.2 1389.8,1124.8 1392.4,1127.4 1394.9,1130.1 1397.5,1132.8 1400.1,1135.6 1402.6,1138.4 1405.2,1141.3 1407.7,1144.2 1410.3,1147.2 1412.9,1150.2 1415.4,1153.3 1418.0,1156.4 1420.6,1159.6 1423.1,1162.8 1425.7,1166.1 1428.2,1169.5 1430.8,1172.8 1433.4,1176.3 1435.9,1179.8 1438.5,1183.3 1441.1,1186.9 1443.6,1190.6 1446.2,1194.3 1448.7,1198.1 1451.3,1201.9 1453.9,1205.8 1456.4,1209.8 1459.0,1213.8 1461.6,1217.8 1464.1,1221.9 1466.7,1226.1 1469.2,1230.3 1471.8,1234.6 1474.4,1239.0 1476.9,1243.4 1479.5,1247.9 1482.1,1252.4 1484.6,1257.0 1487.2,1261.7 1489.8,1266.4 1492.3,1271.2 1494.9,1276.0 1497.4,1280.9 1500.0,1285.8 1502.6,1290.8 1505.1,1295.9 1507.7,1300.9 1510.3,1306.1 1512.8,1311.2 1515.4,1316.4 1517.9,1321.6 1520.5,1326.9 1523.1,1332.1 1525.6,1337.4 1528.2,1342.6 1530.8,1347.8 1533.3,1353.0 1535.9,1358.2 1538.4,1363.3 1541.0,1368.4 1543.6,1373.4 1546.1,1378.4 1548.7,1383.2 1551.3,1387.9 1553.8,1392.6 1556.4,1397.1 1558.9,1401.5 1561.5,1405.8 1564.1,1409.9 1566.6,1413.9 1569.2,1417.7 1571.8,1421.4 1574.3,1424.9 1576.9,1428.3 1579.4,1431.5 1582.0,1434.5 1584.6,1437.4 1587.1,1440.1 1589.7,1442.7 1592.3,1445.1 1594.8,1447.4 1597.4,1449.5 1599.9,1451.5 1602.5,1453.3 1605.1,1455.0 1607.6,1456.6 1610.2,1458.1 1612.8,1459.5 1615.3,1460.7 1617.9,1461.9 1620.4,1463.0 1623.0,1463.9 1625.6,1464.8 1628.1,1465.6 1630.7,1466.4 1633.3,1467.0 1635.8,1467.7 1638.4,1468.2 1640.9,1468.7 1643.5,1469.1 1646.1,1469.5 1648.6,1469.9 1651.2,1470.2 1653.8,1470.5 1656.3,1470.7 1658.9,1470.9 1661.4,1471.1 1664.0,1471.3 1666.6,1471.4 1669.1,1471.5 1671.7,1471.6 1674.3,1471.7 1676.8,1471.7 1679.4,1471.8 1682.0,1471.8 1684.5,1471.8 1687.1,1471.8 1689.6,1471.8 1692.2,1471.8 1694.8,1471.8 1697.3,1471.7 1699.9,1471.7 1702.5,1471.6 1705.0,1471.6 1707.6,1471.5 1710.1,1471.5 1712.7,1471.4 1715.3,1471.3 1717.8,1471.3 1720.4,1471.2 1723.0,1471.1 1725.5,1471.0 1728.1,1471.0 1730.6,1470.9 1733.2,1470.8 1735.8,1470.7 1738.3,1470.6 1740.9,1470.6 1743.5,1470.5 1746.0,1470.4 1748.6,1470.3 1751.1,1470.2 1753.7,1470.1 1756.3,1470.1 1758.8,1470.0 1761.4,1469.9 1764.0,1469.8 1766.5,1469.7 1769.1,1469.7 1771.6,1469.6 1774.2,1469.5 1776.8,1469.4 1779.3,1469.4 1781.9,1469.3 1784.5,1469.2 1787.0,1469.2 1789.6,1469.1 1792.1,1469.0 1794.7,1469.0 1797.3,1468.9 1799.8,1468.8 1802.4,1468.8 1805.0,1468.7 1807.5,1468.6 1810.1,1468.6 1812.6,1468.5 1815.2,1468.5 1817.8,1468.4 1820.3,1468.3 1822.9,1468.3 1825.5,1468.2 1828.0,1468.2 1830.6,1468.1 1833.1,1468.1 1835.7,1468.0 1838.3,1468.0 1840.8,1467.9 1843.4,1467.9 1846.0,1467.8 1848.5,1467.8 1851.1,1467.7 1853.6,1467.7 1856.2,1467.7 1858.8,1467.6 1861.3,1467.6 1863.9,1467.5 1866.5,1467.5 1869.0,1467.5 1871.6,1467.4 1874.1,1467.4 1876.7,1467.4 1879.3,1467.3 1881.8,1467.3 1884.4,1467.3 1887.0,1467.2 1889.5,1467.2 1892.1,1467.2 1894.7,1467.1 1897.2,1467.1 1899.8,1467.1 1902.3,1467.0 1904.9,1467.0 1907.5,1467.0 1910.0,1467.0 1912.6,1466.9 1915.2,1466.9 1917.7,1466.9 1920.3,1466.9 1922.8,1466.8 1925.4,1466.8 1928.0,1466.8 1930.5,1466.8 1933.1,1466.7 1935.7,1466.7 1938.2,1466.7 1940.8,1466.7 1943.3,1466.7 1945.9,1466.6 1948.5,1466.6 1951.0,1466.6 1953.6,1466.6 1956.2,1466.6 1958.7,1466.5 1961.3,1466.5 1963.8,1466.5 1966.4,1466.5 1969.0,1466.5 1971.5,1466.5 1974.1,1466.5 1976.7,1466.4 1979.2,1466.4 1981.8,1466.4 1984.3,1466.4 1986.9,1466.4 1989.5,1466.4 1992.0,1466.4 1994.6,1466.3 1997.2,1466.3 1999.7,1466.3 2002.3,1466.3 2004.8,1466.3 2007.4,1466.3 2010.0,1466.3 2012.5,1466.3 2015.1,1466.3 2017.7,1466.2 2020.2,1466.2 2022.8,1466.2 2025.3,1466.2 2027.9,1466.2 2030.5,1466.2 2033.0,1466.2 2035.6,1466.2 2038.2,1466.2 2040.7,1466.2 2043.3,1466.2 2045.8,1466.1 2048.4,1466.1 2051.0,1466.1 2053.5,1466.1 2056.1,1466.1 2058.7,1466.1 2061.2,1466.1 2063.8,1466.1 2066.3,1466.1 2068.9,1466.1 2071.5,1466.1 2074.0,1466.1 2076.6,1466.1"/>
<polyline stroke="#00e600" points="285.3,1002.3 287.9,1002.3 290.4,1002.3 293.0,1002.3 295.6,1002.3 298.1,1002.3 300.7,1002.3 303.2,1002.3 305.8,1002.3 308.4,1002.3 310.9,1002.3 313.5,1002.3 316.1,1002.3 318.6,1002.3 321.2,1002.3 323.7,1002.3 326.3,1002.3 328.9,1002.3 331.4,1002.3 334.0,1002.3 336.6,1002.3 339.1,1002.3 341.7,1002.3 344.2,1002.3 346.8,1002.3 349.4,1002.3 351.9,1002.3 354.5,1002.3 357.1,1002.3 359.6,1002.3 362.2,1002.3 364.7,1002.3 367.3,1002.3 369.9,1002.3 372.4,1002.3 375.0,1002.3 377.6,1002.3 380.1,1002.3 382.7,1002.3 385.2,1002.3 387.8,1002.3 390.4,1002.3 392.9,1002.3 395.5,1002.3 398.1,1002.3 400.6,1002.3 403.2,1002.3 405.7,1002.3 408.3,1002.3 410.9,1002.3 413.4,1002.3 416.0,1002.3 418.6,1002.3 421.1,1002.3 423.7,1002.3 426.2,1002.3 428.8,1002.3 431.4,1002.3 433.9,1002.3 436.5,1002.3 439.1,1002.3 441.6,1002.3 444.2,1002.3 446.7,1002.3 449.3,1002.3 451.9,1002.3 454.4,1002.3 457.0,1002.3 459.6,1002.3 462.1,1002.3 464.7,1002.3 467.2,1002.3 469.8,1002.3 472.4,1002.3 474.9,1002.3 477.5,1002.3 480.1,1002.3 482.6,1002.3 485.2,1002.3 487.8,1002.3 490.3,1002.3 492.9,1002.3 495.4,1002.3 498.0,1002.3 500.6,1002.3 503.1,1002.3 505.7,1002.3 508.3,1002.3 510.8,1002.3 513.4,1002.3 515.9,1002.3 518.5,1002.3 521.1,1002.3 523.6,1002.3 526.2,1002.3 528.8,1002.3 531.3,1002.3 533.9,1002.3 536.4,1002.3 539.0,1002.3 541.6,1002.3 544.1,1002.3 546.7,1002.3 549.3,1002.3 551.8,1002.3 554.4,1002.3 556.9,1002.3 559.5,1002.3 562.1,1002.3 564.6,1002.3 567.2,1002.3 569.8,1002.3 572.3,1002.3 574.9,1002.3 577.4,1002.3 580.0,1002.3 582.6,1002.3 585.1,1002.3 587.7,1002.3 590.3,1002.3 592.8,1002.3 595.4,1002.3 597.9,1002.3 600.5,1002.3 603.1,1002.3 605.6,1002.3 608.2,1002.3 610.8,1002.3 613.3,1002.3 615.9,1002.3 618.4,1002.3 621.0,1002.3 623.6,1002.3 626.1,1002.3 628.7,1002.3 631.3,1002.3 633.8,1002.3 636.4,1002.3 638.9,1002.3 641.5,1002.3 644.1,1002.3 646.6,1002.3 649.2,1002.3 651.8,1002.3 654.3,1002.3 656.9,1002.3 659.4,1002.3 662.0,1002.3 664.6,1002.3 667.1,1002.3 669.7,1002.3 672.3,1002.3 674.8,1002.3 677.4,1002.3 679.9,1002.3 682.5,1002.3 685.1,1002.3 687.6,1002.3 690.2,1002.3 692.8,1002.3 695.3,1002.3 697.9,1002.3 700.5,1002.3 703.0,1002.3 705.6,1002.3 708.1,1002.3 710.7,1002.3 713.3,1002.3 715.8,1002.3 718.4,1002.3 721.0,1002.3 723.5,1002.3 726.1,1002.3 728.6,1002.3 731.2,1002.3 733.8,1002.3 736.3,1002.3 738.9,1002.3 741.5,1002.3 744.0,1002.3 746.6,1002.3 749.1,1002.3 751.7,1002.3 754.3,1002.3 756.8,1002.3 759.4,1002.3 762.0,1002.3 764.5,1002.3 767.1,1002.3 769.6,1002.3 772.2,1002.3 774.8,1002.4 777.3,1002.4 779.9,1002.4 782.5,1002.4 785.0,1002.4 787.6,1002.4 790.1,1002.4 792.7,1002.4 795.3,1002.4 797.8,1002.4 800.4,1002.4 803.0,1002.4 805.5,1002.4 808.1,1002.4 810.6,1002.4 813.2,1002.4 815.8,1002.4 818.3,1002.4 820.9,1002.4 823.5,1002.4 826.0,1002.4 828.6,1002.4 831.1,1002.4 833.7,1002.4 836.3,1002.4 838.8,1002.4 841.4,1002.4 844.0,1002.4 846.5,1002.4 849.1,1002.4 851.6,1002.4 854.2,1002.4 856.8,1002.4 859.3,1002.4 861.9,1002.4 864.5,1002.4 867.0,1002.4 869.6,1002.4 872.1,1002.4 874.7,1002.4 877.3,1002.4 879.8,1002.4 882.4,1002.4 885.0,1002.4 887.5,1002.4 890.1,1002.4 892.7,1002.4 895.2,1002.4 897.8,1002.5 900.3,1002.5 902.9,1002.5 905.5,1002.5 908.0,1002.5 910.6,1002.5 913.2,1002.5 915.7,1002.5 918.3,1002.5 920.8,1002.5 923.4,1002.5 926.0,1002.5 928.5,1002.5 931.1,1002.5 933.7,1002.5 936.2,1002.5 938.8,1002.5 941.3,1002.5 943.9,1002.5 946.5,1002.5 949.0,1002.5 951.6,1002.5 954.2,1002.6 956.7,1002.6 959.3,1002.6 961.8,1002.6 964.4,1002.6 967.0,1002.6 969.5,1002.6 972.1,1002.6 974.7,1002.6 977.2,1002.6 979.8,1002.6 982.3,1002.6 984.9,1002.6 987.5,1002.6 990.0,1002.7 992.6,1002.7 995.2,1002.7 997.7,1002.7 1000.3,1002.7 1002.8,1002.7 1005.4,1002.7 1008.0,1002.7 1010.5,1002.7 1013.1,1002.7 1015.7,1002.7 1018.2,1002.8 1020.8,1002.8 1023.3,1002.8 1025.9,1002.8 1028.5,1002.8 1031.0,1002.8 1033.6,1002.8 1036.2,1002.8 1038.7,1002.8 1041.3,1002.9 1043.8,1002.9 1046.4,1002.9 1049.0,1002.9 1051.5,1002.9 1054.1,1002.9 1056.7,1002.9 1059.2,1003.0 1061.8,1003.0 1064.3,1003.0 1066.9,1003.0 1069.5,1003.0 1072.0,1003.0 1074.6,1003.1 1077.2,1003.1 1079.7,1003.1 1082.3,1003.1 1084.9,1003.1 1087.4,1003.1 1090.0,1003.2 1092.5,1003.2 1095.1,1003.2 1097.7,1003.2 1100.2,1003.2 1102.8,1003.3 1105.4,1003.3 1107.9,1003.3 1110.5,1003.3 1113.0,1003.4 1115.6,1003.4 1118.2,1003.4 1120.7,1003.4 1123.3,1003.5 1125.9,1003.5 1128.4,1003.5 1131.0,1003.5 1133.5,1003.6 1136.1,1003.6 1138.7,1003.6 1141.2,1003.7 1143.8,1003.7 1146.4,1003.7 1148.9,1003.8 1151.5,1003.8 1154.0,1003.8 1156.6,1003.9 1159.2,1003.9 1161.7,1003.9 1164.3,1004.0 1166.9,1004.0 1169.4,1004.1 1172.0,1004.1 1174.5,1004.1 1177.1,1004.2 1179.7,1004.2 1182.2,1004.3 1184.8,1004.3 1187.4,1004.4 1189.9,1004.4 1192.5,1004.5 1195.0,1004.5 1197.6,1004.6 1200.2,1004.6 1202.7,1004.7 1205.3,1004.7 1207.9,1004.8 1210.4,1004.8 1213.0,1004.9 1215.5,1005.0 1218.1,1005.0 1220.7,1005.1 1223.2,1005.2 1225.8,1005.2 1228.4,1005.3 1230.9,1005.4 1233.5,1005.4 1236.0,1005.5 1238.6,1005.6 1241.2,1005.7 1243.7,1005.7 1246.3,1005.8 1248.9,1005.9 1251.4,1006.0 1254.0,1006.1 1256.5,1006.2 1259.1,1006.2 1261.7,1006.3 1264.2,1006.4 1266.8,1006.5 1269.4,1006.6 1271.9,1006.7 1274.5,1006.8 1277.0,1006.9 1279.6,1007.0 1282.2,1007.2 1284.7,1007.3 1287.3,1007.4 1289.9,1007.5 1292.4,1007.6 1295.0,1007.8 1297.6,1007.9 1300.1,1008.0 1302.7,1008.1 1305.2,1008.3 1307.8,1008.4 1310.4,1008.6 1312.9,1008.7 1315.5,1008.9 1318.1,1009.0 1320.6,1009.2 1323.2,1009.3 1325.7,1009.5 1328.3,1009.7 1330.9,1009.8 1333.4,1010.0 1336.0,1010.2 1338.6,1010.4 1341.1,1010.6 1343.7,1010.7 1346.2,1010.9 1348.8,1011.1 1351.4,1011.4 1353.9,1011.6 1356.5,1011.8 1359.1,1012.0 1361.6,1012.2 1364.2,1012.5 1366.7,1012.7 1369.3,1012.9 1371.9,1013.2 1374.4,1013.4 1377.0,1013.7 1379.6,1014.0 1382.1,1014.2 1384.7,1014.5 1387.2,1014.8 1389.8,1015.1 1392.4,1015.4 1394.9,1015.7 1397.5,1016.0 1400.1,1016.3 1402.6,1016.6 1405.2,1017.0 1407.7,1017.3 1410.3,1017.7 1412.9,1018.0 1415.4,1018.4 1418.0,1018.8 1420.6,1019.2 1423.1,1019.6 1425.7,1020.0 1428.2,1020.4 1430.8,1020.8 1433.4,1021.2 1435.9,1021.7 1438.5,1022.1 1441.1,1022.6 1443.6,1023.0 1446.2,1023.5 1448.7,1024.0 1451.3,1024.5 1453.9,1025.0 1456.4,1025.6 1459.0,1026.1 1461.6,1026.7 1464.1,1027.2 1466.7,1027.8 1469.2,1028.4 1471.8,1029.0 1474.4,1029.6 1476.9,1030.3 1479.5,1030.9 1482.1,1031.6 1484.6,1032.2 1487.2,1032.9 1489.8,1033.7 1492.3,1034.4 1494.9,1035.1 1497.4,1035.9 1500.0,1036.7 1502.6,1037.5 1505.1,1038.3 1507.7,1039.1 1510.3,1040.0 1512.8,1040.8 1515.4,1041.7 1517.9,1042.6 1520.5,1043.6 1523.1,1044.5 1525.6,1045.5 1528.2,1046.5 1530.8,1047.5 1533.3,1048.5 1535.9,1049.6 1538.4,1050.7 1541.0,1051.8 1543.6,1052.9 1546.1,1054.1 1548.7,1055.3 1551.3,1056.5 1553.8,1057.8 1556.4,1059.0 1558.9,1060.3 1561.5,1061.7 1564.1,1063.0 1566.6,1064.4 1569.2,1065.8 1571.8,1067.3 1574.3,1068.7 1576.9,1070.2 1579.4,1071.8 1582.0,1073.4 1584.6,1075.0 1587.1,1076.6 1589.7,1078.3 1592.3,1080.0 1594.8,1081.8 1597.4,1083.5 1599.9,1085.4 1602.5,1087.2 1605.1,1089.1 1607.6,1091.1 1610.2,1093.0 1612.8,1095.1 1615.3,1097.1 1617.9,1099.2 1620.4,1101.3 1623.0,1103.5 1625.6,1105.8 1628.1,1108.0 1630.7,1110.3 1633.3,1112.7 1635.8,1115.1 1638.4,1117.6 1640.9,1120.0 1643.5,1122.6 1646.1,1125.2 1648.6,1127.8 1651.2,1130.5 1653.8,1133.2 1656.3,1136.0 1658.9,1138.8 1661.4,1141.7 1664.0,1144.6 1666.6,1147.6 1669.1,1150.7 1671.7,1153.7 1674.3,1156.9 1676.8,1160.1 1679.4,1163.3 1682.0,1166.6 1684.5,1169.9 1687.1,1173.3 1689.6,1176.8 1692.2,1180.3 1694.8,1183.8 1697.3,1187.5 1699.9,1191.1 1702.5,1194.9 1705.0,1198.6 1707.6,1202.5 1710.1,1206.4 1712.7,1210.3 1715.3,1214.3 1717.8,1218.4 1720.4,1222.5 1723.0,1226.7 1725.5,1231.0 1728.1,1235.3 1730.6,1239.6 1733.2,1244.1 1735.8,1248.5 1738.3,1253.1 1740.9,1257.7 1743.5,1262.4 1746.0,1267.1 1748.6,1271.9 1751.1,1276.7 1753.7,1281.6 1756.3,1286.5 1758.8,1291.5 1761.4,1296.6 1764.0,1301.7 1766.5,1306.8 1769.1,1312.0 1771.6,1317.2 1774.2,1322.4 1776.8,1327.6 1779.3,1332.9 1781.9,1338.1 1784.5,1343.3 1787.0,1348.6 1789.6,1353.8 1792.1,1358.9 1794.7,1364.1 1797.3,1369.1 1799.8,1374.1 1802.4,1379.1 1805.0,1383.9 1807.5,1388.6 1810.1,1393.2 1812.6,1397.8 1815.2,1402.1 1817.8,1406.4 1820.3,1410.5 1822.9,1414.5 1825.5,1418.3 1828.0,1421.9 1830.6,1425.4 1833.1,1428.8 1835.7,1431.9 1838.3,1435.0 1840.8,1437.8 1843.4,1440.5 1846.0,1443.1 1848.5,1445.5 1851.1,1447.7 1853.6,1449.8 1856.2,1451.8 1858.8,1453.6 1861.3,1455.3 1863.9,1456.9 1866.5,1458.3 1869.0,1459.7 1871.6,1460.9 1874.1,1462.1 1876.7,1463.1 1879.3,1464.1 1881.8,1464.9 1884.4,1465.7 1887.0,1466.5 1889.5,1467.1 1892.1,1467.7 1894.7,1468.3 1897.2,1468.8 1899.8,1469.2 1902.3,1469.6 1904.9,1469.9 1907.5,1470.2 1910.0,1470.5 1912.6,1470.8 1915.2,1471.0 1917.7,1471.1 1920.3,1471.3 1922.8,1471.4 1925.4,1471.5 1928.0,1471.6 1930.5,1471.7 1933.1,1471.7 1935.7,1471.8 1938.2,1471.8 1940.8,1471.8 1943.3,1471.8 1945.9,1471.8 1948.5,1471.8 1951.0,1471.8 1953.6,1471.7 1956.2,1471.7 1958.7,1471.6 1961.3,1471.6 1963.8,1471.5 1966.4,1471.5 1969.0,1471.4 1971.5,1471.3 1974.1,1471.3 1976.7,1471.2 1979.2,1471.1 1981.8,1471.0 1984.3,1470.9 1986.9,1470.9 1989.5,1470.8 1992.0,1470.7 1994.6,1470.6 1997.2,1470.5 1999.7,1470.5 2002.3,1470.4 2004.8,1470.3 2007.4,1470.2 2010.0,1470.1 2012.5,1470.1 2015.1,1470.0 2017.7,1469.9 2020.2,1469.8 2022.8,1469.7 2025.3,1469.7 2027.9,1469.6 2030.5,1469.5 2033.0,1469.4 2035.6,1469.4 2038.2,1469.3 2040.7,1469.2 2043.3,1469.1 2045.8,1469.1 2048.4,1469.0 2051.0,1468.9 2053.5,1468.9 2056.1,1468.8 2058.7,1468.7 2061.2,1468.7 2063.8,1468.6 2066.3,1468.6 2068.9,1468.5 2071.5,1468.4 2074.0,1468.4 2076.6,1468.3"/>
</g>
<line x1="391.3" y1="455.0" x2="413.0" y2="506.4" stroke="#000" stroke-width="2.4"/>
<polygon fill="#000" points="372.1,409.4 375.0,483.1 391.3,455.0 422.9,462.9"/>
<line x1="616.2" y1="484.9" x2="645.3" y2="547.3" stroke="#000" stroke-width="2.4"/>
<polygon fill="#000" points="595.2,440.1 600.9,513.6 616.2,484.9 648.0,491.6"/>
<line x1="842.0" y1="495.0" x2="885.0" y2="555.5" stroke="#000" stroke-width="2.4"/>
<polygon fill="#000" points="813.4,454.6 832.1,525.9 842.0,495.0 874.5,495.8"/>
<line x1="1135.1" y1="471.7" x2="1199.6" y2="547.2" stroke="#000" stroke-width="2.4"/>
<polygon fill="#000" points="1102.9,434.1 1128.0,503.4 1135.1,471.7 1167.5,469.6"/>
<line x1="1445.9" y1="451.0" x2="1538.3" y2="546.9" stroke="#000" stroke-width="2.4"/>
<polygon fill="#000" points="1411.6,415.4 1440.8,483.1 1445.9,451.0 1478.2,447.0"/>
<text transform="translate(315.0,575.0) scale(1,1.04)" font-family="'Liberation Sans', Arial, Helvetica, sans-serif" font-size="67" fill="#000">w0=0.1</text>
<text transform="translate(574.5,613.4) scale(1,1.04)" font-family="'Liberation Sans', Arial, Helvetica, sans-serif" font-size="67" fill="#000">w0=1</text>
<text transform="translate(913.0,624.3) scale(1,1.04)" font-family="'Liberation Sans', Arial, Helvetica, sans-serif" font-size="67" fill="#000">w0=10</text>
<text transform="translate(1227.2,615.6) scale(1,1.04)" font-family="'Liberation Sans', Arial, Helvetica, sans-serif" font-size="67" fill="#000">w0=100</text>
<text transform="translate(1567.6,615.6) scale(1,1.04)" font-family="'Liberation Sans', Arial, Helvetica, sans-serif" font-size="67" fill="#000">w0=1000</text>
<text x="255.8" y="160.8" font-family="'Liberation Sans', Arial, Helvetica, sans-serif" font-size="67" fill="#636363" text-anchor="end">50</text>
<text x="255.8" y="360.8" font-family="'Liberation Sans', Arial, Helvetica, sans-serif" font-size="67" fill="#636363" text-anchor="end">0</text>
<text x="255.8" y="560.8" font-family="'Liberation Sans', Arial, Helvetica, sans-serif" font-size="67" fill="#636363" text-anchor="end">-50</text>
<text x="255.8" y="760.8" font-family="'Liberation Sans', Arial, Helvetica, sans-serif" font-size="67" fill="#636363" text-anchor="end">-100</text>
<text x="255.8" y="960.8" font-family="'Liberation Sans', Arial, Helvetica, sans-serif" font-size="67" fill="#636363" text-anchor="end">-150</text>
<text x="255.8" y="1028.3" font-family="'Liberation Sans', Arial, Helvetica, sans-serif" font-size="67" fill="#636363" text-anchor="end">90</text>
<text x="255.8" y="1260.0" font-family="'Liberation Sans', Arial, Helvetica, sans-serif" font-size="67" fill="#636363" text-anchor="end">45</text>
<text x="255.8" y="1491.8" font-family="'Liberation Sans', Arial, Helvetica, sans-serif" font-size="67" fill="#636363" text-anchor="end">0</text>
<text x="255.8" y="1723.5" font-family="'Liberation Sans', Arial, Helvetica, sans-serif" font-size="67" fill="#636363" text-anchor="end">-45</text>
<text x="541.2" y="1819.5" font-family="'Liberation Sans', Arial, Helvetica, sans-serif" font-size="67" fill="#636363" text-anchor="middle">10<tspan font-size="52" dy="-34.5">-2</tspan></text>
<text x="1053.0" y="1819.5" font-family="'Liberation Sans', Arial, Helvetica, sans-serif" font-size="67" fill="#636363" text-anchor="middle">10<tspan font-size="52" dy="-34.5">0</tspan></text>
<text x="1564.8" y="1819.5" font-family="'Liberation Sans', Arial, Helvetica, sans-serif" font-size="67" fill="#636363" text-anchor="middle">10<tspan font-size="52" dy="-34.5">2</tspan></text>
<text x="2076.6" y="1819.5" font-family="'Liberation Sans', Arial, Helvetica, sans-serif" font-size="67" fill="#636363" text-anchor="middle">10<tspan font-size="52" dy="-34.5">4</tspan></text>
<text transform="translate(1174.8,84.5) scale(1,1.05)" font-family="'Liberation Sans', Arial, Helvetica, sans-serif" font-size="74.6" fill="#000" text-anchor="middle">Bode Diagram</text>
<text x="1173.2" y="1909.5" font-family="'Liberation Sans', Arial, Helvetica, sans-serif" font-size="74.6" fill="#000" text-anchor="middle" style="white-space:pre">w0  (rad/s)</text>
<text transform="translate(85,529.7) rotate(-90)" font-family="'Liberation Sans', Arial, Helvetica, sans-serif" font-size="73" fill="#000" text-anchor="middle">Magnitude (dB)</text>
<text transform="translate(122.8,1348.85) rotate(-90)" font-family="'Liberation Sans', Arial, Helvetica, sans-serif" font-size="74.6" fill="#000" text-anchor="middle">Phase (deg)</text>
<text x="158.5" y="2203" font-family="'Liberation Serif', 'Times New Roman', serif" font-size="84" fill="#000">(<tspan font-weight="bold">c</tspan>)</text>
<text x="300" y="2146" font-family="'Liberation Serif', 'Times New Roman', serif" font-size="96" font-style="italic" fill="#000">G</text>
<text x="364" y="2171" font-family="'Liberation Serif', 'Times New Roman', serif" font-size="52" font-style="italic" fill="#000">e</text>
<text x="387" y="2186" font-family="'Liberation Serif', 'Times New Roman', serif" font-size="40" fill="#000">3</text>
<text x="424" y="2146" font-family="'Liberation Serif', 'Times New Roman', serif" font-size="96" fill="#000">(</text>
<text x="458" y="2146" font-family="'Liberation Serif', 'Times New Roman', serif" font-size="96" font-style="italic" fill="#000">s</text>
<text x="498" y="2146" font-family="'Liberation Serif', 'Times New Roman', serif" font-size="96" fill="#000">)</text>
<text y="2202" font-family="'Liberation Serif', 'Times New Roman', serif" font-size="86" fill="#000"><tspan x="575.7" textLength="387.6" lengthAdjust="spacingAndGlyphs">Frequency</tspan> <tspan x="985.6" textLength="286.4" lengthAdjust="spacingAndGlyphs">domain</tspan> <tspan x="1291.7" textLength="487.8" lengthAdjust="spacingAndGlyphs">characteristic</tspan> <tspan x="1799.7" textLength="207.7" lengthAdjust="spacingAndGlyphs">curve</tspan></text></svg>
</body></html>
